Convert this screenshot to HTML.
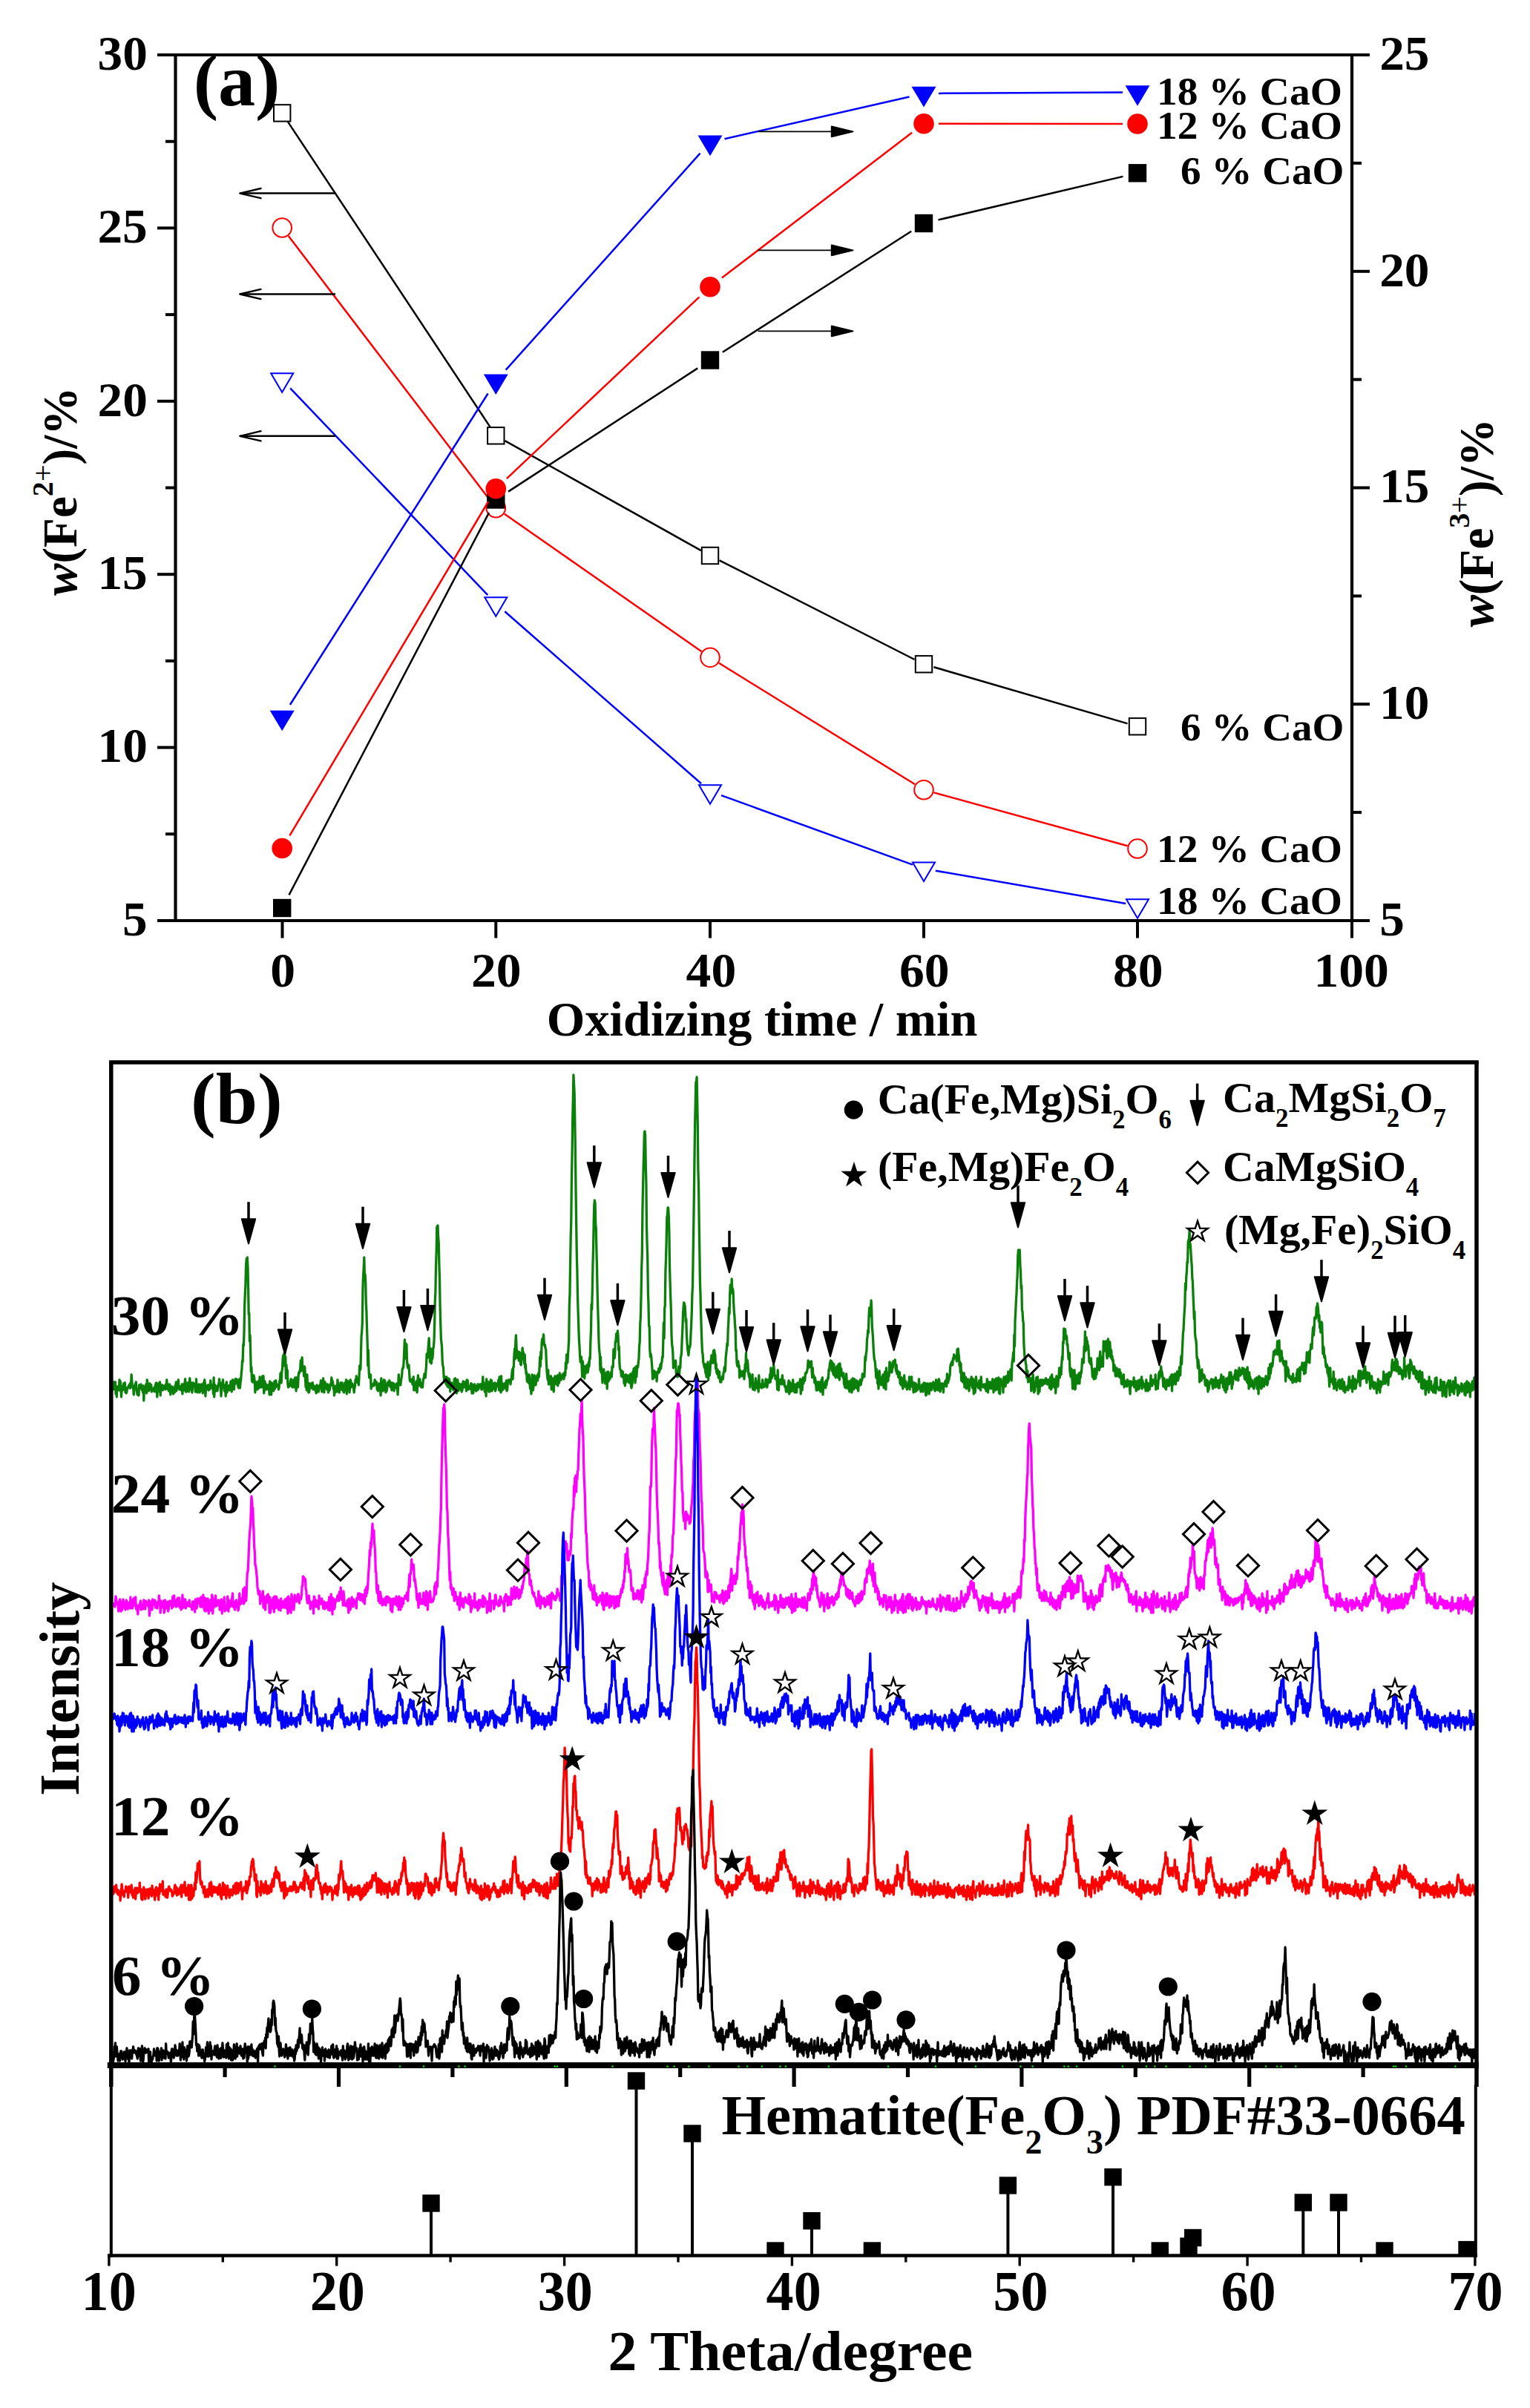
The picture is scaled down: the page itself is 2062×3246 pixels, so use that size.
<!DOCTYPE html>
<html lang="en">
<head>
<meta charset="utf-8">
<title>Fe2+ / Fe3+ content and XRD patterns</title>
<style>
html,body{margin:0;padding:0;background:#fff;}
svg{display:block;}
text{font-family:"Liberation Serif", "Times New Roman", serif;fill:#000;}
</style>
</head>
<body>
<svg width="2062" height="3246" viewBox="0 0 2062 3246">
<rect x="0" y="0" width="2062" height="3246" fill="#ffffff"/>
<g id="chart-a">
<line x1="212.0" y1="74.0" x2="1846.0" y2="74.0" stroke="#000" stroke-width="4.2" />
<line x1="212.0" y1="1241.0" x2="1846.0" y2="1241.0" stroke="#000" stroke-width="4.2" />
<line x1="236.5" y1="72.0" x2="236.5" y2="1243.0" stroke="#000" stroke-width="4.2" />
<line x1="1822.0" y1="72.0" x2="1822.0" y2="1243.0" stroke="#000" stroke-width="4.2" />
<line x1="212.0" y1="74.0" x2="236.5" y2="74.0" stroke="#000" stroke-width="4" />
<line x1="223.0" y1="190.7" x2="236.5" y2="190.7" stroke="#000" stroke-width="4" />
<line x1="212.0" y1="307.4" x2="236.5" y2="307.4" stroke="#000" stroke-width="4" />
<line x1="223.0" y1="424.1" x2="236.5" y2="424.1" stroke="#000" stroke-width="4" />
<line x1="212.0" y1="540.8" x2="236.5" y2="540.8" stroke="#000" stroke-width="4" />
<line x1="223.0" y1="657.5" x2="236.5" y2="657.5" stroke="#000" stroke-width="4" />
<line x1="212.0" y1="774.2" x2="236.5" y2="774.2" stroke="#000" stroke-width="4" />
<line x1="223.0" y1="890.9" x2="236.5" y2="890.9" stroke="#000" stroke-width="4" />
<line x1="212.0" y1="1007.6" x2="236.5" y2="1007.6" stroke="#000" stroke-width="4" />
<line x1="223.0" y1="1124.3" x2="236.5" y2="1124.3" stroke="#000" stroke-width="4" />
<line x1="212.0" y1="1241.0" x2="236.5" y2="1241.0" stroke="#000" stroke-width="4" />
<line x1="1822.0" y1="74.0" x2="1846.0" y2="74.0" stroke="#000" stroke-width="4" />
<line x1="1822.0" y1="219.9" x2="1835.0" y2="219.9" stroke="#000" stroke-width="4" />
<line x1="1822.0" y1="365.8" x2="1846.0" y2="365.8" stroke="#000" stroke-width="4" />
<line x1="1822.0" y1="511.6" x2="1835.0" y2="511.6" stroke="#000" stroke-width="4" />
<line x1="1822.0" y1="657.5" x2="1846.0" y2="657.5" stroke="#000" stroke-width="4" />
<line x1="1822.0" y1="803.4" x2="1835.0" y2="803.4" stroke="#000" stroke-width="4" />
<line x1="1822.0" y1="949.2" x2="1846.0" y2="949.2" stroke="#000" stroke-width="4" />
<line x1="1822.0" y1="1095.1" x2="1835.0" y2="1095.1" stroke="#000" stroke-width="4" />
<line x1="1822.0" y1="1241.0" x2="1846.0" y2="1241.0" stroke="#000" stroke-width="4" />
<line x1="380.5" y1="1241.0" x2="380.5" y2="1264.5" stroke="#000" stroke-width="4" />
<line x1="668.3" y1="1241.0" x2="668.3" y2="1264.5" stroke="#000" stroke-width="4" />
<line x1="957.0" y1="1241.0" x2="957.0" y2="1264.5" stroke="#000" stroke-width="4" />
<line x1="1245.0" y1="1241.0" x2="1245.0" y2="1264.5" stroke="#000" stroke-width="4" />
<line x1="1533.0" y1="1241.0" x2="1533.0" y2="1264.5" stroke="#000" stroke-width="4" />
<line x1="1822.0" y1="1241.0" x2="1822.0" y2="1264.5" stroke="#000" stroke-width="4" />
<text x="131.6" y="93.8" font-size="65" font-weight="bold" textLength="67.3" lengthAdjust="spacingAndGlyphs">30</text>
<text x="131.4" y="327.2" font-size="65" font-weight="bold" textLength="67.3" lengthAdjust="spacingAndGlyphs">25</text>
<text x="131.6" y="560.6" font-size="65" font-weight="bold" textLength="67.3" lengthAdjust="spacingAndGlyphs">20</text>
<text x="131.4" y="794.0" font-size="65" font-weight="bold" textLength="67.3" lengthAdjust="spacingAndGlyphs">15</text>
<text x="131.6" y="1027.4" font-size="65" font-weight="bold" textLength="67.3" lengthAdjust="spacingAndGlyphs">10</text>
<text x="165.1" y="1260.8" font-size="65" font-weight="bold" textLength="33.6" lengthAdjust="spacingAndGlyphs">5</text>
<text x="1859.2" y="93.8" font-size="65" font-weight="bold" textLength="67.3" lengthAdjust="spacingAndGlyphs">25</text>
<text x="1859.2" y="385.6" font-size="65" font-weight="bold" textLength="67.3" lengthAdjust="spacingAndGlyphs">20</text>
<text x="1859.1" y="677.3" font-size="65" font-weight="bold" textLength="67.3" lengthAdjust="spacingAndGlyphs">15</text>
<text x="1859.1" y="969.0" font-size="65" font-weight="bold" textLength="67.3" lengthAdjust="spacingAndGlyphs">10</text>
<text x="1859.3" y="1260.8" font-size="65" font-weight="bold" textLength="33.6" lengthAdjust="spacingAndGlyphs">5</text>
<text x="364.2" y="1330.4" font-size="65" font-weight="bold" textLength="33.8" lengthAdjust="spacingAndGlyphs">0</text>
<text x="635.0" y="1330.4" font-size="65" font-weight="bold" textLength="67.6" lengthAdjust="spacingAndGlyphs">20</text>
<text x="924.6" y="1330.4" font-size="65" font-weight="bold" textLength="67.6" lengthAdjust="spacingAndGlyphs">40</text>
<text x="1211.9" y="1330.4" font-size="65" font-weight="bold" textLength="67.6" lengthAdjust="spacingAndGlyphs">60</text>
<text x="1500.0" y="1330.4" font-size="65" font-weight="bold" textLength="67.6" lengthAdjust="spacingAndGlyphs">80</text>
<text x="1770.5" y="1330.4" font-size="65" font-weight="bold" textLength="101.4" lengthAdjust="spacingAndGlyphs">100</text>
<text x="736.8" y="1396.0" font-size="65" font-weight="bold" textLength="580.6" lengthAdjust="spacingAndGlyphs">Oxidizing time / min</text>
<text x="260.7" y="142.0" font-size="100" font-weight="bold" textLength="116.8" lengthAdjust="spacingAndGlyphs">(a)</text>
<text transform="translate(103,803) rotate(-90)" x="-0.1" y="0" font-size="65" font-weight="bold" textLength="281.7" lengthAdjust="spacingAndGlyphs"><tspan font-style="italic">w</tspan>(Fe<tspan font-size="40" dy="-32">2</tspan><tspan font-size="40" font-weight="normal">+</tspan><tspan dy="32">)/%</tspan></text>
<text transform="translate(2012,845.5) rotate(-90)" x="-0.1" y="0" font-size="65" font-weight="bold" textLength="281.6" lengthAdjust="spacingAndGlyphs"><tspan font-style="italic">w</tspan>(Fe<tspan font-size="40" dy="-32">3</tspan><tspan font-size="40" font-weight="normal">+</tspan><tspan dy="32">)/%</tspan></text>
<line x1="387.9" y1="164.1" x2="660.6" y2="575.6" stroke="#000000" stroke-width="2.5" />
<line x1="680.5" y1="594.1" x2="944.8" y2="742.2" stroke="#000000" stroke-width="2.5" />
<line x1="969.5" y1="755.3" x2="1232.5" y2="889.0" stroke="#000000" stroke-width="2.5" />
<line x1="1258.4" y1="899.2" x2="1519.6" y2="975.4" stroke="#000000" stroke-width="2.5" />
<rect x="369.0" y="141.2" width="22.4" height="22.4" fill="none" stroke="#000000" stroke-width="2"/>
<rect x="657.1" y="576.1" width="22.4" height="22.4" fill="none" stroke="#000000" stroke-width="2"/>
<rect x="945.8" y="737.8" width="22.4" height="22.4" fill="none" stroke="#000000" stroke-width="2"/>
<rect x="1233.8" y="884.1" width="22.4" height="22.4" fill="none" stroke="#000000" stroke-width="2"/>
<rect x="1521.8" y="968.1" width="22.4" height="22.4" fill="none" stroke="#000000" stroke-width="2"/>
<line x1="388.7" y1="318.1" x2="659.8" y2="673.6" stroke="#ff0000" stroke-width="2.5" />
<line x1="679.8" y1="692.7" x2="945.5" y2="878.3" stroke="#ff0000" stroke-width="2.5" />
<line x1="968.9" y1="893.7" x2="1233.1" y2="1057.3" stroke="#ff0000" stroke-width="2.5" />
<line x1="1258.5" y1="1068.4" x2="1519.5" y2="1140.3" stroke="#ff0000" stroke-width="2.5" />
<circle cx="380.2" cy="307.0" r="12.8" fill="none" stroke="#ff0000" stroke-width="2"/>
<circle cx="668.3" cy="684.7" r="12.8" fill="none" stroke="#ff0000" stroke-width="2"/>
<circle cx="957.0" cy="886.3" r="12.8" fill="none" stroke="#ff0000" stroke-width="2"/>
<circle cx="1245.0" cy="1064.7" r="12.8" fill="none" stroke="#ff0000" stroke-width="2"/>
<circle cx="1533.0" cy="1144.0" r="12.8" fill="none" stroke="#ff0000" stroke-width="2"/>
<line x1="391.2" y1="523.3" x2="657.3" y2="802.1" stroke="#0000ff" stroke-width="2.5" />
<line x1="680.3" y1="824.2" x2="945.0" y2="1056.2" stroke="#0000ff" stroke-width="2.5" />
<line x1="972.0" y1="1072.1" x2="1230.0" y2="1165.6" stroke="#0000ff" stroke-width="2.5" />
<line x1="1260.8" y1="1173.7" x2="1517.2" y2="1218.0" stroke="#0000ff" stroke-width="2.5" />
<polygon points="365.2,503.3 395.2,503.3 380.2,528.7" fill="none" stroke="#0000ff" stroke-width="2" stroke-linejoin="miter"/>
<polygon points="653.3,805.3 683.3,805.3 668.3,830.7" fill="none" stroke="#0000ff" stroke-width="2" stroke-linejoin="miter"/>
<polygon points="942.0,1058.3 972.0,1058.3 957.0,1083.7" fill="none" stroke="#0000ff" stroke-width="2" stroke-linejoin="miter"/>
<polygon points="1230.0,1162.6 1260.0,1162.6 1245.0,1188.0" fill="none" stroke="#0000ff" stroke-width="2" stroke-linejoin="miter"/>
<polygon points="1518.0,1212.3 1548.0,1212.3 1533.0,1237.7" fill="none" stroke="#0000ff" stroke-width="2" stroke-linejoin="miter"/>
<line x1="389.5" y1="1206.3" x2="659.0" y2="691.2" stroke="#000000" stroke-width="2.5" />
<line x1="685.1" y1="662.6" x2="940.2" y2="496.4" stroke="#000000" stroke-width="2.5" />
<line x1="973.8" y1="474.7" x2="1228.2" y2="311.8" stroke="#000000" stroke-width="2.5" />
<line x1="1264.5" y1="296.4" x2="1513.5" y2="237.9" stroke="#000000" stroke-width="2.5" />
<rect x="368.0" y="1211.8" width="24.4" height="24.4" fill="#000000"/>
<rect x="656.1" y="661.3" width="24.4" height="24.4" fill="#000000"/>
<rect x="944.8" y="473.3" width="24.4" height="24.4" fill="#000000"/>
<rect x="1232.8" y="288.8" width="24.4" height="24.4" fill="#000000"/>
<rect x="1520.8" y="221.1" width="24.4" height="24.4" fill="#000000"/>
<line x1="390.4" y1="1126.3" x2="658.1" y2="676.0" stroke="#ff0000" stroke-width="2.5" />
<line x1="682.9" y1="645.1" x2="942.4" y2="400.4" stroke="#ff0000" stroke-width="2.5" />
<line x1="972.9" y1="374.6" x2="1229.1" y2="178.8" stroke="#ff0000" stroke-width="2.5" />
<line x1="1265.0" y1="166.7" x2="1513.0" y2="167.0" stroke="#ff0000" stroke-width="2.5" />
<circle cx="380.2" cy="1143.5" r="13.8" fill="#ff0000"/>
<circle cx="668.3" cy="658.8" r="13.8" fill="#ff0000"/>
<circle cx="957.0" cy="386.7" r="13.8" fill="#ff0000"/>
<circle cx="1245.0" cy="166.7" r="13.8" fill="#ff0000"/>
<circle cx="1533.0" cy="167.0" r="13.8" fill="#ff0000"/>
<line x1="390.9" y1="950.0" x2="657.6" y2="530.5" stroke="#0000ff" stroke-width="2.5" />
<line x1="681.7" y1="498.7" x2="943.6" y2="206.7" stroke="#0000ff" stroke-width="2.5" />
<line x1="976.5" y1="187.3" x2="1225.5" y2="130.5" stroke="#0000ff" stroke-width="2.5" />
<line x1="1265.0" y1="125.9" x2="1513.0" y2="124.5" stroke="#0000ff" stroke-width="2.5" />
<polygon points="363.7,957.7 396.7,957.7 380.2,985.3" fill="#0000ff"/>
<polygon points="651.8,504.4 684.8,504.4 668.3,532.0" fill="#0000ff"/>
<polygon points="940.5,182.6 973.5,182.6 957.0,210.2" fill="#0000ff"/>
<polygon points="1228.5,116.8 1261.5,116.8 1245.0,144.4" fill="#0000ff"/>
<polygon points="1516.5,115.2 1549.5,115.2 1533.0,142.8" fill="#0000ff"/>
<line x1="323.5" y1="260.6" x2="452.0" y2="260.6" stroke="#000" stroke-width="2.5" />
<polyline points="351.5,254.0 323.3,260.6 351.5,267.2" fill="none" stroke="#000" stroke-width="2.4" stroke-linecap="round" stroke-linejoin="round"/>
<line x1="323.5" y1="396.5" x2="452.0" y2="396.5" stroke="#000" stroke-width="2.5" />
<polyline points="351.5,389.9 323.3,396.5 351.5,403.1" fill="none" stroke="#000" stroke-width="2.4" stroke-linecap="round" stroke-linejoin="round"/>
<line x1="323.5" y1="587.8" x2="452.0" y2="587.8" stroke="#000" stroke-width="2.5" />
<polyline points="351.5,581.2 323.3,587.8 351.5,594.4" fill="none" stroke="#000" stroke-width="2.4" stroke-linecap="round" stroke-linejoin="round"/>
<line x1="1021.6" y1="177.4" x2="1125.0" y2="177.4" stroke="#000" stroke-width="1.8" />
<polygon points="1149.5,177.4 1120.8,170.5 1120.8,184.3" fill="#000" stroke="#000" stroke-width="2" stroke-linejoin="round"/>
<line x1="1021.6" y1="337.4" x2="1125.0" y2="337.4" stroke="#000" stroke-width="1.8" />
<polygon points="1149.5,337.4 1120.8,330.5 1120.8,344.3" fill="#000" stroke="#000" stroke-width="2" stroke-linejoin="round"/>
<line x1="1021.6" y1="446.4" x2="1125.0" y2="446.4" stroke="#000" stroke-width="1.8" />
<polygon points="1149.5,446.4 1120.8,439.5 1120.8,453.3" fill="#000" stroke="#000" stroke-width="2" stroke-linejoin="round"/>
<text x="1559.1" y="141.3" font-size="53" font-weight="bold" textLength="249.7" lengthAdjust="spacingAndGlyphs">18 % CaO</text>
<text x="1559.1" y="187.2" font-size="53" font-weight="bold" textLength="249.7" lengthAdjust="spacingAndGlyphs">12 % CaO</text>
<text x="1591.1" y="248.0" font-size="53" font-weight="bold" textLength="220.3" lengthAdjust="spacingAndGlyphs">6 % CaO</text>
<text x="1591.1" y="997.8" font-size="53" font-weight="bold" textLength="220.3" lengthAdjust="spacingAndGlyphs">6 % CaO</text>
<text x="1559.1" y="1162.4" font-size="53" font-weight="bold" textLength="249.7" lengthAdjust="spacingAndGlyphs">12 % CaO</text>
<text x="1559.1" y="1231.8" font-size="53" font-weight="bold" textLength="249.7" lengthAdjust="spacingAndGlyphs">18 % CaO</text>
</g>
<g id="chart-b">
<polyline points="152.3,1864 152.9,1873 153.5,1863 154.2,1870 154.8,1864 155.4,1863 156.0,1879 156.6,1876 157.3,1883 157.9,1869 158.5,1871 159.1,1871 159.7,1872 160.4,1874 161.0,1860 161.6,1874 162.2,1862 162.8,1870 163.5,1883 164.1,1870 164.7,1869 165.3,1874 165.9,1871 166.6,1865 167.2,1873 167.8,1868 168.4,1864 169.0,1877 169.7,1873 170.3,1878 170.9,1876 171.5,1871 172.1,1870 172.8,1870 173.4,1869 174.0,1867 174.6,1871 175.2,1865 175.9,1871 176.5,1870 177.1,1853 177.7,1860 178.3,1869 179.0,1868 179.6,1870 180.2,1880 180.8,1873 181.4,1871 182.1,1866 182.7,1867 183.3,1863 183.9,1871 184.5,1877 185.2,1880 185.8,1874 186.4,1879 187.0,1881 187.6,1867 188.3,1872 188.9,1871 189.5,1869 190.1,1866 190.7,1869 191.4,1874 192.0,1871 192.6,1877 193.2,1868 193.8,1888 194.5,1870 195.1,1872 195.7,1873 196.3,1870 196.9,1866 197.6,1878 198.2,1860 198.8,1864 199.4,1870 200.0,1872 200.7,1875 201.3,1872 201.9,1865 202.5,1872 203.1,1870 203.8,1867 204.4,1876 205.0,1874 205.6,1872 206.2,1875 206.9,1873 207.5,1871 208.1,1870 208.7,1876 209.3,1868 210.0,1865 210.6,1864 211.2,1870 211.8,1883 212.4,1872 213.1,1867 213.7,1865 214.3,1875 214.9,1876 215.5,1863 216.2,1881 216.8,1867 217.4,1873 218.0,1870 218.6,1867 219.3,1874 219.9,1868 220.5,1872 221.1,1869 221.7,1872 222.4,1868 223.0,1873 223.6,1866 224.2,1868 224.8,1860 225.5,1872 226.1,1866 226.7,1869 227.3,1875 227.9,1867 228.6,1866 229.2,1869 229.8,1880 230.4,1872 231.0,1872 231.7,1869 232.3,1872 232.9,1870 233.5,1879 234.1,1874 234.8,1871 235.4,1877 236.0,1868 236.6,1875 237.2,1863 237.9,1875 238.5,1867 239.1,1871 239.7,1870 240.3,1860 241.0,1870 241.6,1873 242.2,1870 242.8,1873 243.4,1869 244.1,1874 244.7,1873 245.3,1866 245.9,1879 246.5,1866 247.2,1872 247.8,1874 248.4,1866 249.0,1865 249.6,1859 250.3,1876 250.9,1866 251.5,1876 252.1,1865 252.7,1864 253.4,1873 254.0,1874 254.6,1876 255.2,1864 255.8,1858 256.5,1869 257.1,1873 257.7,1864 258.3,1873 258.9,1877 259.6,1869 260.2,1864 260.8,1868 261.4,1865 262.0,1869 262.7,1869 263.3,1876 263.9,1875 264.5,1859 265.1,1873 265.8,1877 266.4,1870 267.0,1869 267.6,1868 268.2,1866 268.9,1877 269.5,1876 270.1,1870 270.7,1874 271.3,1866 272.0,1874 272.6,1872 273.2,1878 273.8,1875 274.4,1864 275.1,1869 275.7,1860 276.3,1865 276.9,1882 277.5,1872 278.2,1868 278.8,1870 279.4,1873 280.0,1871 280.6,1867 281.3,1874 281.9,1870 282.5,1873 283.1,1869 283.7,1861 284.4,1870 285.0,1871 285.6,1871 286.2,1867 286.8,1869 287.5,1879 288.1,1857 288.7,1883 289.3,1875 289.9,1867 290.6,1875 291.2,1869 291.8,1869 292.4,1872 293.0,1875 293.7,1871 294.3,1866 294.9,1867 295.5,1859 296.1,1864 296.8,1866 297.4,1869 298.0,1882 298.6,1872 299.2,1864 299.9,1866 300.5,1860 301.1,1869 301.7,1867 302.3,1875 303.0,1870 303.6,1871 304.2,1882 304.8,1865 305.4,1863 306.1,1877 306.7,1869 307.3,1870 307.9,1869 308.5,1868 309.2,1874 309.8,1867 310.4,1870 311.0,1862 311.6,1866 312.3,1876 312.9,1868 313.5,1860 314.1,1862 314.7,1871 315.4,1873 316.0,1865 316.6,1865 317.2,1859 317.8,1865 318.5,1862 319.1,1859 319.7,1865 320.3,1865 320.9,1869 321.6,1871 322.2,1862 322.8,1859 323.4,1871 324.0,1864 324.7,1860 325.3,1851 325.9,1846 326.5,1834 327.1,1836 327.8,1812 328.4,1814 329.0,1796 329.6,1762 330.2,1746 330.9,1732 331.5,1707 332.1,1698 332.7,1696 333.3,1695 334.0,1709 334.6,1738 335.2,1772 335.8,1770 336.4,1808 337.1,1800 337.7,1825 338.3,1849 338.9,1843 339.5,1861 340.2,1863 340.8,1854 341.4,1863 342.0,1854 342.6,1857 343.3,1863 343.9,1877 344.5,1866 345.1,1865 345.7,1863 346.4,1864 347.0,1873 347.6,1871 348.2,1862 348.8,1871 349.5,1867 350.1,1856 350.7,1870 351.3,1860 351.9,1864 352.6,1870 353.2,1858 353.8,1855 354.4,1868 355.0,1855 355.7,1878 356.3,1875 356.9,1862 357.5,1866 358.1,1869 358.8,1866 359.4,1873 360.0,1871 360.6,1868 361.2,1872 361.9,1867 362.5,1871 363.1,1880 363.7,1862 364.3,1870 365.0,1864 365.6,1880 366.2,1864 366.8,1865 367.4,1873 368.1,1871 368.7,1875 369.3,1872 369.9,1862 370.5,1872 371.2,1865 371.8,1861 372.4,1866 373.0,1869 373.6,1866 374.3,1869 374.9,1868 375.5,1873 376.1,1870 376.7,1862 377.4,1860 378.0,1851 378.6,1857 379.2,1864 379.8,1849 380.5,1845 381.1,1832 381.7,1827 382.3,1841 382.9,1826 383.6,1822 384.2,1841 384.8,1829 385.4,1858 386.0,1840 386.7,1852 387.3,1847 387.9,1866 388.5,1870 389.1,1866 389.8,1869 390.4,1868 391.0,1866 391.6,1861 392.2,1859 392.9,1860 393.5,1869 394.1,1870 394.7,1870 395.3,1866 396.0,1860 396.6,1867 397.2,1870 397.8,1857 398.4,1863 399.1,1875 399.7,1857 400.3,1870 400.9,1860 401.5,1870 402.2,1854 402.8,1850 403.4,1851 404.0,1848 404.6,1846 405.3,1834 405.9,1848 406.5,1836 407.1,1830 407.7,1843 408.4,1847 409.0,1845 409.6,1855 410.2,1842 410.8,1843 411.5,1859 412.1,1870 412.7,1863 413.3,1874 413.9,1853 414.6,1869 415.2,1864 415.8,1877 416.4,1877 417.0,1874 417.7,1865 418.3,1868 418.9,1868 419.5,1871 420.1,1868 420.8,1864 421.4,1864 422.0,1873 422.6,1869 423.2,1868 423.9,1870 424.5,1869 425.1,1874 425.7,1876 426.3,1878 427.0,1867 427.6,1872 428.2,1875 428.8,1869 429.4,1876 430.1,1868 430.7,1871 431.3,1867 431.9,1867 432.5,1861 433.2,1872 433.8,1876 434.4,1869 435.0,1875 435.6,1858 436.3,1875 436.9,1877 437.5,1863 438.1,1863 438.7,1871 439.4,1866 440.0,1869 440.6,1873 441.2,1866 441.8,1868 442.5,1877 443.1,1875 443.7,1868 444.3,1874 444.9,1866 445.6,1868 446.2,1866 446.8,1857 447.4,1864 448.0,1861 448.7,1865 449.3,1872 449.9,1868 450.5,1881 451.1,1870 451.8,1877 452.4,1872 453.0,1868 453.6,1868 454.2,1876 454.9,1860 455.5,1865 456.1,1871 456.7,1870 457.3,1877 458.0,1866 458.6,1869 459.2,1864 459.8,1873 460.4,1870 461.1,1864 461.7,1874 462.3,1868 462.9,1876 463.5,1877 464.2,1871 464.8,1864 465.4,1865 466.0,1865 466.6,1860 467.3,1879 467.9,1868 468.5,1862 469.1,1871 469.7,1862 470.4,1867 471.0,1877 471.6,1871 472.2,1860 472.8,1862 473.5,1870 474.1,1868 474.7,1865 475.3,1868 475.9,1867 476.6,1871 477.2,1877 477.8,1871 478.4,1869 479.0,1860 479.7,1863 480.3,1855 480.9,1863 481.5,1858 482.1,1864 482.8,1858 483.4,1867 484.0,1857 484.6,1841 485.2,1847 485.9,1845 486.5,1822 487.1,1801 487.7,1795 488.3,1784 489.0,1735 489.6,1719 490.2,1709 490.8,1695 491.4,1719 492.1,1718 492.7,1729 493.3,1757 493.9,1768 494.5,1789 495.2,1811 495.8,1841 496.4,1820 497.0,1846 497.6,1857 498.3,1855 498.9,1855 499.5,1853 500.1,1872 500.7,1867 501.4,1869 502.0,1867 502.6,1866 503.2,1865 503.8,1868 504.5,1867 505.1,1860 505.7,1862 506.3,1864 506.9,1864 507.6,1863 508.2,1873 508.8,1866 509.4,1875 510.0,1870 510.7,1868 511.3,1865 511.9,1868 512.5,1872 513.1,1881 513.8,1858 514.4,1868 515.0,1863 515.6,1871 516.2,1875 516.9,1863 517.5,1860 518.1,1873 518.7,1861 519.3,1873 520.0,1877 520.6,1869 521.2,1875 521.8,1870 522.4,1864 523.1,1863 523.7,1865 524.3,1867 524.9,1861 525.5,1869 526.2,1869 526.8,1864 527.4,1870 528.0,1874 528.6,1864 529.3,1868 529.9,1871 530.5,1865 531.1,1875 531.7,1866 532.4,1867 533.0,1868 533.6,1871 534.2,1868 534.8,1865 535.5,1870 536.1,1880 536.7,1868 537.3,1853 537.9,1865 538.6,1863 539.2,1867 539.8,1867 540.4,1861 541.0,1858 541.7,1853 542.3,1845 542.9,1844 543.5,1844 544.1,1836 544.8,1820 545.4,1806 546.0,1831 546.6,1811 547.2,1814 547.9,1812 548.5,1834 549.1,1841 549.7,1844 550.3,1843 551.0,1840 551.6,1850 552.2,1860 552.8,1862 553.4,1859 554.1,1860 554.7,1863 555.3,1860 555.9,1866 556.5,1861 557.2,1856 557.8,1874 558.4,1870 559.0,1870 559.6,1867 560.3,1874 560.9,1862 561.5,1874 562.1,1877 562.7,1864 563.4,1854 564.0,1864 564.6,1868 565.2,1867 565.8,1859 566.5,1865 567.1,1867 567.7,1870 568.3,1865 568.9,1870 569.6,1870 570.2,1861 570.8,1858 571.4,1858 572.0,1852 572.7,1856 573.3,1857 573.9,1848 574.5,1842 575.1,1825 575.8,1825 576.4,1830 577.0,1819 577.6,1810 578.2,1804 578.9,1823 579.5,1836 580.1,1821 580.7,1818 581.3,1838 582.0,1832 582.6,1832 583.2,1828 583.8,1817 584.4,1816 585.1,1806 585.7,1783 586.3,1754 586.9,1742 587.5,1707 588.2,1687 588.8,1654 589.4,1653 590.0,1652 590.6,1667 591.3,1676 591.9,1705 592.5,1723 593.1,1761 593.7,1783 594.4,1805 595.0,1810 595.6,1817 596.2,1835 596.8,1841 597.5,1843 598.1,1855 598.7,1861 599.3,1859 599.9,1856 600.6,1863 601.2,1866 601.8,1856 602.4,1865 603.0,1869 603.7,1858 604.3,1870 604.9,1859 605.5,1859 606.1,1863 606.8,1876 607.4,1867 608.0,1865 608.6,1864 609.2,1871 609.9,1868 610.5,1871 611.1,1874 611.7,1867 612.3,1859 613.0,1868 613.6,1858 614.2,1864 614.8,1861 615.4,1878 616.1,1865 616.7,1860 617.3,1872 617.9,1875 618.5,1865 619.2,1872 619.8,1869 620.4,1873 621.0,1866 621.6,1868 622.3,1876 622.9,1874 623.5,1870 624.1,1862 624.7,1870 625.4,1867 626.0,1870 626.6,1863 627.2,1868 627.8,1864 628.5,1875 629.1,1860 629.7,1867 630.3,1861 630.9,1873 631.6,1873 632.2,1869 632.8,1870 633.4,1872 634.0,1869 634.7,1865 635.3,1865 635.9,1878 636.5,1872 637.1,1867 637.8,1878 638.4,1869 639.0,1870 639.6,1866 640.2,1873 640.9,1868 641.5,1875 642.1,1875 642.7,1869 643.3,1870 644.0,1866 644.6,1873 645.2,1868 645.8,1869 646.4,1870 647.1,1866 647.7,1866 648.3,1866 648.9,1873 649.5,1873 650.2,1866 650.8,1856 651.4,1871 652.0,1863 652.6,1870 653.3,1876 653.9,1872 654.5,1867 655.1,1882 655.7,1859 656.4,1873 657.0,1873 657.6,1870 658.2,1863 658.8,1876 659.5,1873 660.1,1876 660.7,1872 661.3,1860 661.9,1874 662.6,1861 663.2,1875 663.8,1867 664.4,1870 665.0,1868 665.7,1865 666.3,1872 666.9,1864 667.5,1875 668.1,1873 668.8,1866 669.4,1869 670.0,1865 670.6,1867 671.2,1866 671.9,1860 672.5,1874 673.1,1856 673.7,1865 674.3,1864 675.0,1877 675.6,1855 676.2,1875 676.8,1867 677.4,1865 678.1,1873 678.7,1866 679.3,1871 679.9,1868 680.5,1865 681.2,1864 681.8,1872 682.4,1861 683.0,1875 683.6,1874 684.3,1864 684.9,1861 685.5,1860 686.1,1861 686.7,1861 687.4,1860 688.0,1866 688.6,1861 689.2,1860 689.8,1853 690.5,1846 691.1,1859 691.7,1843 692.3,1843 692.9,1828 693.6,1818 694.2,1832 694.8,1809 695.4,1800 696.0,1814 696.7,1830 697.3,1825 697.9,1822 698.5,1822 699.1,1834 699.8,1828 700.4,1823 701.0,1834 701.6,1839 702.2,1840 702.9,1831 703.5,1828 704.1,1817 704.7,1823 705.3,1823 706.0,1831 706.6,1838 707.2,1826 707.8,1844 708.4,1839 709.1,1852 709.7,1850 710.3,1862 710.9,1860 711.5,1863 712.2,1864 712.8,1853 713.4,1855 714.0,1866 714.6,1872 715.3,1867 715.9,1879 716.5,1873 717.1,1853 717.7,1867 718.4,1874 719.0,1869 719.6,1866 720.2,1854 720.8,1861 721.5,1860 722.1,1867 722.7,1858 723.3,1857 723.9,1854 724.6,1861 725.2,1856 725.8,1851 726.4,1856 727.0,1844 727.7,1829 728.3,1842 728.9,1822 729.5,1832 730.1,1810 730.8,1805 731.4,1812 732.0,1804 732.6,1799 733.2,1811 733.9,1814 734.5,1813 735.1,1818 735.7,1819 736.3,1835 737.0,1848 737.6,1855 738.2,1860 738.8,1847 739.4,1866 740.1,1855 740.7,1859 741.3,1857 741.9,1866 742.5,1855 743.2,1873 743.8,1858 744.4,1858 745.0,1859 745.6,1871 746.3,1876 746.9,1860 747.5,1857 748.1,1855 748.7,1857 749.4,1864 750.0,1866 750.6,1862 751.2,1854 751.8,1868 752.5,1856 753.1,1854 753.7,1864 754.3,1851 754.9,1859 755.6,1859 756.2,1860 756.8,1857 757.4,1854 758.0,1856 758.7,1852 759.3,1854 759.9,1859 760.5,1855 761.1,1850 761.8,1854 762.4,1837 763.0,1845 763.6,1826 764.2,1836 764.9,1837 765.5,1826 766.1,1817 766.7,1807 767.3,1761 768.0,1743 768.6,1701 769.2,1667 769.8,1645 770.4,1591 771.1,1554 771.7,1509 772.3,1483 772.9,1449 773.5,1460 774.2,1475 774.8,1510 775.4,1552 776.0,1602 776.6,1644 777.3,1691 777.9,1713 778.5,1747 779.1,1768 779.7,1786 780.4,1806 781.0,1815 781.6,1828 782.2,1836 782.8,1832 783.5,1829 784.1,1842 784.7,1856 785.3,1835 785.9,1840 786.6,1844 787.2,1845 787.8,1858 788.4,1842 789.0,1852 789.7,1847 790.3,1849 790.9,1840 791.5,1845 792.1,1850 792.8,1846 793.4,1836 794.0,1842 794.6,1830 795.2,1832 795.9,1807 796.5,1794 797.1,1758 797.7,1765 798.3,1740 799.0,1703 799.6,1682 800.2,1648 800.8,1625 801.4,1618 802.1,1622 802.7,1650 803.3,1656 803.9,1685 804.5,1707 805.2,1743 805.8,1766 806.4,1784 807.0,1808 807.6,1820 808.3,1825 808.9,1847 809.5,1829 810.1,1850 810.7,1844 811.4,1853 812.0,1864 812.6,1852 813.2,1859 813.8,1846 814.5,1856 815.1,1855 815.7,1865 816.3,1854 816.9,1863 817.6,1850 818.2,1872 818.8,1857 819.4,1849 820.0,1862 820.7,1855 821.3,1858 821.9,1859 822.5,1856 823.1,1850 823.8,1850 824.4,1856 825.0,1842 825.6,1842 826.2,1843 826.9,1819 827.5,1823 828.1,1831 828.7,1826 829.3,1809 830.0,1807 830.6,1798 831.2,1808 831.8,1798 832.4,1794 833.1,1802 833.7,1820 834.3,1815 834.9,1838 835.5,1844 836.2,1847 836.8,1848 837.4,1855 838.0,1848 838.6,1856 839.3,1849 839.9,1856 840.5,1853 841.1,1865 841.7,1855 842.4,1868 843.0,1859 843.6,1853 844.2,1863 844.8,1856 845.5,1855 846.1,1856 846.7,1854 847.3,1862 847.9,1864 848.6,1863 849.2,1857 849.8,1852 850.4,1868 851.0,1871 851.7,1867 852.3,1864 852.9,1849 853.5,1855 854.1,1845 854.8,1849 855.4,1844 856.0,1864 856.6,1858 857.2,1842 857.9,1856 858.5,1846 859.1,1841 859.7,1843 860.3,1837 861.0,1831 861.6,1814 862.2,1809 862.8,1784 863.4,1775 864.1,1745 864.7,1710 865.3,1691 865.9,1634 866.5,1603 867.2,1572 867.8,1551 868.4,1527 869.0,1525 869.6,1531 870.3,1571 870.9,1595 871.5,1653 872.1,1677 872.7,1694 873.4,1743 874.0,1759 874.6,1788 875.2,1788 875.8,1819 876.5,1829 877.1,1825 877.7,1828 878.3,1836 878.9,1844 879.6,1859 880.2,1858 880.8,1858 881.4,1852 882.0,1848 882.7,1856 883.3,1851 883.9,1851 884.5,1850 885.1,1862 885.8,1851 886.4,1849 887.0,1851 887.6,1845 888.2,1850 888.9,1848 889.5,1842 890.1,1839 890.7,1845 891.3,1838 892.0,1836 892.6,1829 893.2,1830 893.8,1809 894.4,1783 895.1,1804 895.7,1764 896.3,1759 896.9,1714 897.5,1698 898.2,1672 898.8,1641 899.4,1638 900.0,1628 900.6,1628 901.3,1639 901.9,1662 902.5,1706 903.1,1728 903.7,1748 904.4,1767 905.0,1799 905.6,1812 906.2,1816 906.8,1823 907.5,1844 908.1,1839 908.7,1838 909.3,1836 909.9,1836 910.6,1834 911.2,1850 911.8,1855 912.4,1851 913.0,1856 913.7,1855 914.3,1850 914.9,1842 915.5,1853 916.1,1844 916.8,1844 917.4,1829 918.0,1828 918.6,1822 919.2,1804 919.9,1790 920.5,1772 921.1,1762 921.7,1756 922.3,1757 923.0,1760 923.6,1768 924.2,1782 924.8,1778 925.4,1800 926.1,1811 926.7,1819 927.3,1822 927.9,1827 928.5,1821 929.2,1815 929.8,1816 930.4,1812 931.0,1798 931.6,1787 932.3,1769 932.9,1745 933.5,1734 934.1,1694 934.7,1657 935.4,1607 936.0,1561 936.6,1516 937.2,1490 937.8,1459 938.5,1458 939.1,1452 939.7,1484 940.3,1516 940.9,1576 941.6,1600 942.2,1648 942.8,1685 943.4,1727 944.0,1745 944.7,1773 945.3,1793 945.9,1810 946.5,1823 947.1,1825 947.8,1837 948.4,1838 949.0,1842 949.6,1844 950.2,1839 950.9,1851 951.5,1849 952.1,1856 952.7,1839 953.3,1848 954.0,1836 954.6,1860 955.2,1848 955.8,1844 956.4,1854 957.1,1846 957.7,1834 958.3,1838 958.9,1827 959.5,1837 960.2,1830 960.8,1837 961.4,1821 962.0,1837 962.6,1820 963.3,1824 963.9,1827 964.5,1845 965.1,1838 965.7,1850 966.4,1852 967.0,1846 967.6,1849 968.2,1857 968.8,1856 969.5,1849 970.1,1859 970.7,1863 971.3,1858 971.9,1863 972.6,1857 973.2,1857 973.8,1855 974.4,1859 975.0,1851 975.7,1848 976.3,1843 976.9,1849 977.5,1847 978.1,1830 978.8,1824 979.4,1818 980.0,1811 980.6,1814 981.2,1792 981.9,1780 982.5,1763 983.1,1771 983.7,1744 984.3,1732 985.0,1737 985.6,1743 986.2,1724 986.8,1740 987.4,1737 988.1,1741 988.7,1756 989.3,1768 989.9,1774 990.5,1785 991.2,1794 991.8,1821 992.4,1820 993.0,1837 993.6,1841 994.3,1842 994.9,1835 995.5,1843 996.1,1841 996.7,1857 997.4,1847 998.0,1853 998.6,1854 999.2,1854 999.8,1855 1000.5,1849 1001.1,1851 1001.7,1850 1002.3,1848 1002.9,1859 1003.6,1851 1004.2,1839 1004.8,1849 1005.4,1824 1006.0,1838 1006.7,1833 1007.3,1834 1007.9,1839 1008.5,1849 1009.1,1854 1009.8,1857 1010.4,1852 1011.0,1870 1011.6,1860 1012.2,1860 1012.9,1859 1013.5,1858 1014.1,1853 1014.7,1873 1015.3,1868 1016.0,1869 1016.6,1866 1017.2,1874 1017.8,1864 1018.4,1858 1019.1,1861 1019.7,1869 1020.3,1871 1020.9,1867 1021.5,1868 1022.2,1876 1022.8,1854 1023.4,1867 1024.0,1870 1024.6,1869 1025.3,1867 1025.9,1866 1026.5,1871 1027.1,1870 1027.7,1860 1028.4,1866 1029.0,1870 1029.6,1868 1030.2,1869 1030.8,1868 1031.5,1867 1032.1,1859 1032.7,1862 1033.3,1870 1033.9,1870 1034.6,1863 1035.2,1860 1035.8,1862 1036.4,1864 1037.0,1860 1037.7,1853 1038.3,1863 1038.9,1844 1039.5,1856 1040.1,1858 1040.8,1854 1041.4,1850 1042.0,1850 1042.6,1840 1043.2,1845 1043.9,1855 1044.5,1854 1045.1,1859 1045.7,1855 1046.3,1857 1047.0,1858 1047.6,1873 1048.2,1847 1048.8,1862 1049.4,1874 1050.1,1862 1050.7,1866 1051.3,1860 1051.9,1863 1052.5,1865 1053.2,1859 1053.8,1866 1054.4,1854 1055.0,1864 1055.6,1864 1056.3,1866 1056.9,1861 1057.5,1869 1058.1,1869 1058.7,1870 1059.4,1876 1060.0,1869 1060.6,1870 1061.2,1876 1061.8,1873 1062.5,1864 1063.1,1861 1063.7,1879 1064.3,1863 1064.9,1869 1065.6,1876 1066.2,1865 1066.8,1870 1067.4,1875 1068.0,1872 1068.7,1860 1069.3,1875 1069.9,1873 1070.5,1871 1071.1,1877 1071.8,1866 1072.4,1872 1073.0,1869 1073.6,1877 1074.2,1867 1074.9,1864 1075.5,1869 1076.1,1869 1076.7,1869 1077.3,1870 1078.0,1861 1078.6,1859 1079.2,1879 1079.8,1869 1080.4,1860 1081.1,1874 1081.7,1864 1082.3,1857 1082.9,1865 1083.5,1861 1084.2,1860 1084.8,1861 1085.4,1851 1086.0,1852 1086.6,1850 1087.3,1850 1087.9,1847 1088.5,1844 1089.1,1834 1089.7,1835 1090.4,1836 1091.0,1843 1091.6,1841 1092.2,1837 1092.8,1836 1093.5,1835 1094.1,1849 1094.7,1857 1095.3,1844 1095.9,1856 1096.6,1854 1097.2,1856 1097.8,1864 1098.4,1857 1099.0,1861 1099.7,1867 1100.3,1874 1100.9,1863 1101.5,1872 1102.1,1874 1102.8,1863 1103.4,1866 1104.0,1863 1104.6,1868 1105.2,1873 1105.9,1876 1106.5,1870 1107.1,1860 1107.7,1865 1108.3,1857 1109.0,1880 1109.6,1869 1110.2,1868 1110.8,1868 1111.4,1870 1112.1,1863 1112.7,1871 1113.3,1861 1113.9,1867 1114.5,1861 1115.2,1861 1115.8,1857 1116.4,1858 1117.0,1846 1117.6,1848 1118.3,1839 1118.9,1836 1119.5,1834 1120.1,1840 1120.7,1835 1121.4,1848 1122.0,1837 1122.6,1849 1123.2,1853 1123.8,1839 1124.5,1852 1125.1,1855 1125.7,1853 1126.3,1857 1126.9,1848 1127.6,1842 1128.2,1843 1128.8,1853 1129.4,1857 1130.0,1839 1130.7,1845 1131.3,1860 1131.9,1838 1132.5,1845 1133.1,1854 1133.8,1845 1134.4,1854 1135.0,1855 1135.6,1855 1136.2,1857 1136.9,1851 1137.5,1866 1138.1,1866 1138.7,1870 1139.3,1866 1140.0,1871 1140.6,1852 1141.2,1862 1141.8,1863 1142.4,1864 1143.1,1872 1143.7,1862 1144.3,1871 1144.9,1876 1145.5,1862 1146.2,1875 1146.8,1861 1147.4,1860 1148.0,1877 1148.6,1866 1149.3,1858 1149.9,1869 1150.5,1873 1151.1,1861 1151.7,1859 1152.4,1871 1153.0,1866 1153.6,1870 1154.2,1864 1154.8,1861 1155.5,1872 1156.1,1871 1156.7,1875 1157.3,1863 1157.9,1863 1158.6,1864 1159.2,1860 1159.8,1867 1160.4,1866 1161.0,1860 1161.7,1861 1162.3,1852 1162.9,1857 1163.5,1853 1164.1,1855 1164.8,1856 1165.4,1845 1166.0,1829 1166.6,1834 1167.2,1825 1167.9,1821 1168.5,1806 1169.1,1802 1169.7,1793 1170.3,1797 1171.0,1775 1171.6,1763 1172.2,1763 1172.8,1774 1173.4,1766 1174.1,1753 1174.7,1765 1175.3,1788 1175.9,1795 1176.5,1803 1177.2,1818 1177.8,1826 1178.4,1833 1179.0,1834 1179.6,1839 1180.3,1850 1180.9,1857 1181.5,1846 1182.1,1853 1182.7,1865 1183.4,1861 1184.0,1872 1184.6,1861 1185.2,1848 1185.8,1858 1186.5,1861 1187.1,1857 1187.7,1867 1188.3,1864 1188.9,1865 1189.6,1854 1190.2,1853 1190.8,1869 1191.4,1871 1192.0,1860 1192.7,1849 1193.3,1851 1193.9,1873 1194.5,1844 1195.1,1860 1195.8,1855 1196.4,1862 1197.0,1861 1197.6,1850 1198.2,1855 1198.9,1836 1199.5,1850 1200.1,1837 1200.7,1849 1201.3,1845 1202.0,1850 1202.6,1840 1203.2,1844 1203.8,1835 1204.4,1835 1205.1,1835 1205.7,1835 1206.3,1833 1206.9,1842 1207.5,1848 1208.2,1840 1208.8,1852 1209.4,1849 1210.0,1848 1210.6,1856 1211.3,1857 1211.9,1850 1212.5,1850 1213.1,1865 1213.7,1863 1214.4,1867 1215.0,1857 1215.6,1859 1216.2,1866 1216.8,1872 1217.5,1866 1218.1,1864 1218.7,1854 1219.3,1868 1219.9,1869 1220.6,1862 1221.2,1870 1221.8,1867 1222.4,1873 1223.0,1870 1223.7,1870 1224.3,1863 1224.9,1866 1225.5,1856 1226.1,1873 1226.8,1861 1227.4,1869 1228.0,1867 1228.6,1856 1229.2,1869 1229.9,1863 1230.5,1867 1231.1,1877 1231.7,1866 1232.3,1864 1233.0,1871 1233.6,1876 1234.2,1865 1234.8,1875 1235.4,1874 1236.1,1874 1236.7,1867 1237.3,1869 1237.9,1872 1238.5,1859 1239.2,1872 1239.8,1871 1240.4,1871 1241.0,1876 1241.6,1872 1242.3,1867 1242.9,1868 1243.5,1875 1244.1,1876 1244.7,1865 1245.4,1864 1246.0,1869 1246.6,1870 1247.2,1865 1247.8,1881 1248.5,1880 1249.1,1874 1249.7,1865 1250.3,1877 1250.9,1875 1251.6,1870 1252.2,1879 1252.8,1865 1253.4,1867 1254.0,1872 1254.7,1865 1255.3,1874 1255.9,1866 1256.5,1869 1257.1,1871 1257.8,1863 1258.4,1866 1259.0,1871 1259.6,1874 1260.2,1875 1260.9,1869 1261.5,1860 1262.1,1861 1262.7,1873 1263.3,1862 1264.0,1874 1264.6,1874 1265.2,1859 1265.8,1861 1266.4,1873 1267.1,1876 1267.7,1873 1268.3,1865 1268.9,1869 1269.5,1868 1270.2,1865 1270.8,1868 1271.4,1877 1272.0,1867 1272.6,1869 1273.3,1864 1273.9,1862 1274.5,1861 1275.1,1865 1275.7,1869 1276.4,1852 1277.0,1856 1277.6,1864 1278.2,1861 1278.8,1860 1279.5,1856 1280.1,1854 1280.7,1843 1281.3,1839 1281.9,1838 1282.6,1836 1283.2,1835 1283.8,1840 1284.4,1831 1285.0,1833 1285.7,1826 1286.3,1827 1286.9,1829 1287.5,1829 1288.1,1831 1288.8,1831 1289.4,1835 1290.0,1819 1290.6,1830 1291.2,1818 1291.9,1825 1292.5,1830 1293.1,1841 1293.7,1836 1294.3,1850 1295.0,1838 1295.6,1861 1296.2,1849 1296.8,1858 1297.4,1863 1298.1,1862 1298.7,1862 1299.3,1851 1299.9,1870 1300.5,1857 1301.2,1856 1301.8,1860 1302.4,1872 1303.0,1871 1303.6,1868 1304.3,1859 1304.9,1863 1305.5,1868 1306.1,1875 1306.7,1863 1307.4,1862 1308.0,1859 1308.6,1867 1309.2,1856 1309.8,1865 1310.5,1871 1311.1,1870 1311.7,1859 1312.3,1879 1312.9,1870 1313.6,1861 1314.2,1877 1314.8,1866 1315.4,1856 1316.0,1863 1316.7,1866 1317.3,1865 1317.9,1869 1318.5,1871 1319.1,1865 1319.8,1861 1320.4,1865 1321.0,1873 1321.6,1874 1322.2,1856 1322.9,1866 1323.5,1869 1324.1,1866 1324.7,1868 1325.3,1870 1326.0,1867 1326.6,1866 1327.2,1868 1327.8,1872 1328.4,1866 1329.1,1875 1329.7,1872 1330.3,1859 1330.9,1873 1331.5,1877 1332.2,1863 1332.8,1872 1333.4,1863 1334.0,1863 1334.6,1864 1335.3,1866 1335.9,1872 1336.5,1863 1337.1,1867 1337.7,1859 1338.4,1863 1339.0,1877 1339.6,1868 1340.2,1870 1340.8,1860 1341.5,1874 1342.1,1868 1342.7,1858 1343.3,1873 1343.9,1864 1344.6,1870 1345.2,1864 1345.8,1857 1346.4,1878 1347.0,1863 1347.7,1879 1348.3,1865 1348.9,1859 1349.5,1864 1350.1,1866 1350.8,1866 1351.4,1864 1352.0,1877 1352.6,1858 1353.2,1856 1353.9,1869 1354.5,1860 1355.1,1869 1355.7,1861 1356.3,1855 1357.0,1857 1357.6,1861 1358.2,1864 1358.8,1849 1359.4,1862 1360.1,1854 1360.7,1857 1361.3,1852 1361.9,1846 1362.5,1855 1363.2,1861 1363.8,1841 1364.4,1834 1365.0,1831 1365.6,1823 1366.3,1835 1366.9,1799 1367.5,1815 1368.1,1779 1368.7,1769 1369.4,1753 1370.0,1744 1370.6,1728 1371.2,1719 1371.8,1693 1372.5,1685 1373.1,1688 1373.7,1695 1374.3,1685 1374.9,1705 1375.6,1717 1376.2,1737 1376.8,1733 1377.4,1766 1378.0,1768 1378.7,1780 1379.3,1784 1379.9,1812 1380.5,1822 1381.1,1830 1381.8,1832 1382.4,1838 1383.0,1840 1383.6,1857 1384.2,1853 1384.9,1848 1385.5,1863 1386.1,1856 1386.7,1856 1387.3,1859 1388.0,1858 1388.6,1863 1389.2,1858 1389.8,1875 1390.4,1868 1391.1,1861 1391.7,1857 1392.3,1853 1392.9,1868 1393.5,1877 1394.2,1863 1394.8,1875 1395.4,1863 1396.0,1868 1396.6,1857 1397.3,1864 1397.9,1869 1398.5,1856 1399.1,1879 1399.7,1872 1400.4,1868 1401.0,1876 1401.6,1861 1402.2,1860 1402.8,1862 1403.5,1865 1404.1,1868 1404.7,1860 1405.3,1867 1405.9,1863 1406.6,1864 1407.2,1865 1407.8,1860 1408.4,1862 1409.0,1865 1409.7,1858 1410.3,1862 1410.9,1861 1411.5,1866 1412.1,1864 1412.8,1860 1413.4,1861 1414.0,1866 1414.6,1871 1415.2,1860 1415.9,1856 1416.5,1873 1417.1,1872 1417.7,1853 1418.3,1862 1419.0,1869 1419.6,1869 1420.2,1859 1420.8,1870 1421.4,1869 1422.1,1859 1422.7,1878 1423.3,1868 1423.9,1855 1424.5,1866 1425.2,1868 1425.8,1869 1426.4,1859 1427.0,1856 1427.6,1844 1428.3,1857 1428.9,1844 1429.5,1849 1430.1,1853 1430.7,1840 1431.4,1829 1432.0,1833 1432.6,1809 1433.2,1811 1433.8,1791 1434.5,1792 1435.1,1796 1435.7,1792 1436.3,1805 1436.9,1805 1437.6,1801 1438.2,1813 1438.8,1812 1439.4,1822 1440.0,1832 1440.7,1829 1441.3,1824 1441.9,1848 1442.5,1852 1443.1,1856 1443.8,1845 1444.4,1851 1445.0,1859 1445.6,1872 1446.2,1869 1446.9,1847 1447.5,1862 1448.1,1847 1448.7,1873 1449.3,1872 1450.0,1862 1450.6,1854 1451.2,1864 1451.8,1862 1452.4,1865 1453.1,1853 1453.7,1853 1454.3,1851 1454.9,1865 1455.5,1851 1456.2,1857 1456.8,1849 1457.4,1851 1458.0,1843 1458.6,1832 1459.3,1836 1459.9,1835 1460.5,1837 1461.1,1815 1461.7,1821 1462.4,1795 1463.0,1821 1463.6,1807 1464.2,1803 1464.8,1819 1465.5,1808 1466.1,1818 1466.7,1814 1467.3,1824 1467.9,1835 1468.6,1837 1469.2,1831 1469.8,1839 1470.4,1831 1471.0,1839 1471.7,1846 1472.3,1856 1472.9,1846 1473.5,1851 1474.1,1859 1474.8,1859 1475.4,1845 1476.0,1850 1476.6,1858 1477.2,1852 1477.9,1853 1478.5,1846 1479.1,1831 1479.7,1836 1480.3,1837 1481.0,1843 1481.6,1847 1482.2,1828 1482.8,1822 1483.4,1843 1484.1,1839 1484.7,1832 1485.3,1835 1485.9,1829 1486.5,1842 1487.2,1808 1487.8,1815 1488.4,1816 1489.0,1813 1489.6,1821 1490.3,1808 1490.9,1816 1491.5,1826 1492.1,1831 1492.7,1810 1493.4,1805 1494.0,1822 1494.6,1828 1495.2,1819 1495.8,1809 1496.5,1822 1497.1,1830 1497.7,1820 1498.3,1832 1498.9,1828 1499.6,1835 1500.2,1833 1500.8,1848 1501.4,1844 1502.0,1840 1502.7,1847 1503.3,1855 1503.9,1850 1504.5,1844 1505.1,1855 1505.8,1845 1506.4,1846 1507.0,1852 1507.6,1850 1508.2,1856 1508.9,1846 1509.5,1857 1510.1,1850 1510.7,1851 1511.3,1865 1512.0,1866 1512.6,1863 1513.2,1863 1513.8,1858 1514.4,1853 1515.1,1870 1515.7,1861 1516.3,1862 1516.9,1866 1517.5,1868 1518.2,1866 1518.8,1869 1519.4,1860 1520.0,1863 1520.6,1867 1521.3,1863 1521.9,1862 1522.5,1871 1523.1,1879 1523.7,1862 1524.4,1865 1525.0,1868 1525.6,1863 1526.2,1865 1526.8,1866 1527.5,1866 1528.1,1857 1528.7,1870 1529.3,1869 1529.9,1863 1530.6,1862 1531.2,1875 1531.8,1864 1532.4,1862 1533.0,1872 1533.7,1873 1534.3,1861 1534.9,1863 1535.5,1872 1536.1,1860 1536.8,1867 1537.4,1861 1538.0,1865 1538.6,1856 1539.2,1872 1539.9,1861 1540.5,1864 1541.1,1868 1541.7,1865 1542.3,1869 1543.0,1871 1543.6,1871 1544.2,1875 1544.8,1860 1545.4,1869 1546.1,1866 1546.7,1864 1547.3,1875 1547.9,1866 1548.5,1866 1549.2,1873 1549.8,1867 1550.4,1864 1551.0,1854 1551.6,1868 1552.3,1868 1552.9,1868 1553.5,1860 1554.1,1860 1554.7,1861 1555.4,1862 1556.0,1864 1556.6,1866 1557.2,1853 1557.8,1873 1558.5,1861 1559.1,1865 1559.7,1869 1560.3,1872 1560.9,1865 1561.6,1853 1562.2,1850 1562.8,1858 1563.4,1848 1564.0,1855 1564.7,1842 1565.3,1848 1565.9,1849 1566.5,1853 1567.1,1858 1567.8,1869 1568.4,1859 1569.0,1858 1569.6,1865 1570.2,1871 1570.9,1864 1571.5,1873 1572.1,1866 1572.7,1860 1573.3,1862 1574.0,1868 1574.6,1862 1575.2,1860 1575.8,1868 1576.4,1859 1577.1,1856 1577.7,1862 1578.3,1863 1578.9,1853 1579.5,1875 1580.2,1853 1580.8,1867 1581.4,1865 1582.0,1858 1582.6,1855 1583.3,1852 1583.9,1852 1584.5,1866 1585.1,1859 1585.7,1855 1586.4,1849 1587.0,1859 1587.6,1861 1588.2,1858 1588.8,1851 1589.5,1843 1590.1,1844 1590.7,1854 1591.3,1836 1591.9,1828 1592.6,1839 1593.2,1823 1593.8,1811 1594.4,1797 1595.0,1793 1595.7,1778 1596.3,1768 1596.9,1759 1597.5,1730 1598.1,1739 1598.8,1721 1599.4,1714 1600.0,1701 1600.6,1702 1601.2,1674 1601.9,1671 1602.5,1670 1603.1,1658 1603.7,1681 1604.3,1677 1605.0,1689 1605.6,1699 1606.2,1706 1606.8,1723 1607.4,1727 1608.1,1747 1608.7,1760 1609.3,1778 1609.9,1768 1610.5,1797 1611.2,1804 1611.8,1806 1612.4,1813 1613.0,1831 1613.6,1830 1614.3,1844 1614.9,1833 1615.5,1840 1616.1,1841 1616.7,1863 1617.4,1851 1618.0,1853 1618.6,1848 1619.2,1861 1619.8,1846 1620.5,1858 1621.1,1853 1621.7,1854 1622.3,1853 1622.9,1858 1623.6,1855 1624.2,1867 1624.8,1866 1625.4,1868 1626.0,1860 1626.7,1861 1627.3,1861 1627.9,1876 1628.5,1865 1629.1,1873 1629.8,1865 1630.4,1864 1631.0,1862 1631.6,1865 1632.2,1860 1632.9,1859 1633.5,1861 1634.1,1868 1634.7,1872 1635.3,1860 1636.0,1860 1636.6,1869 1637.2,1860 1637.8,1870 1638.4,1857 1639.1,1866 1639.7,1869 1640.3,1861 1640.9,1861 1641.5,1866 1642.2,1871 1642.8,1864 1643.4,1871 1644.0,1860 1644.6,1859 1645.3,1864 1645.9,1853 1646.5,1863 1647.1,1862 1647.7,1860 1648.4,1870 1649.0,1856 1649.6,1864 1650.2,1874 1650.8,1870 1651.5,1874 1652.1,1877 1652.7,1858 1653.3,1864 1653.9,1873 1654.6,1859 1655.2,1864 1655.8,1856 1656.4,1866 1657.0,1850 1657.7,1858 1658.3,1859 1658.9,1850 1659.5,1856 1660.1,1872 1660.8,1865 1661.4,1866 1662.0,1859 1662.6,1856 1663.2,1858 1663.9,1853 1664.5,1854 1665.1,1847 1665.7,1860 1666.3,1850 1667.0,1848 1667.6,1856 1668.2,1856 1668.8,1861 1669.4,1850 1670.1,1844 1670.7,1852 1671.3,1847 1671.9,1854 1672.5,1849 1673.2,1852 1673.8,1850 1674.4,1844 1675.0,1850 1675.6,1852 1676.3,1845 1676.9,1855 1677.5,1859 1678.1,1854 1678.7,1860 1679.4,1846 1680.0,1860 1680.6,1863 1681.2,1843 1681.8,1865 1682.5,1852 1683.1,1872 1683.7,1850 1684.3,1858 1684.9,1856 1685.6,1869 1686.2,1860 1686.8,1860 1687.4,1861 1688.0,1866 1688.7,1870 1689.3,1865 1689.9,1872 1690.5,1869 1691.1,1859 1691.8,1865 1692.4,1859 1693.0,1864 1693.6,1857 1694.2,1872 1694.9,1862 1695.5,1864 1696.1,1879 1696.7,1855 1697.3,1860 1698.0,1861 1698.6,1857 1699.2,1868 1699.8,1872 1700.4,1871 1701.1,1866 1701.7,1858 1702.3,1866 1702.9,1864 1703.5,1869 1704.2,1859 1704.8,1862 1705.4,1860 1706.0,1855 1706.6,1866 1707.3,1863 1707.9,1867 1708.5,1864 1709.1,1860 1709.7,1844 1710.4,1859 1711.0,1857 1711.6,1839 1712.2,1852 1712.8,1848 1713.5,1838 1714.1,1842 1714.7,1842 1715.3,1838 1715.9,1830 1716.6,1822 1717.2,1827 1717.8,1825 1718.4,1820 1719.0,1824 1719.7,1825 1720.3,1825 1720.9,1821 1721.5,1808 1722.1,1826 1722.8,1818 1723.4,1821 1724.0,1807 1724.6,1825 1725.2,1835 1725.9,1824 1726.5,1831 1727.1,1821 1727.7,1829 1728.3,1830 1729.0,1837 1729.6,1837 1730.2,1840 1730.8,1835 1731.4,1835 1732.1,1845 1732.7,1862 1733.3,1835 1733.9,1855 1734.5,1852 1735.2,1843 1735.8,1854 1736.4,1846 1737.0,1857 1737.6,1854 1738.3,1856 1738.9,1857 1739.5,1860 1740.1,1860 1740.7,1856 1741.4,1856 1742.0,1864 1742.6,1852 1743.2,1863 1743.8,1859 1744.5,1862 1745.1,1859 1745.7,1858 1746.3,1860 1746.9,1863 1747.6,1852 1748.2,1849 1748.8,1846 1749.4,1861 1750.0,1853 1750.7,1855 1751.3,1844 1751.9,1862 1752.5,1843 1753.1,1843 1753.8,1844 1754.4,1846 1755.0,1837 1755.6,1842 1756.2,1847 1756.9,1838 1757.5,1852 1758.1,1837 1758.7,1839 1759.3,1851 1760.0,1843 1760.6,1838 1761.2,1823 1761.8,1835 1762.4,1830 1763.1,1829 1763.7,1836 1764.3,1822 1764.9,1837 1765.5,1821 1766.2,1819 1766.8,1812 1767.4,1812 1768.0,1818 1768.6,1805 1769.3,1792 1769.9,1789 1770.5,1800 1771.1,1791 1771.7,1776 1772.4,1778 1773.0,1776 1773.6,1777 1774.2,1762 1774.8,1769 1775.5,1757 1776.1,1761 1776.7,1767 1777.3,1781 1777.9,1773 1778.6,1790 1779.2,1784 1779.8,1796 1780.4,1790 1781.0,1782 1781.7,1784 1782.3,1803 1782.9,1825 1783.5,1815 1784.1,1817 1784.8,1830 1785.4,1827 1786.0,1831 1786.6,1838 1787.2,1843 1787.9,1839 1788.5,1841 1789.1,1851 1789.7,1843 1790.3,1855 1791.0,1855 1791.6,1869 1792.2,1858 1792.8,1844 1793.4,1863 1794.1,1859 1794.7,1859 1795.3,1860 1795.9,1860 1796.5,1866 1797.2,1849 1797.8,1872 1798.4,1869 1799.0,1859 1799.6,1859 1800.3,1870 1800.9,1868 1801.5,1874 1802.1,1868 1802.7,1869 1803.4,1863 1804.0,1861 1804.6,1869 1805.2,1860 1805.8,1872 1806.5,1861 1807.1,1869 1807.7,1872 1808.3,1872 1808.9,1859 1809.6,1866 1810.2,1863 1810.8,1875 1811.4,1863 1812.0,1868 1812.7,1877 1813.3,1874 1813.9,1872 1814.5,1870 1815.1,1870 1815.8,1873 1816.4,1868 1817.0,1874 1817.6,1863 1818.2,1856 1818.9,1868 1819.5,1871 1820.1,1861 1820.7,1861 1821.3,1868 1822.0,1867 1822.6,1876 1823.2,1855 1823.8,1865 1824.4,1864 1825.1,1864 1825.7,1872 1826.3,1859 1826.9,1872 1827.5,1869 1828.2,1862 1828.8,1864 1829.4,1863 1830.0,1862 1830.6,1853 1831.3,1848 1831.9,1859 1832.5,1861 1833.1,1868 1833.7,1848 1834.4,1850 1835.0,1859 1835.6,1852 1836.2,1850 1836.8,1858 1837.5,1855 1838.1,1846 1838.7,1858 1839.3,1850 1839.9,1842 1840.6,1857 1841.2,1853 1841.8,1864 1842.4,1859 1843.0,1850 1843.7,1858 1844.3,1857 1844.9,1859 1845.5,1851 1846.1,1862 1846.8,1872 1847.4,1863 1848.0,1862 1848.6,1855 1849.2,1863 1849.9,1867 1850.5,1870 1851.1,1863 1851.7,1872 1852.3,1870 1853.0,1864 1853.6,1864 1854.2,1867 1854.8,1869 1855.4,1878 1856.1,1874 1856.7,1871 1857.3,1859 1857.9,1865 1858.5,1872 1859.2,1863 1859.8,1877 1860.4,1862 1861.0,1870 1861.6,1867 1862.3,1863 1862.9,1863 1863.5,1866 1864.1,1862 1864.7,1849 1865.4,1859 1866.0,1865 1866.6,1860 1867.2,1865 1867.8,1853 1868.5,1862 1869.1,1857 1869.7,1852 1870.3,1854 1870.9,1867 1871.6,1854 1872.2,1850 1872.8,1851 1873.4,1856 1874.0,1855 1874.7,1852 1875.3,1850 1875.9,1838 1876.5,1833 1877.1,1842 1877.8,1847 1878.4,1843 1879.0,1837 1879.6,1844 1880.2,1847 1880.9,1832 1881.5,1848 1882.1,1832 1882.7,1848 1883.3,1835 1884.0,1845 1884.6,1844 1885.2,1852 1885.8,1845 1886.4,1843 1887.1,1846 1887.7,1852 1888.3,1846 1888.9,1847 1889.5,1853 1890.2,1859 1890.8,1851 1891.4,1852 1892.0,1855 1892.6,1830 1893.3,1851 1893.9,1853 1894.5,1856 1895.1,1848 1895.7,1842 1896.4,1842 1897.0,1846 1897.6,1842 1898.2,1840 1898.8,1854 1899.5,1858 1900.1,1850 1900.7,1833 1901.3,1837 1901.9,1836 1902.6,1841 1903.2,1847 1903.8,1846 1904.4,1847 1905.0,1852 1905.7,1842 1906.3,1845 1906.9,1849 1907.5,1847 1908.1,1857 1908.8,1848 1909.4,1859 1910.0,1851 1910.6,1849 1911.2,1853 1911.9,1863 1912.5,1856 1913.1,1855 1913.7,1848 1914.3,1858 1915.0,1854 1915.6,1871 1916.2,1860 1916.8,1850 1917.4,1872 1918.1,1867 1918.7,1860 1919.3,1871 1919.9,1860 1920.5,1865 1921.2,1880 1921.8,1869 1922.4,1874 1923.0,1862 1923.6,1868 1924.3,1866 1924.9,1864 1925.5,1877 1926.1,1856 1926.7,1870 1927.4,1871 1928.0,1870 1928.6,1862 1929.2,1874 1929.8,1874 1930.5,1869 1931.1,1872 1931.7,1877 1932.3,1872 1932.9,1866 1933.6,1868 1934.2,1858 1934.8,1878 1935.4,1870 1936.0,1857 1936.7,1871 1937.3,1869 1937.9,1872 1938.5,1871 1939.1,1874 1939.8,1872 1940.4,1870 1941.0,1874 1941.6,1860 1942.2,1873 1942.9,1868 1943.5,1863 1944.1,1882 1944.7,1874 1945.3,1869 1946.0,1863 1946.6,1863 1947.2,1876 1947.8,1882 1948.4,1868 1949.1,1883 1949.7,1869 1950.3,1868 1950.9,1864 1951.5,1869 1952.2,1861 1952.8,1864 1953.4,1875 1954.0,1881 1954.6,1861 1955.3,1875 1955.9,1868 1956.5,1876 1957.1,1873 1957.7,1872 1958.4,1862 1959.0,1877 1959.6,1879 1960.2,1871 1960.8,1870 1961.5,1857 1962.1,1868 1962.7,1871 1963.3,1867 1963.9,1870 1964.6,1881 1965.2,1867 1965.8,1876 1966.4,1878 1967.0,1870 1967.7,1870 1968.3,1869 1968.9,1873 1969.5,1865 1970.1,1876 1970.8,1866 1971.4,1873 1972.0,1869 1972.6,1873 1973.2,1870 1973.9,1880 1974.5,1865 1975.1,1881 1975.7,1866 1976.3,1872 1977.0,1862 1977.6,1877 1978.2,1867 1978.8,1876 1979.4,1864 1980.1,1870 1980.7,1866 1981.3,1883 1981.9,1871 1982.5,1875 1983.2,1871 1983.8,1865 1984.4,1862 1985.0,1874 1985.6,1873 1986.3,1869 1986.9,1857 1987.5,1870" fill="none" stroke="#0a800a" stroke-width="3.3" stroke-linejoin="round"/>
<polyline points="152.3,2166 152.9,2162 153.5,2164 154.2,2165 154.8,2166 155.4,2160 156.0,2152 156.6,2155 157.3,2162 157.9,2161 158.5,2162 159.1,2166 159.7,2172 160.4,2159 161.0,2160 161.6,2156 162.2,2159 162.8,2172 163.5,2169 164.1,2171 164.7,2169 165.3,2165 165.9,2156 166.6,2163 167.2,2167 167.8,2160 168.4,2161 169.0,2170 169.7,2160 170.3,2157 170.9,2159 171.5,2168 172.1,2169 172.8,2161 173.4,2166 174.0,2161 174.6,2160 175.2,2168 175.9,2153 176.5,2161 177.1,2162 177.7,2161 178.3,2168 179.0,2160 179.6,2156 180.2,2162 180.8,2154 181.4,2164 182.1,2165 182.7,2153 183.3,2169 183.9,2164 184.5,2167 185.2,2170 185.8,2176 186.4,2167 187.0,2164 187.6,2167 188.3,2162 188.9,2165 189.5,2158 190.1,2170 190.7,2168 191.4,2164 192.0,2165 192.6,2169 193.2,2162 193.8,2157 194.5,2163 195.1,2165 195.7,2169 196.3,2158 196.9,2162 197.6,2162 198.2,2163 198.8,2162 199.4,2165 200.0,2159 200.7,2157 201.3,2178 201.9,2171 202.5,2170 203.1,2160 203.8,2159 204.4,2162 205.0,2170 205.6,2156 206.2,2163 206.9,2158 207.5,2163 208.1,2159 208.7,2157 209.3,2167 210.0,2160 210.6,2165 211.2,2160 211.8,2168 212.4,2163 213.1,2161 213.7,2163 214.3,2151 214.9,2157 215.5,2158 216.2,2174 216.8,2158 217.4,2161 218.0,2167 218.6,2164 219.3,2163 219.9,2162 220.5,2158 221.1,2174 221.7,2172 222.4,2157 223.0,2162 223.6,2168 224.2,2163 224.8,2167 225.5,2168 226.1,2159 226.7,2172 227.3,2169 227.9,2159 228.6,2164 229.2,2158 229.8,2161 230.4,2161 231.0,2159 231.7,2168 232.3,2159 232.9,2152 233.5,2166 234.1,2158 234.8,2151 235.4,2163 236.0,2161 236.6,2162 237.2,2166 237.9,2164 238.5,2156 239.1,2165 239.7,2154 240.3,2164 241.0,2155 241.6,2154 242.2,2167 242.8,2160 243.4,2159 244.1,2170 244.7,2159 245.3,2168 245.9,2150 246.5,2160 247.2,2167 247.8,2156 248.4,2161 249.0,2165 249.6,2156 250.3,2168 250.9,2162 251.5,2164 252.1,2160 252.7,2164 253.4,2165 254.0,2164 254.6,2165 255.2,2157 255.8,2165 256.5,2163 257.1,2166 257.7,2164 258.3,2164 258.9,2170 259.6,2159 260.2,2162 260.8,2159 261.4,2168 262.0,2164 262.7,2173 263.3,2156 263.9,2160 264.5,2156 265.1,2168 265.8,2160 266.4,2155 267.0,2155 267.6,2155 268.2,2156 268.9,2162 269.5,2161 270.1,2166 270.7,2153 271.3,2156 272.0,2166 272.6,2159 273.2,2159 273.8,2150 274.4,2157 275.1,2169 275.7,2171 276.3,2154 276.9,2172 277.5,2155 278.2,2165 278.8,2165 279.4,2171 280.0,2155 280.6,2163 281.3,2175 281.9,2159 282.5,2171 283.1,2157 283.7,2171 284.4,2170 285.0,2165 285.6,2150 286.2,2152 286.8,2175 287.5,2159 288.1,2156 288.7,2166 289.3,2166 289.9,2157 290.6,2151 291.2,2162 291.8,2165 292.4,2162 293.0,2161 293.7,2162 294.3,2157 294.9,2163 295.5,2159 296.1,2170 296.8,2167 297.4,2157 298.0,2162 298.6,2156 299.2,2175 299.9,2162 300.5,2161 301.1,2158 301.7,2166 302.3,2153 303.0,2172 303.6,2164 304.2,2169 304.8,2170 305.4,2165 306.1,2166 306.7,2152 307.3,2156 307.9,2172 308.5,2161 309.2,2167 309.8,2158 310.4,2160 311.0,2164 311.6,2165 312.3,2156 312.9,2153 313.5,2148 314.1,2166 314.7,2164 315.4,2160 316.0,2168 316.6,2170 317.2,2159 317.8,2166 318.5,2157 319.1,2163 319.7,2165 320.3,2165 320.9,2171 321.6,2169 322.2,2160 322.8,2148 323.4,2163 324.0,2155 324.7,2162 325.3,2159 325.9,2155 326.5,2156 327.1,2155 327.8,2142 328.4,2162 329.0,2161 329.6,2140 330.2,2149 330.9,2140 331.5,2158 332.1,2152 332.7,2134 333.3,2120 334.0,2119 334.6,2109 335.2,2093 335.8,2079 336.4,2068 337.1,2061 337.7,2052 338.3,2037 338.9,2017 339.5,2022 340.2,2034 340.8,2033 341.4,2056 342.0,2063 342.6,2084 343.3,2092 343.9,2110 344.5,2110 345.1,2115 345.7,2121 346.4,2127 347.0,2140 347.6,2143 348.2,2149 348.8,2144 349.5,2147 350.1,2145 350.7,2162 351.3,2157 351.9,2149 352.6,2156 353.2,2158 353.8,2158 354.4,2145 355.0,2167 355.7,2152 356.3,2162 356.9,2166 357.5,2170 358.1,2158 358.8,2161 359.4,2151 360.0,2160 360.6,2150 361.2,2149 361.9,2156 362.5,2154 363.1,2174 363.7,2153 364.3,2174 365.0,2166 365.6,2157 366.2,2157 366.8,2162 367.4,2168 368.1,2154 368.7,2164 369.3,2173 369.9,2152 370.5,2168 371.2,2167 371.8,2152 372.4,2163 373.0,2153 373.6,2167 374.3,2160 374.9,2157 375.5,2170 376.1,2161 376.7,2166 377.4,2157 378.0,2171 378.6,2155 379.2,2162 379.8,2160 380.5,2167 381.1,2163 381.7,2159 382.3,2161 382.9,2158 383.6,2167 384.2,2156 384.8,2165 385.4,2165 386.0,2168 386.7,2154 387.3,2160 387.9,2175 388.5,2152 389.1,2161 389.8,2156 390.4,2172 391.0,2155 391.6,2165 392.2,2174 392.9,2149 393.5,2153 394.1,2158 394.7,2165 395.3,2162 396.0,2170 396.6,2161 397.2,2150 397.8,2154 398.4,2156 399.1,2156 399.7,2159 400.3,2155 400.9,2152 401.5,2149 402.2,2149 402.8,2154 403.4,2161 404.0,2154 404.6,2155 405.3,2156 405.9,2154 406.5,2150 407.1,2138 407.7,2138 408.4,2125 409.0,2128 409.6,2126 410.2,2130 410.8,2128 411.5,2129 412.1,2142 412.7,2143 413.3,2153 413.9,2158 414.6,2161 415.2,2157 415.8,2154 416.4,2151 417.0,2161 417.7,2158 418.3,2169 418.9,2165 419.5,2161 420.1,2163 420.8,2161 421.4,2159 422.0,2163 422.6,2175 423.2,2152 423.9,2153 424.5,2165 425.1,2162 425.7,2157 426.3,2166 427.0,2160 427.6,2163 428.2,2164 428.8,2158 429.4,2169 430.1,2151 430.7,2160 431.3,2159 431.9,2161 432.5,2162 433.2,2161 433.8,2155 434.4,2162 435.0,2160 435.6,2168 436.3,2160 436.9,2159 437.5,2169 438.1,2168 438.7,2161 439.4,2161 440.0,2167 440.6,2161 441.2,2160 441.8,2162 442.5,2170 443.1,2162 443.7,2153 444.3,2171 444.9,2159 445.6,2168 446.2,2149 446.8,2166 447.4,2167 448.0,2176 448.7,2154 449.3,2163 449.9,2162 450.5,2169 451.1,2167 451.8,2156 452.4,2158 453.0,2159 453.6,2158 454.2,2156 454.9,2151 455.5,2152 456.1,2150 456.7,2158 457.3,2146 458.0,2151 458.6,2154 459.2,2140 459.8,2156 460.4,2151 461.1,2154 461.7,2149 462.3,2164 462.9,2145 463.5,2151 464.2,2164 464.8,2164 465.4,2163 466.0,2162 466.6,2165 467.3,2164 467.9,2159 468.5,2157 469.1,2166 469.7,2174 470.4,2155 471.0,2163 471.6,2163 472.2,2170 472.8,2158 473.5,2162 474.1,2153 474.7,2156 475.3,2163 475.9,2166 476.6,2156 477.2,2158 477.8,2160 478.4,2158 479.0,2159 479.7,2164 480.3,2168 480.9,2154 481.5,2156 482.1,2154 482.8,2148 483.4,2155 484.0,2155 484.6,2148 485.2,2156 485.9,2157 486.5,2153 487.1,2149 487.7,2153 488.3,2153 489.0,2159 489.6,2152 490.2,2150 490.8,2149 491.4,2162 492.1,2143 492.7,2145 493.3,2152 493.9,2139 494.5,2148 495.2,2143 495.8,2136 496.4,2124 497.0,2116 497.6,2106 498.3,2090 498.9,2097 499.5,2079 500.1,2086 500.7,2075 501.4,2065 502.0,2054 502.6,2070 503.2,2070 503.8,2063 504.5,2080 505.1,2085 505.7,2097 506.3,2119 506.9,2119 507.6,2142 508.2,2146 508.8,2148 509.4,2137 510.0,2158 510.7,2148 511.3,2157 511.9,2161 512.5,2146 513.1,2150 513.8,2153 514.4,2161 515.0,2164 515.6,2156 516.2,2156 516.9,2163 517.5,2159 518.1,2158 518.7,2159 519.3,2154 520.0,2164 520.6,2154 521.2,2152 521.8,2160 522.4,2159 523.1,2160 523.7,2153 524.3,2156 524.9,2156 525.5,2155 526.2,2162 526.8,2171 527.4,2156 528.0,2168 528.6,2173 529.3,2163 529.9,2155 530.5,2161 531.1,2162 531.7,2155 532.4,2160 533.0,2163 533.6,2159 534.2,2152 534.8,2160 535.5,2165 536.1,2161 536.7,2155 537.3,2170 537.9,2152 538.6,2162 539.2,2166 539.8,2170 540.4,2157 541.0,2154 541.7,2166 542.3,2159 542.9,2159 543.5,2162 544.1,2155 544.8,2154 545.4,2155 546.0,2151 546.6,2154 547.2,2155 547.9,2152 548.5,2147 549.1,2152 549.7,2158 550.3,2144 551.0,2137 551.6,2123 552.2,2139 552.8,2121 553.4,2122 554.1,2114 554.7,2102 555.3,2115 555.9,2111 556.5,2111 557.2,2109 557.8,2116 558.4,2131 559.0,2128 559.6,2132 560.3,2139 560.9,2141 561.5,2152 562.1,2157 562.7,2149 563.4,2157 564.0,2167 564.6,2152 565.2,2153 565.8,2148 566.5,2156 567.1,2162 567.7,2158 568.3,2156 568.9,2157 569.6,2162 570.2,2158 570.8,2147 571.4,2162 572.0,2156 572.7,2156 573.3,2164 573.9,2155 574.5,2145 575.1,2157 575.8,2147 576.4,2170 577.0,2160 577.6,2156 578.2,2158 578.9,2155 579.5,2145 580.1,2151 580.7,2160 581.3,2159 582.0,2158 582.6,2158 583.2,2159 583.8,2155 584.4,2156 585.1,2151 585.7,2138 586.3,2139 586.9,2134 587.5,2149 588.2,2138 588.8,2132 589.4,2139 590.0,2119 590.6,2115 591.3,2096 591.9,2083 592.5,2077 593.1,2065 593.7,2044 594.4,2034 595.0,1990 595.6,1960 596.2,1941 596.8,1919 597.5,1898 598.1,1901 598.7,1893 599.3,1901 599.9,1936 600.6,1960 601.2,1977 601.8,2002 602.4,2032 603.0,2038 603.7,2068 604.3,2075 604.9,2090 605.5,2111 606.1,2130 606.8,2119 607.4,2141 608.0,2136 608.6,2143 609.2,2145 609.9,2150 610.5,2143 611.1,2141 611.7,2148 612.3,2158 613.0,2153 613.6,2146 614.2,2150 614.8,2156 615.4,2152 616.1,2154 616.7,2163 617.3,2154 617.9,2154 618.5,2157 619.2,2170 619.8,2152 620.4,2147 621.0,2162 621.6,2155 622.3,2165 622.9,2161 623.5,2155 624.1,2158 624.7,2167 625.4,2157 626.0,2159 626.6,2156 627.2,2153 627.8,2155 628.5,2160 629.1,2160 629.7,2158 630.3,2159 630.9,2162 631.6,2154 632.2,2149 632.8,2156 633.4,2164 634.0,2152 634.7,2173 635.3,2158 635.9,2169 636.5,2158 637.1,2159 637.8,2164 638.4,2163 639.0,2165 639.6,2148 640.2,2167 640.9,2159 641.5,2163 642.1,2161 642.7,2160 643.3,2167 644.0,2171 644.6,2161 645.2,2157 645.8,2168 646.4,2166 647.1,2162 647.7,2157 648.3,2158 648.9,2159 649.5,2160 650.2,2166 650.8,2151 651.4,2159 652.0,2166 652.6,2153 653.3,2156 653.9,2155 654.5,2161 655.1,2162 655.7,2159 656.4,2174 657.0,2163 657.6,2159 658.2,2164 658.8,2171 659.5,2157 660.1,2148 660.7,2163 661.3,2172 661.9,2158 662.6,2160 663.2,2159 663.8,2160 664.4,2158 665.0,2159 665.7,2169 666.3,2165 666.9,2158 667.5,2150 668.1,2150 668.8,2162 669.4,2162 670.0,2163 670.6,2163 671.2,2164 671.9,2165 672.5,2157 673.1,2158 673.7,2164 674.3,2152 675.0,2154 675.6,2158 676.2,2158 676.8,2160 677.4,2159 678.1,2162 678.7,2160 679.3,2172 679.9,2153 680.5,2159 681.2,2151 681.8,2149 682.4,2151 683.0,2152 683.6,2152 684.3,2164 684.9,2158 685.5,2155 686.1,2153 686.7,2153 687.4,2163 688.0,2161 688.6,2163 689.2,2141 689.8,2145 690.5,2156 691.1,2150 691.7,2151 692.3,2145 692.9,2139 693.6,2141 694.2,2155 694.8,2150 695.4,2153 696.0,2149 696.7,2140 697.3,2145 697.9,2148 698.5,2146 699.1,2155 699.8,2143 700.4,2148 701.0,2153 701.6,2147 702.2,2148 702.9,2147 703.5,2138 704.1,2142 704.7,2137 705.3,2132 706.0,2131 706.6,2121 707.2,2110 707.8,2111 708.4,2116 709.1,2102 709.7,2100 710.3,2103 710.9,2091 711.5,2102 712.2,2117 712.8,2122 713.4,2122 714.0,2136 714.6,2130 715.3,2130 715.9,2138 716.5,2138 717.1,2143 717.7,2148 718.4,2147 719.0,2151 719.6,2147 720.2,2152 720.8,2153 721.5,2154 722.1,2158 722.7,2160 723.3,2163 723.9,2165 724.6,2163 725.2,2162 725.8,2145 726.4,2160 727.0,2165 727.7,2151 728.3,2168 728.9,2160 729.5,2153 730.1,2161 730.8,2157 731.4,2161 732.0,2162 732.6,2162 733.2,2154 733.9,2158 734.5,2166 735.1,2165 735.7,2161 736.3,2157 737.0,2163 737.6,2152 738.2,2153 738.8,2155 739.4,2161 740.1,2163 740.7,2150 741.3,2163 741.9,2162 742.5,2168 743.2,2154 743.8,2147 744.4,2151 745.0,2149 745.6,2152 746.3,2154 746.9,2156 747.5,2152 748.1,2153 748.7,2157 749.4,2152 750.0,2154 750.6,2148 751.2,2142 751.8,2147 752.5,2147 753.1,2151 753.7,2148 754.3,2149 754.9,2158 755.6,2152 756.2,2147 756.8,2124 757.4,2132 758.0,2136 758.7,2100 759.3,2111 759.9,2099 760.5,2095 761.1,2087 761.8,2087 762.4,2078 763.0,2088 763.6,2081 764.2,2091 764.9,2103 765.5,2103 766.1,2097 766.7,2103 767.3,2091 768.0,2091 768.6,2096 769.2,2089 769.8,2067 770.4,2073 771.1,2049 771.7,2040 772.3,2033 772.9,2035 773.5,2003 774.2,2017 774.8,1992 775.4,1997 776.0,1989 776.6,2011 777.3,1990 777.9,1994 778.5,1983 779.1,1982 779.7,1960 780.4,1946 781.0,1926 781.6,1921 782.2,1906 782.8,1913 783.5,1901 784.1,1888 784.7,1914 785.3,1930 785.9,1936 786.6,1968 787.2,1993 787.8,2005 788.4,2017 789.0,2044 789.7,2067 790.3,2067 790.9,2082 791.5,2100 792.1,2109 792.8,2115 793.4,2119 794.0,2139 794.6,2130 795.2,2135 795.9,2143 796.5,2136 797.1,2142 797.7,2144 798.3,2142 799.0,2155 799.6,2154 800.2,2156 800.8,2137 801.4,2151 802.1,2148 802.7,2158 803.3,2148 803.9,2157 804.5,2164 805.2,2153 805.8,2157 806.4,2154 807.0,2160 807.6,2157 808.3,2157 808.9,2151 809.5,2157 810.1,2155 810.7,2151 811.4,2163 812.0,2147 812.6,2153 813.2,2169 813.8,2170 814.5,2151 815.1,2157 815.7,2159 816.3,2164 816.9,2148 817.6,2164 818.2,2148 818.8,2160 819.4,2161 820.0,2155 820.7,2160 821.3,2167 821.9,2151 822.5,2163 823.1,2158 823.8,2165 824.4,2152 825.0,2155 825.6,2161 826.2,2153 826.9,2158 827.5,2152 828.1,2168 828.7,2153 829.3,2155 830.0,2165 830.6,2166 831.2,2152 831.8,2155 832.4,2152 833.1,2161 833.7,2165 834.3,2158 834.9,2151 835.5,2154 836.2,2151 836.8,2146 837.4,2142 838.0,2147 838.6,2146 839.3,2136 839.9,2141 840.5,2130 841.1,2133 841.7,2117 842.4,2119 843.0,2095 843.6,2104 844.2,2108 844.8,2106 845.5,2087 846.1,2103 846.7,2101 847.3,2110 847.9,2119 848.6,2118 849.2,2116 849.8,2119 850.4,2130 851.0,2144 851.7,2140 852.3,2145 852.9,2141 853.5,2154 854.1,2156 854.8,2150 855.4,2148 856.0,2153 856.6,2151 857.2,2155 857.9,2153 858.5,2150 859.1,2144 859.7,2146 860.3,2144 861.0,2156 861.6,2153 862.2,2152 862.8,2152 863.4,2147 864.1,2143 864.7,2160 865.3,2153 865.9,2137 866.5,2156 867.2,2143 867.8,2139 868.4,2140 869.0,2127 869.6,2140 870.3,2125 870.9,2120 871.5,2118 872.1,2123 872.7,2109 873.4,2101 874.0,2087 874.6,2071 875.2,2063 875.8,2038 876.5,2004 877.1,2005 877.7,1998 878.3,1963 878.9,1940 879.6,1926 880.2,1926 880.8,1925 881.4,1898 882.0,1915 882.7,1928 883.3,1947 883.9,1953 884.5,1980 885.1,2010 885.8,2032 886.4,2039 887.0,2056 887.6,2081 888.2,2079 888.9,2091 889.5,2114 890.1,2105 890.7,2117 891.3,2124 892.0,2125 892.6,2132 893.2,2137 893.8,2120 894.4,2129 895.1,2143 895.7,2145 896.3,2149 896.9,2141 897.5,2140 898.2,2130 898.8,2132 899.4,2150 900.0,2123 900.6,2139 901.3,2139 901.9,2121 902.5,2123 903.1,2135 903.7,2110 904.4,2120 905.0,2096 905.6,2099 906.2,2090 906.8,2070 907.5,2068 908.1,2051 908.7,2037 909.3,2008 909.9,1997 910.6,1970 911.2,1963 911.8,1927 912.4,1901 913.0,1904 913.7,1892 914.3,1892 914.9,1896 915.5,1909 916.1,1907 916.8,1935 917.4,1950 918.0,1971 918.6,1980 919.2,2010 919.9,2011 920.5,2037 921.1,2045 921.7,2050 922.3,2042 923.0,2044 923.6,2061 924.2,2038 924.8,2038 925.4,2049 926.1,2041 926.7,2046 927.3,2047 927.9,2045 928.5,2044 929.2,2054 929.8,2050 930.4,2052 931.0,2045 931.6,2033 932.3,2027 932.9,2020 933.5,2006 934.1,1999 934.7,1970 935.4,1961 936.0,1924 936.6,1907 937.2,1900 937.8,1872 938.5,1871 939.1,1871 939.7,1872 940.3,1865 940.9,1898 941.6,1903 942.2,1905 942.8,1936 943.4,1957 944.0,1968 944.7,1998 945.3,2023 945.9,2027 946.5,2048 947.1,2057 947.8,2089 948.4,2092 949.0,2093 949.6,2101 950.2,2108 950.9,2126 951.5,2124 952.1,2118 952.7,2123 953.3,2121 954.0,2146 954.6,2138 955.2,2130 955.8,2145 956.4,2140 957.1,2143 957.7,2144 958.3,2136 958.9,2145 959.5,2159 960.2,2151 960.8,2156 961.4,2150 962.0,2150 962.6,2160 963.3,2146 963.9,2152 964.5,2147 965.1,2147 965.7,2151 966.4,2155 967.0,2155 967.6,2152 968.2,2151 968.8,2154 969.5,2156 970.1,2160 970.7,2154 971.3,2150 971.9,2151 972.6,2149 973.2,2157 973.8,2144 974.4,2158 975.0,2162 975.7,2147 976.3,2160 976.9,2154 977.5,2151 978.1,2145 978.8,2146 979.4,2158 980.0,2154 980.6,2153 981.2,2147 981.9,2138 982.5,2154 983.1,2136 983.7,2146 984.3,2130 985.0,2126 985.6,2115 986.2,2122 986.8,2144 987.4,2130 988.1,2128 988.7,2135 989.3,2124 989.9,2133 990.5,2135 991.2,2135 991.8,2127 992.4,2121 993.0,2129 993.6,2121 994.3,2098 994.9,2103 995.5,2091 996.1,2080 996.7,2089 997.4,2065 998.0,2055 998.6,2052 999.2,2039 999.8,2054 1000.5,2028 1001.1,2053 1001.7,2036 1002.3,2047 1002.9,2072 1003.6,2083 1004.2,2084 1004.8,2100 1005.4,2098 1006.0,2109 1006.7,2118 1007.3,2113 1007.9,2124 1008.5,2141 1009.1,2139 1009.8,2138 1010.4,2154 1011.0,2132 1011.6,2147 1012.2,2153 1012.9,2137 1013.5,2153 1014.1,2155 1014.7,2159 1015.3,2150 1016.0,2163 1016.6,2150 1017.2,2169 1017.8,2154 1018.4,2158 1019.1,2148 1019.7,2160 1020.3,2154 1020.9,2146 1021.5,2159 1022.2,2152 1022.8,2165 1023.4,2156 1024.0,2156 1024.6,2163 1025.3,2151 1025.9,2152 1026.5,2153 1027.1,2158 1027.7,2166 1028.4,2157 1029.0,2162 1029.6,2163 1030.2,2162 1030.8,2169 1031.5,2166 1032.1,2160 1032.7,2160 1033.3,2161 1033.9,2154 1034.6,2156 1035.2,2148 1035.8,2155 1036.4,2167 1037.0,2162 1037.7,2160 1038.3,2162 1038.9,2161 1039.5,2165 1040.1,2162 1040.8,2165 1041.4,2159 1042.0,2162 1042.6,2160 1043.2,2162 1043.9,2150 1044.5,2170 1045.1,2159 1045.7,2152 1046.3,2157 1047.0,2159 1047.6,2165 1048.2,2165 1048.8,2174 1049.4,2159 1050.1,2167 1050.7,2161 1051.3,2164 1051.9,2150 1052.5,2153 1053.2,2162 1053.8,2166 1054.4,2167 1055.0,2155 1055.6,2167 1056.3,2157 1056.9,2167 1057.5,2167 1058.1,2156 1058.7,2163 1059.4,2154 1060.0,2163 1060.6,2155 1061.2,2162 1061.8,2159 1062.5,2154 1063.1,2153 1063.7,2166 1064.3,2161 1064.9,2156 1065.6,2165 1066.2,2169 1066.8,2149 1067.4,2174 1068.0,2154 1068.7,2166 1069.3,2164 1069.9,2172 1070.5,2156 1071.1,2160 1071.8,2171 1072.4,2148 1073.0,2156 1073.6,2166 1074.2,2155 1074.9,2157 1075.5,2166 1076.1,2161 1076.7,2164 1077.3,2156 1078.0,2158 1078.6,2162 1079.2,2162 1079.8,2166 1080.4,2160 1081.1,2154 1081.7,2157 1082.3,2167 1082.9,2162 1083.5,2167 1084.2,2153 1084.8,2164 1085.4,2167 1086.0,2160 1086.6,2159 1087.3,2171 1087.9,2157 1088.5,2156 1089.1,2148 1089.7,2152 1090.4,2155 1091.0,2157 1091.6,2153 1092.2,2142 1092.8,2149 1093.5,2148 1094.1,2139 1094.7,2128 1095.3,2143 1095.9,2124 1096.6,2118 1097.2,2128 1097.8,2137 1098.4,2125 1099.0,2135 1099.7,2127 1100.3,2144 1100.9,2137 1101.5,2147 1102.1,2154 1102.8,2152 1103.4,2156 1104.0,2159 1104.6,2159 1105.2,2166 1105.9,2157 1106.5,2160 1107.1,2147 1107.7,2154 1108.3,2154 1109.0,2163 1109.6,2157 1110.2,2150 1110.8,2172 1111.4,2160 1112.1,2157 1112.7,2164 1113.3,2156 1113.9,2160 1114.5,2156 1115.2,2148 1115.8,2168 1116.4,2162 1117.0,2159 1117.6,2167 1118.3,2154 1118.9,2156 1119.5,2161 1120.1,2158 1120.7,2160 1121.4,2152 1122.0,2155 1122.6,2155 1123.2,2164 1123.8,2155 1124.5,2162 1125.1,2155 1125.7,2153 1126.3,2156 1126.9,2149 1127.6,2156 1128.2,2153 1128.8,2148 1129.4,2146 1130.0,2153 1130.7,2141 1131.3,2136 1131.9,2140 1132.5,2129 1133.1,2137 1133.8,2123 1134.4,2121 1135.0,2125 1135.6,2120 1136.2,2127 1136.9,2130 1137.5,2137 1138.1,2136 1138.7,2137 1139.3,2138 1140.0,2140 1140.6,2150 1141.2,2144 1141.8,2152 1142.4,2142 1143.1,2153 1143.7,2153 1144.3,2154 1144.9,2155 1145.5,2144 1146.2,2154 1146.8,2151 1147.4,2155 1148.0,2153 1148.6,2147 1149.3,2155 1149.9,2159 1150.5,2159 1151.1,2162 1151.7,2158 1152.4,2165 1153.0,2162 1153.6,2159 1154.2,2152 1154.8,2156 1155.5,2159 1156.1,2161 1156.7,2149 1157.3,2161 1157.9,2155 1158.6,2159 1159.2,2148 1159.8,2158 1160.4,2155 1161.0,2145 1161.7,2156 1162.3,2152 1162.9,2146 1163.5,2146 1164.1,2145 1164.8,2149 1165.4,2135 1166.0,2129 1166.6,2132 1167.2,2127 1167.9,2133 1168.5,2116 1169.1,2115 1169.7,2120 1170.3,2121 1171.0,2112 1171.6,2115 1172.2,2104 1172.8,2109 1173.4,2115 1174.1,2123 1174.7,2113 1175.3,2121 1175.9,2131 1176.5,2108 1177.2,2138 1177.8,2130 1178.4,2134 1179.0,2120 1179.6,2146 1180.3,2142 1180.9,2137 1181.5,2142 1182.1,2144 1182.7,2141 1183.4,2156 1184.0,2145 1184.6,2150 1185.2,2153 1185.8,2163 1186.5,2159 1187.1,2158 1187.7,2161 1188.3,2155 1188.9,2161 1189.6,2159 1190.2,2166 1190.8,2157 1191.4,2150 1192.0,2154 1192.7,2156 1193.3,2158 1193.9,2151 1194.5,2164 1195.1,2170 1195.8,2158 1196.4,2164 1197.0,2167 1197.6,2159 1198.2,2153 1198.9,2166 1199.5,2158 1200.1,2166 1200.7,2153 1201.3,2163 1202.0,2174 1202.6,2162 1203.2,2159 1203.8,2161 1204.4,2159 1205.1,2171 1205.7,2160 1206.3,2150 1206.9,2164 1207.5,2157 1208.2,2163 1208.8,2158 1209.4,2159 1210.0,2174 1210.6,2162 1211.3,2165 1211.9,2159 1212.5,2163 1213.1,2157 1213.7,2170 1214.4,2161 1215.0,2157 1215.6,2153 1216.2,2172 1216.8,2149 1217.5,2174 1218.1,2158 1218.7,2170 1219.3,2172 1219.9,2166 1220.6,2173 1221.2,2152 1221.8,2159 1222.4,2155 1223.0,2156 1223.7,2149 1224.3,2168 1224.9,2157 1225.5,2158 1226.1,2149 1226.8,2163 1227.4,2156 1228.0,2159 1228.6,2169 1229.2,2153 1229.9,2171 1230.5,2156 1231.1,2168 1231.7,2164 1232.3,2160 1233.0,2165 1233.6,2162 1234.2,2154 1234.8,2158 1235.4,2170 1236.1,2161 1236.7,2162 1237.3,2160 1237.9,2160 1238.5,2163 1239.2,2169 1239.8,2168 1240.4,2161 1241.0,2166 1241.6,2161 1242.3,2153 1242.9,2160 1243.5,2156 1244.1,2160 1244.7,2162 1245.4,2163 1246.0,2159 1246.6,2160 1247.2,2166 1247.8,2159 1248.5,2175 1249.1,2164 1249.7,2161 1250.3,2164 1250.9,2165 1251.6,2158 1252.2,2165 1252.8,2159 1253.4,2166 1254.0,2161 1254.7,2166 1255.3,2162 1255.9,2164 1256.5,2158 1257.1,2155 1257.8,2160 1258.4,2163 1259.0,2166 1259.6,2166 1260.2,2163 1260.9,2167 1261.5,2167 1262.1,2170 1262.7,2166 1263.3,2155 1264.0,2160 1264.6,2165 1265.2,2157 1265.8,2164 1266.4,2166 1267.1,2150 1267.7,2172 1268.3,2169 1268.9,2162 1269.5,2167 1270.2,2160 1270.8,2153 1271.4,2160 1272.0,2161 1272.6,2155 1273.3,2162 1273.9,2166 1274.5,2155 1275.1,2170 1275.7,2161 1276.4,2156 1277.0,2151 1277.6,2155 1278.2,2155 1278.8,2170 1279.5,2151 1280.1,2162 1280.7,2161 1281.3,2167 1281.9,2171 1282.6,2161 1283.2,2165 1283.8,2168 1284.4,2160 1285.0,2155 1285.7,2172 1286.3,2169 1286.9,2165 1287.5,2168 1288.1,2162 1288.8,2171 1289.4,2154 1290.0,2160 1290.6,2160 1291.2,2168 1291.9,2163 1292.5,2159 1293.1,2162 1293.7,2168 1294.3,2164 1295.0,2155 1295.6,2145 1296.2,2158 1296.8,2159 1297.4,2158 1298.1,2154 1298.7,2163 1299.3,2166 1299.9,2157 1300.5,2157 1301.2,2149 1301.8,2159 1302.4,2155 1303.0,2157 1303.6,2153 1304.3,2155 1304.9,2139 1305.5,2149 1306.1,2150 1306.7,2145 1307.4,2142 1308.0,2132 1308.6,2134 1309.2,2131 1309.8,2141 1310.5,2142 1311.1,2134 1311.7,2146 1312.3,2134 1312.9,2154 1313.6,2146 1314.2,2146 1314.8,2152 1315.4,2144 1316.0,2149 1316.7,2153 1317.3,2155 1317.9,2157 1318.5,2155 1319.1,2163 1319.8,2166 1320.4,2171 1321.0,2164 1321.6,2163 1322.2,2157 1322.9,2167 1323.5,2159 1324.1,2154 1324.7,2151 1325.3,2153 1326.0,2158 1326.6,2156 1327.2,2164 1327.8,2166 1328.4,2153 1329.1,2171 1329.7,2154 1330.3,2159 1330.9,2163 1331.5,2174 1332.2,2154 1332.8,2154 1333.4,2158 1334.0,2157 1334.6,2164 1335.3,2162 1335.9,2158 1336.5,2148 1337.1,2161 1337.7,2168 1338.4,2157 1339.0,2167 1339.6,2165 1340.2,2162 1340.8,2168 1341.5,2160 1342.1,2166 1342.7,2159 1343.3,2160 1343.9,2168 1344.6,2159 1345.2,2163 1345.8,2165 1346.4,2160 1347.0,2174 1347.7,2168 1348.3,2160 1348.9,2169 1349.5,2167 1350.1,2167 1350.8,2161 1351.4,2157 1352.0,2166 1352.6,2153 1353.2,2157 1353.9,2148 1354.5,2173 1355.1,2153 1355.7,2163 1356.3,2166 1357.0,2155 1357.6,2161 1358.2,2167 1358.8,2157 1359.4,2165 1360.1,2153 1360.7,2164 1361.3,2159 1361.9,2159 1362.5,2160 1363.2,2160 1363.8,2158 1364.4,2160 1365.0,2149 1365.6,2161 1366.3,2150 1366.9,2172 1367.5,2153 1368.1,2148 1368.7,2153 1369.4,2155 1370.0,2155 1370.6,2151 1371.2,2143 1371.8,2153 1372.5,2143 1373.1,2139 1373.7,2150 1374.3,2145 1374.9,2154 1375.6,2150 1376.2,2133 1376.8,2118 1377.4,2117 1378.0,2121 1378.7,2114 1379.3,2101 1379.9,2106 1380.5,2075 1381.1,2078 1381.8,2045 1382.4,2033 1383.0,2021 1383.6,2011 1384.2,1994 1384.9,1986 1385.5,1953 1386.1,1942 1386.7,1925 1387.3,1919 1388.0,1936 1388.6,1941 1389.2,1947 1389.8,1953 1390.4,1989 1391.1,2008 1391.7,2029 1392.3,2036 1392.9,2061 1393.5,2068 1394.2,2086 1394.8,2089 1395.4,2108 1396.0,2108 1396.6,2123 1397.3,2114 1397.9,2137 1398.5,2144 1399.1,2135 1399.7,2138 1400.4,2137 1401.0,2152 1401.6,2154 1402.2,2147 1402.8,2147 1403.5,2147 1404.1,2158 1404.7,2151 1405.3,2157 1405.9,2157 1406.6,2152 1407.2,2144 1407.8,2158 1408.4,2155 1409.0,2156 1409.7,2146 1410.3,2150 1410.9,2153 1411.5,2158 1412.1,2158 1412.8,2159 1413.4,2155 1414.0,2158 1414.6,2156 1415.2,2163 1415.9,2147 1416.5,2162 1417.1,2157 1417.7,2153 1418.3,2156 1419.0,2166 1419.6,2158 1420.2,2156 1420.8,2165 1421.4,2168 1422.1,2160 1422.7,2158 1423.3,2161 1423.9,2170 1424.5,2157 1425.2,2160 1425.8,2165 1426.4,2155 1427.0,2151 1427.6,2157 1428.3,2168 1428.9,2163 1429.5,2155 1430.1,2156 1430.7,2146 1431.4,2156 1432.0,2153 1432.6,2138 1433.2,2147 1433.8,2146 1434.5,2149 1435.1,2137 1435.7,2153 1436.3,2135 1436.9,2139 1437.6,2145 1438.2,2132 1438.8,2131 1439.4,2134 1440.0,2131 1440.7,2145 1441.3,2126 1441.9,2130 1442.5,2132 1443.1,2137 1443.8,2155 1444.4,2131 1445.0,2145 1445.6,2145 1446.2,2154 1446.9,2135 1447.5,2142 1448.1,2141 1448.7,2148 1449.3,2146 1450.0,2142 1450.6,2136 1451.2,2146 1451.8,2139 1452.4,2124 1453.1,2146 1453.7,2130 1454.3,2125 1454.9,2131 1455.5,2130 1456.2,2130 1456.8,2124 1457.4,2130 1458.0,2132 1458.6,2130 1459.3,2134 1459.9,2145 1460.5,2159 1461.1,2159 1461.7,2158 1462.4,2158 1463.0,2147 1463.6,2152 1464.2,2153 1464.8,2159 1465.5,2162 1466.1,2169 1466.7,2152 1467.3,2155 1467.9,2167 1468.6,2158 1469.2,2161 1469.8,2158 1470.4,2144 1471.0,2157 1471.7,2149 1472.3,2167 1472.9,2166 1473.5,2153 1474.1,2170 1474.8,2158 1475.4,2164 1476.0,2158 1476.6,2154 1477.2,2151 1477.9,2157 1478.5,2160 1479.1,2158 1479.7,2154 1480.3,2155 1481.0,2156 1481.6,2141 1482.2,2158 1482.8,2136 1483.4,2136 1484.1,2144 1484.7,2140 1485.3,2152 1485.9,2141 1486.5,2132 1487.2,2128 1487.8,2129 1488.4,2130 1489.0,2124 1489.6,2132 1490.3,2111 1490.9,2113 1491.5,2117 1492.1,2112 1492.7,2111 1493.4,2110 1494.0,2110 1494.6,2118 1495.2,2117 1495.8,2113 1496.5,2118 1497.1,2126 1497.7,2118 1498.3,2117 1498.9,2132 1499.6,2143 1500.2,2133 1500.8,2122 1501.4,2132 1502.0,2122 1502.7,2121 1503.3,2130 1503.9,2120 1504.5,2125 1505.1,2140 1505.8,2136 1506.4,2126 1507.0,2126 1507.6,2129 1508.2,2139 1508.9,2134 1509.5,2129 1510.1,2132 1510.7,2124 1511.3,2120 1512.0,2125 1512.6,2130 1513.2,2130 1513.8,2128 1514.4,2132 1515.1,2133 1515.7,2130 1516.3,2132 1516.9,2138 1517.5,2137 1518.2,2143 1518.8,2139 1519.4,2136 1520.0,2146 1520.6,2141 1521.3,2152 1521.9,2159 1522.5,2154 1523.1,2160 1523.7,2155 1524.4,2149 1525.0,2152 1525.6,2155 1526.2,2156 1526.8,2163 1527.5,2156 1528.1,2153 1528.7,2152 1529.3,2162 1529.9,2151 1530.6,2152 1531.2,2145 1531.8,2172 1532.4,2160 1533.0,2158 1533.7,2159 1534.3,2163 1534.9,2160 1535.5,2157 1536.1,2153 1536.8,2164 1537.4,2155 1538.0,2157 1538.6,2163 1539.2,2157 1539.9,2172 1540.5,2166 1541.1,2158 1541.7,2156 1542.3,2167 1543.0,2163 1543.6,2147 1544.2,2162 1544.8,2166 1545.4,2162 1546.1,2153 1546.7,2162 1547.3,2159 1547.9,2162 1548.5,2168 1549.2,2165 1549.8,2156 1550.4,2170 1551.0,2155 1551.6,2174 1552.3,2149 1552.9,2171 1553.5,2161 1554.1,2174 1554.7,2145 1555.4,2161 1556.0,2151 1556.6,2162 1557.2,2157 1557.8,2156 1558.5,2167 1559.1,2166 1559.7,2148 1560.3,2157 1560.9,2162 1561.6,2166 1562.2,2157 1562.8,2160 1563.4,2158 1564.0,2156 1564.7,2162 1565.3,2154 1565.9,2161 1566.5,2169 1567.1,2167 1567.8,2165 1568.4,2163 1569.0,2157 1569.6,2152 1570.2,2172 1570.9,2167 1571.5,2159 1572.1,2163 1572.7,2158 1573.3,2158 1574.0,2158 1574.6,2165 1575.2,2160 1575.8,2147 1576.4,2160 1577.1,2173 1577.7,2168 1578.3,2166 1578.9,2159 1579.5,2166 1580.2,2163 1580.8,2156 1581.4,2169 1582.0,2162 1582.6,2154 1583.3,2161 1583.9,2150 1584.5,2155 1585.1,2170 1585.7,2165 1586.4,2158 1587.0,2159 1587.6,2166 1588.2,2162 1588.8,2163 1589.5,2159 1590.1,2148 1590.7,2160 1591.3,2158 1591.9,2156 1592.6,2147 1593.2,2157 1593.8,2153 1594.4,2156 1595.0,2156 1595.7,2153 1596.3,2152 1596.9,2154 1597.5,2145 1598.1,2145 1598.8,2140 1599.4,2139 1600.0,2153 1600.6,2145 1601.2,2140 1601.9,2121 1602.5,2125 1603.1,2115 1603.7,2120 1604.3,2100 1605.0,2114 1605.6,2101 1606.2,2102 1606.8,2102 1607.4,2081 1608.1,2095 1608.7,2102 1609.3,2091 1609.9,2116 1610.5,2121 1611.2,2123 1611.8,2128 1612.4,2125 1613.0,2141 1613.6,2138 1614.3,2134 1614.9,2128 1615.5,2136 1616.1,2136 1616.7,2144 1617.4,2135 1618.0,2126 1618.6,2138 1619.2,2140 1619.8,2131 1620.5,2137 1621.1,2128 1621.7,2130 1622.3,2142 1622.9,2123 1623.6,2124 1624.2,2106 1624.8,2103 1625.4,2104 1626.0,2093 1626.7,2096 1627.3,2082 1627.9,2076 1628.5,2092 1629.1,2080 1629.8,2073 1630.4,2074 1631.0,2074 1631.6,2067 1632.2,2086 1632.9,2070 1633.5,2075 1634.1,2060 1634.7,2066 1635.3,2082 1636.0,2075 1636.6,2076 1637.2,2088 1637.8,2109 1638.4,2105 1639.1,2100 1639.7,2113 1640.3,2112 1640.9,2113 1641.5,2109 1642.2,2136 1642.8,2134 1643.4,2135 1644.0,2129 1644.6,2145 1645.3,2141 1645.9,2146 1646.5,2143 1647.1,2157 1647.7,2139 1648.4,2147 1649.0,2153 1649.6,2153 1650.2,2147 1650.8,2145 1651.5,2163 1652.1,2149 1652.7,2156 1653.3,2151 1653.9,2163 1654.6,2151 1655.2,2161 1655.8,2153 1656.4,2157 1657.0,2164 1657.7,2161 1658.3,2154 1658.9,2157 1659.5,2156 1660.1,2159 1660.8,2157 1661.4,2156 1662.0,2164 1662.6,2164 1663.2,2160 1663.9,2159 1664.5,2155 1665.1,2162 1665.7,2161 1666.3,2155 1667.0,2156 1667.6,2159 1668.2,2160 1668.8,2154 1669.4,2158 1670.1,2156 1670.7,2153 1671.3,2154 1671.9,2154 1672.5,2155 1673.2,2150 1673.8,2163 1674.4,2169 1675.0,2156 1675.6,2161 1676.3,2148 1676.9,2151 1677.5,2142 1678.1,2144 1678.7,2130 1679.4,2142 1680.0,2148 1680.6,2135 1681.2,2137 1681.8,2139 1682.5,2156 1683.1,2144 1683.7,2143 1684.3,2154 1684.9,2146 1685.6,2162 1686.2,2165 1686.8,2148 1687.4,2158 1688.0,2164 1688.7,2152 1689.3,2158 1689.9,2151 1690.5,2160 1691.1,2161 1691.8,2154 1692.4,2159 1693.0,2158 1693.6,2167 1694.2,2157 1694.9,2169 1695.5,2160 1696.1,2164 1696.7,2154 1697.3,2165 1698.0,2172 1698.6,2157 1699.2,2167 1699.8,2159 1700.4,2161 1701.1,2148 1701.7,2165 1702.3,2153 1702.9,2162 1703.5,2163 1704.2,2163 1704.8,2160 1705.4,2164 1706.0,2155 1706.6,2174 1707.3,2166 1707.9,2145 1708.5,2170 1709.1,2163 1709.7,2162 1710.4,2159 1711.0,2158 1711.6,2160 1712.2,2161 1712.8,2160 1713.5,2163 1714.1,2158 1714.7,2152 1715.3,2165 1715.9,2159 1716.6,2165 1717.2,2169 1717.8,2156 1718.4,2161 1719.0,2155 1719.7,2161 1720.3,2159 1720.9,2157 1721.5,2151 1722.1,2155 1722.8,2156 1723.4,2159 1724.0,2156 1724.6,2143 1725.2,2162 1725.9,2158 1726.5,2157 1727.1,2150 1727.7,2150 1728.3,2147 1729.0,2154 1729.6,2159 1730.2,2153 1730.8,2136 1731.4,2135 1732.1,2149 1732.7,2138 1733.3,2144 1733.9,2149 1734.5,2140 1735.2,2148 1735.8,2145 1736.4,2144 1737.0,2142 1737.6,2142 1738.3,2135 1738.9,2130 1739.5,2139 1740.1,2141 1740.7,2123 1741.4,2140 1742.0,2134 1742.6,2135 1743.2,2135 1743.8,2139 1744.5,2128 1745.1,2140 1745.7,2135 1746.3,2123 1746.9,2132 1747.6,2118 1748.2,2118 1748.8,2131 1749.4,2117 1750.0,2137 1750.7,2134 1751.3,2123 1751.9,2133 1752.5,2126 1753.1,2140 1753.8,2138 1754.4,2138 1755.0,2126 1755.6,2125 1756.2,2132 1756.9,2134 1757.5,2130 1758.1,2131 1758.7,2127 1759.3,2128 1760.0,2116 1760.6,2126 1761.2,2123 1761.8,2127 1762.4,2124 1763.1,2119 1763.7,2122 1764.3,2131 1764.9,2132 1765.5,2125 1766.2,2131 1766.8,2121 1767.4,2114 1768.0,2117 1768.6,2129 1769.3,2122 1769.9,2109 1770.5,2104 1771.1,2103 1771.7,2111 1772.4,2098 1773.0,2077 1773.6,2091 1774.2,2081 1774.8,2102 1775.5,2081 1776.1,2105 1776.7,2083 1777.3,2089 1777.9,2098 1778.6,2106 1779.2,2104 1779.8,2109 1780.4,2114 1781.0,2101 1781.7,2117 1782.3,2116 1782.9,2125 1783.5,2127 1784.1,2139 1784.8,2140 1785.4,2146 1786.0,2137 1786.6,2138 1787.2,2154 1787.9,2138 1788.5,2139 1789.1,2152 1789.7,2152 1790.3,2151 1791.0,2153 1791.6,2155 1792.2,2154 1792.8,2155 1793.4,2157 1794.1,2164 1794.7,2157 1795.3,2160 1795.9,2155 1796.5,2159 1797.2,2159 1797.8,2164 1798.4,2163 1799.0,2160 1799.6,2171 1800.3,2163 1800.9,2159 1801.5,2149 1802.1,2162 1802.7,2162 1803.4,2165 1804.0,2158 1804.6,2158 1805.2,2153 1805.8,2148 1806.5,2166 1807.1,2156 1807.7,2164 1808.3,2156 1808.9,2159 1809.6,2164 1810.2,2165 1810.8,2160 1811.4,2163 1812.0,2168 1812.7,2160 1813.3,2170 1813.9,2163 1814.5,2155 1815.1,2157 1815.8,2159 1816.4,2173 1817.0,2162 1817.6,2162 1818.2,2165 1818.9,2161 1819.5,2162 1820.1,2157 1820.7,2162 1821.3,2162 1822.0,2170 1822.6,2157 1823.2,2159 1823.8,2159 1824.4,2161 1825.1,2163 1825.7,2168 1826.3,2166 1826.9,2164 1827.5,2162 1828.2,2154 1828.8,2164 1829.4,2160 1830.0,2159 1830.6,2161 1831.3,2158 1831.9,2163 1832.5,2168 1833.1,2162 1833.7,2166 1834.4,2166 1835.0,2166 1835.6,2171 1836.2,2163 1836.8,2157 1837.5,2163 1838.1,2153 1838.7,2163 1839.3,2154 1839.9,2162 1840.6,2148 1841.2,2165 1841.8,2161 1842.4,2156 1843.0,2165 1843.7,2159 1844.3,2161 1844.9,2153 1845.5,2152 1846.1,2158 1846.8,2153 1847.4,2151 1848.0,2140 1848.6,2142 1849.2,2137 1849.9,2140 1850.5,2155 1851.1,2148 1851.7,2144 1852.3,2126 1853.0,2132 1853.6,2136 1854.2,2139 1854.8,2140 1855.4,2141 1856.1,2145 1856.7,2152 1857.3,2147 1857.9,2148 1858.5,2153 1859.2,2158 1859.8,2150 1860.4,2152 1861.0,2153 1861.6,2158 1862.3,2157 1862.9,2171 1863.5,2164 1864.1,2151 1864.7,2154 1865.4,2163 1866.0,2158 1866.6,2154 1867.2,2156 1867.8,2166 1868.5,2155 1869.1,2162 1869.7,2155 1870.3,2163 1870.9,2174 1871.6,2162 1872.2,2172 1872.8,2149 1873.4,2165 1874.0,2163 1874.7,2169 1875.3,2157 1875.9,2169 1876.5,2164 1877.1,2161 1877.8,2155 1878.4,2166 1879.0,2158 1879.6,2169 1880.2,2166 1880.9,2168 1881.5,2150 1882.1,2164 1882.7,2160 1883.3,2161 1884.0,2168 1884.6,2157 1885.2,2152 1885.8,2161 1886.4,2153 1887.1,2167 1887.7,2167 1888.3,2157 1888.9,2149 1889.5,2161 1890.2,2155 1890.8,2168 1891.4,2163 1892.0,2161 1892.6,2166 1893.3,2161 1893.9,2148 1894.5,2159 1895.1,2150 1895.7,2149 1896.4,2160 1897.0,2162 1897.6,2150 1898.2,2156 1898.8,2149 1899.5,2152 1900.1,2148 1900.7,2149 1901.3,2148 1901.9,2148 1902.6,2138 1903.2,2140 1903.8,2140 1904.4,2139 1905.0,2154 1905.7,2142 1906.3,2128 1906.9,2134 1907.5,2122 1908.1,2142 1908.8,2132 1909.4,2122 1910.0,2128 1910.6,2129 1911.2,2126 1911.9,2119 1912.5,2112 1913.1,2115 1913.7,2120 1914.3,2115 1915.0,2113 1915.6,2130 1916.2,2123 1916.8,2137 1917.4,2129 1918.1,2133 1918.7,2121 1919.3,2138 1919.9,2138 1920.5,2144 1921.2,2144 1921.8,2143 1922.4,2144 1923.0,2161 1923.6,2159 1924.3,2152 1924.9,2150 1925.5,2149 1926.1,2152 1926.7,2155 1927.4,2160 1928.0,2154 1928.6,2162 1929.2,2153 1929.8,2159 1930.5,2160 1931.1,2162 1931.7,2158 1932.3,2156 1932.9,2167 1933.6,2148 1934.2,2157 1934.8,2160 1935.4,2168 1936.0,2163 1936.7,2164 1937.3,2164 1937.9,2168 1938.5,2160 1939.1,2163 1939.8,2158 1940.4,2154 1941.0,2152 1941.6,2162 1942.2,2158 1942.9,2163 1943.5,2156 1944.1,2161 1944.7,2157 1945.3,2161 1946.0,2168 1946.6,2164 1947.2,2158 1947.8,2162 1948.4,2168 1949.1,2163 1949.7,2159 1950.3,2158 1950.9,2168 1951.5,2166 1952.2,2166 1952.8,2165 1953.4,2161 1954.0,2164 1954.6,2165 1955.3,2172 1955.9,2162 1956.5,2161 1957.1,2153 1957.7,2164 1958.4,2170 1959.0,2164 1959.6,2165 1960.2,2167 1960.8,2162 1961.5,2166 1962.1,2163 1962.7,2168 1963.3,2161 1963.9,2163 1964.6,2164 1965.2,2154 1965.8,2175 1966.4,2160 1967.0,2169 1967.7,2168 1968.3,2163 1968.9,2154 1969.5,2163 1970.1,2166 1970.8,2160 1971.4,2170 1972.0,2160 1972.6,2158 1973.2,2161 1973.9,2164 1974.5,2167 1975.1,2150 1975.7,2170 1976.3,2156 1977.0,2163 1977.6,2154 1978.2,2156 1978.8,2166 1979.4,2172 1980.1,2172 1980.7,2161 1981.3,2167 1981.9,2159 1982.5,2159 1983.2,2175 1983.8,2167 1984.4,2167 1985.0,2156 1985.6,2165 1986.3,2153 1986.9,2164 1987.5,2165" fill="none" stroke="#ff00ff" stroke-width="3.3" stroke-linejoin="round"/>
<polyline points="152.3,2313 152.9,2317 153.5,2313 154.2,2310 154.8,2316 155.4,2314 156.0,2314 156.6,2319 157.3,2319 157.9,2325 158.5,2313 159.1,2314 159.7,2327 160.4,2317 161.0,2334 161.6,2326 162.2,2328 162.8,2314 163.5,2326 164.1,2325 164.7,2316 165.3,2309 165.9,2316 166.6,2310 167.2,2321 167.8,2320 168.4,2326 169.0,2314 169.7,2322 170.3,2313 170.9,2320 171.5,2320 172.1,2315 172.8,2327 173.4,2314 174.0,2313 174.6,2329 175.2,2310 175.9,2316 176.5,2309 177.1,2318 177.7,2334 178.3,2313 179.0,2313 179.6,2314 180.2,2334 180.8,2325 181.4,2318 182.1,2325 182.7,2329 183.3,2325 183.9,2318 184.5,2326 185.2,2314 185.8,2321 186.4,2320 187.0,2322 187.6,2318 188.3,2323 188.9,2328 189.5,2327 190.1,2321 190.7,2323 191.4,2318 192.0,2324 192.6,2315 193.2,2322 193.8,2328 194.5,2331 195.1,2327 195.7,2329 196.3,2322 196.9,2315 197.6,2320 198.2,2320 198.8,2318 199.4,2319 200.0,2332 200.7,2320 201.3,2324 201.9,2314 202.5,2321 203.1,2322 203.8,2320 204.4,2320 205.0,2316 205.6,2312 206.2,2321 206.9,2319 207.5,2330 208.1,2323 208.7,2321 209.3,2326 210.0,2318 210.6,2326 211.2,2313 211.8,2328 212.4,2316 213.1,2310 213.7,2320 214.3,2326 214.9,2313 215.5,2318 216.2,2326 216.8,2316 217.4,2325 218.0,2316 218.6,2325 219.3,2323 219.9,2323 220.5,2322 221.1,2318 221.7,2326 222.4,2318 223.0,2310 223.6,2320 224.2,2307 224.8,2318 225.5,2313 226.1,2321 226.7,2316 227.3,2319 227.9,2321 228.6,2325 229.2,2317 229.8,2331 230.4,2322 231.0,2317 231.7,2320 232.3,2328 232.9,2318 233.5,2323 234.1,2316 234.8,2319 235.4,2312 236.0,2312 236.6,2317 237.2,2324 237.9,2321 238.5,2319 239.1,2316 239.7,2323 240.3,2314 241.0,2320 241.6,2321 242.2,2320 242.8,2318 243.4,2316 244.1,2315 244.7,2322 245.3,2319 245.9,2317 246.5,2316 247.2,2323 247.8,2315 248.4,2317 249.0,2312 249.6,2318 250.3,2328 250.9,2316 251.5,2316 252.1,2316 252.7,2322 253.4,2323 254.0,2314 254.6,2317 255.2,2318 255.8,2314 256.5,2320 257.1,2315 257.7,2318 258.3,2318 258.9,2318 259.6,2320 260.2,2308 260.8,2295 261.4,2308 262.0,2280 262.7,2278 263.3,2281 263.9,2271 264.5,2272 265.1,2286 265.8,2299 266.4,2302 267.0,2292 267.6,2316 268.2,2318 268.9,2315 269.5,2314 270.1,2317 270.7,2311 271.3,2306 272.0,2323 272.6,2317 273.2,2329 273.8,2317 274.4,2322 275.1,2328 275.7,2316 276.3,2314 276.9,2318 277.5,2316 278.2,2326 278.8,2327 279.4,2325 280.0,2318 280.6,2308 281.3,2320 281.9,2313 282.5,2319 283.1,2316 283.7,2324 284.4,2314 285.0,2319 285.6,2321 286.2,2315 286.8,2319 287.5,2318 288.1,2325 288.7,2320 289.3,2307 289.9,2316 290.6,2320 291.2,2320 291.8,2312 292.4,2315 293.0,2320 293.7,2325 294.3,2310 294.9,2334 295.5,2322 296.1,2315 296.8,2327 297.4,2322 298.0,2315 298.6,2327 299.2,2316 299.9,2314 300.5,2327 301.1,2328 301.7,2320 302.3,2318 303.0,2324 303.6,2314 304.2,2327 304.8,2319 305.4,2318 306.1,2316 306.7,2307 307.3,2318 307.9,2321 308.5,2322 309.2,2318 309.8,2320 310.4,2317 311.0,2323 311.6,2321 312.3,2323 312.9,2321 313.5,2318 314.1,2310 314.7,2312 315.4,2315 316.0,2323 316.6,2325 317.2,2321 317.8,2311 318.5,2318 319.1,2309 319.7,2321 320.3,2325 320.9,2322 321.6,2316 322.2,2310 322.8,2332 323.4,2327 324.0,2318 324.7,2310 325.3,2322 325.9,2318 326.5,2318 327.1,2314 327.8,2319 328.4,2310 329.0,2318 329.6,2311 330.2,2319 330.9,2325 331.5,2308 332.1,2307 332.7,2295 333.3,2288 334.0,2280 334.6,2279 335.2,2266 335.8,2275 336.4,2234 337.1,2220 337.7,2231 338.3,2222 338.9,2212 339.5,2216 340.2,2243 340.8,2248 341.4,2252 342.0,2266 342.6,2266 343.3,2280 343.9,2309 344.5,2293 345.1,2300 345.7,2308 346.4,2317 347.0,2313 347.6,2322 348.2,2301 348.8,2318 349.5,2317 350.1,2308 350.7,2319 351.3,2325 351.9,2311 352.6,2323 353.2,2315 353.8,2322 354.4,2317 355.0,2309 355.7,2322 356.3,2319 356.9,2310 357.5,2309 358.1,2309 358.8,2325 359.4,2321 360.0,2323 360.6,2318 361.2,2322 361.9,2313 362.5,2315 363.1,2316 363.7,2327 364.3,2311 365.0,2311 365.6,2309 366.2,2301 366.8,2297 367.4,2283 368.1,2301 368.7,2278 369.3,2287 369.9,2285 370.5,2286 371.2,2275 371.8,2292 372.4,2284 373.0,2303 373.6,2302 374.3,2309 374.9,2318 375.5,2317 376.1,2319 376.7,2315 377.4,2306 378.0,2318 378.6,2317 379.2,2324 379.8,2330 380.5,2307 381.1,2316 381.7,2314 382.3,2318 382.9,2328 383.6,2326 384.2,2329 384.8,2316 385.4,2309 386.0,2309 386.7,2322 387.3,2313 387.9,2327 388.5,2317 389.1,2316 389.8,2321 390.4,2323 391.0,2324 391.6,2322 392.2,2309 392.9,2325 393.5,2323 394.1,2316 394.7,2322 395.3,2316 396.0,2319 396.6,2317 397.2,2325 397.8,2319 398.4,2316 399.1,2328 399.7,2327 400.3,2315 400.9,2318 401.5,2318 402.2,2318 402.8,2311 403.4,2315 404.0,2320 404.6,2324 405.3,2305 405.9,2305 406.5,2303 407.1,2312 407.7,2297 408.4,2280 409.0,2292 409.6,2296 410.2,2284 410.8,2290 411.5,2293 412.1,2307 412.7,2307 413.3,2312 413.9,2299 414.6,2316 415.2,2312 415.8,2319 416.4,2311 417.0,2312 417.7,2312 418.3,2309 418.9,2322 419.5,2310 420.1,2288 420.8,2292 421.4,2281 422.0,2281 422.6,2280 423.2,2294 423.9,2301 424.5,2300 425.1,2302 425.7,2310 426.3,2303 427.0,2309 427.6,2314 428.2,2326 428.8,2320 429.4,2322 430.1,2319 430.7,2324 431.3,2316 431.9,2324 432.5,2320 433.2,2326 433.8,2318 434.4,2333 435.0,2316 435.6,2324 436.3,2317 436.9,2321 437.5,2320 438.1,2322 438.7,2311 439.4,2318 440.0,2322 440.6,2323 441.2,2327 441.8,2321 442.5,2324 443.1,2320 443.7,2324 444.3,2323 444.9,2322 445.6,2326 446.2,2325 446.8,2312 447.4,2330 448.0,2326 448.7,2316 449.3,2311 449.9,2316 450.5,2314 451.1,2307 451.8,2311 452.4,2303 453.0,2311 453.6,2306 454.2,2311 454.9,2301 455.5,2307 456.1,2303 456.7,2290 457.3,2295 458.0,2296 458.6,2302 459.2,2315 459.8,2309 460.4,2313 461.1,2299 461.7,2315 462.3,2318 462.9,2310 463.5,2324 464.2,2324 464.8,2328 465.4,2318 466.0,2316 466.6,2324 467.3,2319 467.9,2315 468.5,2320 469.1,2317 469.7,2325 470.4,2322 471.0,2324 471.6,2325 472.2,2321 472.8,2324 473.5,2319 474.1,2309 474.7,2320 475.3,2316 475.9,2321 476.6,2321 477.2,2322 477.8,2312 478.4,2320 479.0,2313 479.7,2309 480.3,2315 480.9,2320 481.5,2314 482.1,2321 482.8,2326 483.4,2321 484.0,2331 484.6,2324 485.2,2321 485.9,2318 486.5,2310 487.1,2311 487.7,2312 488.3,2305 489.0,2320 489.6,2316 490.2,2316 490.8,2317 491.4,2307 492.1,2319 492.7,2320 493.3,2312 493.9,2325 494.5,2321 495.2,2292 495.8,2298 496.4,2291 497.0,2282 497.6,2264 498.3,2277 498.9,2272 499.5,2257 500.1,2267 500.7,2250 501.4,2280 502.0,2279 502.6,2282 503.2,2290 503.8,2290 504.5,2302 505.1,2310 505.7,2307 506.3,2317 506.9,2314 507.6,2322 508.2,2318 508.8,2304 509.4,2315 510.0,2326 510.7,2314 511.3,2320 511.9,2315 512.5,2308 513.1,2313 513.8,2307 514.4,2328 515.0,2320 515.6,2322 516.2,2323 516.9,2312 517.5,2318 518.1,2323 518.7,2326 519.3,2325 520.0,2314 520.6,2323 521.2,2324 521.8,2313 522.4,2320 523.1,2312 523.7,2318 524.3,2319 524.9,2316 525.5,2313 526.2,2315 526.8,2318 527.4,2318 528.0,2317 528.6,2318 529.3,2314 529.9,2315 530.5,2323 531.1,2320 531.7,2312 532.4,2320 533.0,2322 533.6,2323 534.2,2302 534.8,2316 535.5,2294 536.1,2293 536.7,2293 537.3,2285 537.9,2282 538.6,2283 539.2,2285 539.8,2290 540.4,2298 541.0,2294 541.7,2291 542.3,2294 542.9,2315 543.5,2310 544.1,2322 544.8,2323 545.4,2319 546.0,2319 546.6,2320 547.2,2308 547.9,2323 548.5,2310 549.1,2318 549.7,2304 550.3,2315 551.0,2298 551.6,2301 552.2,2298 552.8,2291 553.4,2299 554.1,2292 554.7,2303 555.3,2295 555.9,2300 556.5,2305 557.2,2293 557.8,2314 558.4,2303 559.0,2314 559.6,2306 560.3,2316 560.9,2307 561.5,2316 562.1,2321 562.7,2324 563.4,2320 564.0,2326 564.6,2320 565.2,2321 565.8,2320 566.5,2313 567.1,2324 567.7,2314 568.3,2308 568.9,2306 569.6,2302 570.2,2306 570.8,2296 571.4,2290 572.0,2301 572.7,2314 573.3,2311 573.9,2310 574.5,2313 575.1,2325 575.8,2322 576.4,2312 577.0,2317 577.6,2315 578.2,2305 578.9,2315 579.5,2308 580.1,2324 580.7,2324 581.3,2315 582.0,2309 582.6,2324 583.2,2313 583.8,2316 584.4,2316 585.1,2318 585.7,2312 586.3,2313 586.9,2317 587.5,2307 588.2,2308 588.8,2313 589.4,2313 590.0,2302 590.6,2300 591.3,2286 591.9,2280 592.5,2277 593.1,2272 593.7,2237 594.4,2225 595.0,2210 595.6,2204 596.2,2193 596.8,2193 597.5,2200 598.1,2205 598.7,2211 599.3,2257 599.9,2261 600.6,2270 601.2,2271 601.8,2280 602.4,2300 603.0,2289 603.7,2305 604.3,2302 604.9,2320 605.5,2311 606.1,2314 606.8,2316 607.4,2309 608.0,2309 608.6,2320 609.2,2317 609.9,2314 610.5,2301 611.1,2308 611.7,2308 612.3,2318 613.0,2314 613.6,2321 614.2,2315 614.8,2314 615.4,2305 616.1,2306 616.7,2307 617.3,2293 617.9,2290 618.5,2283 619.2,2276 619.8,2291 620.4,2274 621.0,2287 621.6,2279 622.3,2271 622.9,2265 623.5,2292 624.1,2277 624.7,2294 625.4,2305 626.0,2291 626.6,2305 627.2,2305 627.8,2315 628.5,2308 629.1,2319 629.7,2309 630.3,2321 630.9,2313 631.6,2312 632.2,2310 632.8,2319 633.4,2329 634.0,2309 634.7,2313 635.3,2313 635.9,2315 636.5,2319 637.1,2321 637.8,2318 638.4,2314 639.0,2316 639.6,2317 640.2,2306 640.9,2311 641.5,2306 642.1,2318 642.7,2319 643.3,2320 644.0,2321 644.6,2325 645.2,2309 645.8,2318 646.4,2323 647.1,2322 647.7,2333 648.3,2322 648.9,2326 649.5,2321 650.2,2329 650.8,2326 651.4,2315 652.0,2320 652.6,2325 653.3,2319 653.9,2307 654.5,2320 655.1,2320 655.7,2321 656.4,2308 657.0,2316 657.6,2326 658.2,2320 658.8,2324 659.5,2316 660.1,2320 660.7,2307 661.3,2309 661.9,2314 662.6,2315 663.2,2316 663.8,2306 664.4,2313 665.0,2309 665.7,2320 666.3,2328 666.9,2322 667.5,2312 668.1,2329 668.8,2324 669.4,2314 670.0,2316 670.6,2316 671.2,2318 671.9,2315 672.5,2316 673.1,2322 673.7,2320 674.3,2317 675.0,2324 675.6,2317 676.2,2324 676.8,2316 677.4,2312 678.1,2317 678.7,2322 679.3,2326 679.9,2317 680.5,2311 681.2,2321 681.8,2321 682.4,2308 683.0,2320 683.6,2312 684.3,2303 684.9,2311 685.5,2306 686.1,2299 686.7,2310 687.4,2288 688.0,2298 688.6,2289 689.2,2279 689.8,2282 690.5,2281 691.1,2280 691.7,2265 692.3,2281 692.9,2282 693.6,2298 694.2,2281 694.8,2300 695.4,2305 696.0,2306 696.7,2313 697.3,2322 697.9,2315 698.5,2310 699.1,2301 699.8,2313 700.4,2311 701.0,2311 701.6,2310 702.2,2302 702.9,2320 703.5,2303 704.1,2302 704.7,2297 705.3,2285 706.0,2294 706.6,2293 707.2,2291 707.8,2295 708.4,2287 709.1,2301 709.7,2294 710.3,2298 710.9,2309 711.5,2296 712.2,2306 712.8,2302 713.4,2295 714.0,2312 714.6,2308 715.3,2302 715.9,2305 716.5,2311 717.1,2330 717.7,2318 718.4,2323 719.0,2307 719.6,2327 720.2,2317 720.8,2324 721.5,2306 722.1,2313 722.7,2322 723.3,2309 723.9,2315 724.6,2321 725.2,2325 725.8,2309 726.4,2316 727.0,2323 727.7,2320 728.3,2315 728.9,2314 729.5,2318 730.1,2325 730.8,2324 731.4,2310 732.0,2315 732.6,2319 733.2,2313 733.9,2331 734.5,2319 735.1,2314 735.7,2314 736.3,2326 737.0,2319 737.6,2314 738.2,2322 738.8,2320 739.4,2309 740.1,2314 740.7,2317 741.3,2314 741.9,2325 742.5,2322 743.2,2324 743.8,2315 744.4,2301 745.0,2302 745.6,2318 746.3,2302 746.9,2311 747.5,2302 748.1,2311 748.7,2319 749.4,2311 750.0,2297 750.6,2299 751.2,2291 751.8,2285 752.5,2282 753.1,2285 753.7,2280 754.3,2267 754.9,2222 755.6,2214 756.2,2186 756.8,2168 757.4,2141 758.0,2095 758.7,2075 759.3,2066 759.9,2083 760.5,2094 761.1,2119 761.8,2141 762.4,2168 763.0,2205 763.6,2221 764.2,2255 764.9,2231 765.5,2265 766.1,2266 766.7,2245 767.3,2249 768.0,2227 768.6,2204 769.2,2200 769.8,2193 770.4,2131 771.1,2107 771.7,2108 772.3,2097 772.9,2116 773.5,2131 774.2,2130 774.8,2160 775.4,2184 776.0,2200 776.6,2220 777.3,2221 777.9,2222 778.5,2224 779.1,2210 779.7,2191 780.4,2168 781.0,2153 781.6,2145 782.2,2130 782.8,2145 783.5,2157 784.1,2167 784.7,2180 785.3,2197 785.9,2235 786.6,2233 787.2,2262 787.8,2268 788.4,2278 789.0,2296 789.7,2286 790.3,2299 790.9,2301 791.5,2303 792.1,2301 792.8,2317 793.4,2303 794.0,2304 794.6,2307 795.2,2314 795.9,2314 796.5,2316 797.1,2312 797.7,2322 798.3,2322 799.0,2317 799.6,2309 800.2,2316 800.8,2315 801.4,2312 802.1,2320 802.7,2316 803.3,2320 803.9,2310 804.5,2322 805.2,2320 805.8,2323 806.4,2317 807.0,2309 807.6,2309 808.3,2313 808.9,2319 809.5,2321 810.1,2309 810.7,2316 811.4,2312 812.0,2323 812.6,2313 813.2,2313 813.8,2314 814.5,2317 815.1,2305 815.7,2314 816.3,2297 816.9,2306 817.6,2315 818.2,2312 818.8,2308 819.4,2310 820.0,2315 820.7,2300 821.3,2290 821.9,2280 822.5,2276 823.1,2281 823.8,2271 824.4,2273 825.0,2239 825.6,2258 826.2,2254 826.9,2254 827.5,2260 828.1,2239 828.7,2265 829.3,2265 830.0,2277 830.6,2281 831.2,2291 831.8,2300 832.4,2299 833.1,2304 833.7,2314 834.3,2299 834.9,2302 835.5,2322 836.2,2305 836.8,2298 837.4,2311 838.0,2310 838.6,2294 839.3,2291 839.9,2290 840.5,2287 841.1,2270 841.7,2279 842.4,2278 843.0,2263 843.6,2287 844.2,2263 844.8,2282 845.5,2281 846.1,2280 846.7,2284 847.3,2297 847.9,2288 848.6,2304 849.2,2301 849.8,2309 850.4,2309 851.0,2321 851.7,2315 852.3,2307 852.9,2313 853.5,2313 854.1,2316 854.8,2310 855.4,2311 856.0,2305 856.6,2313 857.2,2317 857.9,2313 858.5,2318 859.1,2309 859.7,2314 860.3,2317 861.0,2322 861.6,2308 862.2,2314 862.8,2303 863.4,2309 864.1,2299 864.7,2314 865.3,2308 865.9,2306 866.5,2305 867.2,2298 867.8,2299 868.4,2316 869.0,2303 869.6,2304 870.3,2313 870.9,2307 871.5,2305 872.1,2291 872.7,2301 873.4,2296 874.0,2270 874.6,2279 875.2,2249 875.8,2246 876.5,2245 877.1,2226 877.7,2220 878.3,2199 878.9,2181 879.6,2175 880.2,2163 880.8,2181 881.4,2167 882.0,2183 882.7,2194 883.3,2195 883.9,2210 884.5,2225 885.1,2250 885.8,2265 886.4,2272 887.0,2281 887.6,2271 888.2,2284 888.9,2292 889.5,2314 890.1,2301 890.7,2312 891.3,2303 892.0,2296 892.6,2304 893.2,2302 893.8,2307 894.4,2302 895.1,2302 895.7,2307 896.3,2307 896.9,2304 897.5,2311 898.2,2312 898.8,2308 899.4,2307 900.0,2310 900.6,2303 901.3,2313 901.9,2317 902.5,2313 903.1,2307 903.7,2295 904.4,2293 905.0,2293 905.6,2281 906.2,2274 906.8,2271 907.5,2253 908.1,2245 908.7,2249 909.3,2228 909.9,2198 910.6,2187 911.2,2163 911.8,2152 912.4,2141 913.0,2149 913.7,2160 914.3,2151 914.9,2168 915.5,2181 916.1,2193 916.8,2220 917.4,2219 918.0,2229 918.6,2220 919.2,2245 919.9,2231 920.5,2236 921.1,2219 921.7,2220 922.3,2204 923.0,2193 923.6,2177 924.2,2186 924.8,2164 925.4,2183 926.1,2204 926.7,2215 927.3,2223 927.9,2226 928.5,2244 929.2,2243 929.8,2246 930.4,2259 931.0,2268 931.6,2228 932.3,2224 932.9,2207 933.5,2195 934.1,2172 934.7,2108 935.4,2068 936.0,2033 936.6,1951 937.2,1927 937.8,1870 938.5,1857 939.1,1863 939.7,1916 940.3,1945 940.9,2009 941.6,2049 942.2,2117 942.8,2155 943.4,2190 944.0,2215 944.7,2238 945.3,2248 945.9,2249 946.5,2263 947.1,2277 947.8,2276 948.4,2278 949.0,2269 949.6,2260 950.2,2276 950.9,2252 951.5,2243 952.1,2218 952.7,2224 953.3,2215 954.0,2202 954.6,2183 955.2,2222 955.8,2212 956.4,2219 957.1,2227 957.7,2255 958.3,2247 958.9,2271 959.5,2269 960.2,2290 960.8,2290 961.4,2302 962.0,2291 962.6,2306 963.3,2307 963.9,2306 964.5,2314 965.1,2303 965.7,2307 966.4,2302 967.0,2315 967.6,2309 968.2,2310 968.8,2321 969.5,2323 970.1,2311 970.7,2315 971.3,2298 971.9,2313 972.6,2312 973.2,2316 973.8,2317 974.4,2309 975.0,2324 975.7,2308 976.3,2311 976.9,2325 977.5,2314 978.1,2314 978.8,2301 979.4,2306 980.0,2305 980.6,2305 981.2,2298 981.9,2290 982.5,2296 983.1,2280 983.7,2281 984.3,2282 985.0,2276 985.6,2271 986.2,2269 986.8,2280 987.4,2288 988.1,2289 988.7,2282 989.3,2290 989.9,2291 990.5,2307 991.2,2303 991.8,2289 992.4,2293 993.0,2277 993.6,2287 994.3,2282 994.9,2275 995.5,2264 996.1,2263 996.7,2271 997.4,2248 998.0,2238 998.6,2255 999.2,2246 999.8,2266 1000.5,2265 1001.1,2258 1001.7,2270 1002.3,2270 1002.9,2290 1003.6,2293 1004.2,2296 1004.8,2310 1005.4,2296 1006.0,2312 1006.7,2311 1007.3,2304 1007.9,2310 1008.5,2311 1009.1,2313 1009.8,2312 1010.4,2315 1011.0,2302 1011.6,2319 1012.2,2318 1012.9,2317 1013.5,2316 1014.1,2314 1014.7,2318 1015.3,2315 1016.0,2316 1016.6,2315 1017.2,2322 1017.8,2314 1018.4,2320 1019.1,2315 1019.7,2315 1020.3,2303 1020.9,2311 1021.5,2321 1022.2,2316 1022.8,2312 1023.4,2328 1024.0,2316 1024.6,2317 1025.3,2313 1025.9,2308 1026.5,2318 1027.1,2318 1027.7,2313 1028.4,2323 1029.0,2310 1029.6,2316 1030.2,2326 1030.8,2309 1031.5,2321 1032.1,2311 1032.7,2319 1033.3,2317 1033.9,2307 1034.6,2315 1035.2,2321 1035.8,2314 1036.4,2321 1037.0,2318 1037.7,2315 1038.3,2320 1038.9,2314 1039.5,2315 1040.1,2310 1040.8,2318 1041.4,2321 1042.0,2310 1042.6,2312 1043.2,2314 1043.9,2302 1044.5,2307 1045.1,2323 1045.7,2311 1046.3,2320 1047.0,2314 1047.6,2311 1048.2,2305 1048.8,2304 1049.4,2314 1050.1,2306 1050.7,2307 1051.3,2313 1051.9,2297 1052.5,2297 1053.2,2293 1053.8,2301 1054.4,2288 1055.0,2302 1055.6,2300 1056.3,2297 1056.9,2286 1057.5,2284 1058.1,2284 1058.7,2293 1059.4,2283 1060.0,2287 1060.6,2294 1061.2,2296 1061.8,2286 1062.5,2311 1063.1,2301 1063.7,2307 1064.3,2303 1064.9,2299 1065.6,2300 1066.2,2306 1066.8,2299 1067.4,2320 1068.0,2312 1068.7,2315 1069.3,2321 1069.9,2319 1070.5,2310 1071.1,2327 1071.8,2307 1072.4,2317 1073.0,2312 1073.6,2316 1074.2,2324 1074.9,2306 1075.5,2320 1076.1,2330 1076.7,2321 1077.3,2327 1078.0,2302 1078.6,2317 1079.2,2312 1079.8,2310 1080.4,2313 1081.1,2317 1081.7,2307 1082.3,2299 1082.9,2316 1083.5,2297 1084.2,2310 1084.8,2291 1085.4,2302 1086.0,2303 1086.6,2292 1087.3,2291 1087.9,2297 1088.5,2288 1089.1,2314 1089.7,2305 1090.4,2305 1091.0,2299 1091.6,2307 1092.2,2328 1092.8,2306 1093.5,2314 1094.1,2322 1094.7,2318 1095.3,2319 1095.9,2325 1096.6,2322 1097.2,2316 1097.8,2311 1098.4,2311 1099.0,2324 1099.7,2319 1100.3,2311 1100.9,2320 1101.5,2324 1102.1,2313 1102.8,2317 1103.4,2315 1104.0,2320 1104.6,2310 1105.2,2326 1105.9,2314 1106.5,2321 1107.1,2320 1107.7,2328 1108.3,2329 1109.0,2318 1109.6,2314 1110.2,2314 1110.8,2320 1111.4,2314 1112.1,2330 1112.7,2321 1113.3,2325 1113.9,2314 1114.5,2322 1115.2,2313 1115.8,2323 1116.4,2322 1117.0,2315 1117.6,2322 1118.3,2332 1118.9,2313 1119.5,2320 1120.1,2314 1120.7,2310 1121.4,2312 1122.0,2326 1122.6,2321 1123.2,2315 1123.8,2310 1124.5,2318 1125.1,2316 1125.7,2312 1126.3,2305 1126.9,2312 1127.6,2309 1128.2,2310 1128.8,2295 1129.4,2293 1130.0,2304 1130.7,2307 1131.3,2285 1131.9,2291 1132.5,2292 1133.1,2295 1133.8,2293 1134.4,2292 1135.0,2311 1135.6,2313 1136.2,2297 1136.9,2308 1137.5,2309 1138.1,2319 1138.7,2301 1139.3,2304 1140.0,2295 1140.6,2302 1141.2,2295 1141.8,2301 1142.4,2284 1143.1,2279 1143.7,2258 1144.3,2264 1144.9,2261 1145.5,2289 1146.2,2291 1146.8,2300 1147.4,2305 1148.0,2321 1148.6,2305 1149.3,2310 1149.9,2307 1150.5,2308 1151.1,2323 1151.7,2326 1152.4,2317 1153.0,2317 1153.6,2315 1154.2,2328 1154.8,2304 1155.5,2311 1156.1,2313 1156.7,2320 1157.3,2309 1157.9,2318 1158.6,2313 1159.2,2318 1159.8,2316 1160.4,2320 1161.0,2314 1161.7,2299 1162.3,2311 1162.9,2308 1163.5,2315 1164.1,2309 1164.8,2307 1165.4,2300 1166.0,2298 1166.6,2297 1167.2,2289 1167.9,2270 1168.5,2288 1169.1,2273 1169.7,2275 1170.3,2262 1171.0,2264 1171.6,2258 1172.2,2247 1172.8,2229 1173.4,2265 1174.1,2255 1174.7,2258 1175.3,2255 1175.9,2276 1176.5,2278 1177.2,2280 1177.8,2279 1178.4,2306 1179.0,2300 1179.6,2301 1180.3,2302 1180.9,2309 1181.5,2310 1182.1,2316 1182.7,2314 1183.4,2317 1184.0,2313 1184.6,2316 1185.2,2305 1185.8,2315 1186.5,2300 1187.1,2311 1187.7,2313 1188.3,2317 1188.9,2318 1189.6,2309 1190.2,2312 1190.8,2310 1191.4,2311 1192.0,2321 1192.7,2316 1193.3,2315 1193.9,2318 1194.5,2312 1195.1,2315 1195.8,2320 1196.4,2324 1197.0,2311 1197.6,2308 1198.2,2310 1198.9,2313 1199.5,2296 1200.1,2300 1200.7,2306 1201.3,2301 1202.0,2304 1202.6,2302 1203.2,2310 1203.8,2311 1204.4,2299 1205.1,2301 1205.7,2306 1206.3,2300 1206.9,2293 1207.5,2301 1208.2,2288 1208.8,2298 1209.4,2294 1210.0,2293 1210.6,2294 1211.3,2287 1211.9,2289 1212.5,2298 1213.1,2287 1213.7,2292 1214.4,2295 1215.0,2305 1215.6,2297 1216.2,2292 1216.8,2305 1217.5,2299 1218.1,2292 1218.7,2307 1219.3,2303 1219.9,2306 1220.6,2305 1221.2,2317 1221.8,2314 1222.4,2311 1223.0,2312 1223.7,2312 1224.3,2310 1224.9,2309 1225.5,2319 1226.1,2319 1226.8,2316 1227.4,2319 1228.0,2329 1228.6,2320 1229.2,2322 1229.9,2321 1230.5,2320 1231.1,2315 1231.7,2331 1232.3,2322 1233.0,2329 1233.6,2322 1234.2,2312 1234.8,2330 1235.4,2323 1236.1,2312 1236.7,2317 1237.3,2312 1237.9,2313 1238.5,2314 1239.2,2325 1239.8,2317 1240.4,2322 1241.0,2323 1241.6,2314 1242.3,2325 1242.9,2320 1243.5,2313 1244.1,2324 1244.7,2319 1245.4,2320 1246.0,2316 1246.6,2311 1247.2,2317 1247.8,2317 1248.5,2313 1249.1,2323 1249.7,2314 1250.3,2315 1250.9,2318 1251.6,2313 1252.2,2315 1252.8,2321 1253.4,2324 1254.0,2313 1254.7,2313 1255.3,2306 1255.9,2312 1256.5,2330 1257.1,2316 1257.8,2322 1258.4,2322 1259.0,2318 1259.6,2315 1260.2,2311 1260.9,2318 1261.5,2317 1262.1,2321 1262.7,2319 1263.3,2315 1264.0,2324 1264.6,2316 1265.2,2326 1265.8,2319 1266.4,2322 1267.1,2314 1267.7,2320 1268.3,2328 1268.9,2321 1269.5,2326 1270.2,2332 1270.8,2323 1271.4,2316 1272.0,2320 1272.6,2317 1273.3,2312 1273.9,2319 1274.5,2314 1275.1,2318 1275.7,2320 1276.4,2319 1277.0,2323 1277.6,2322 1278.2,2319 1278.8,2328 1279.5,2312 1280.1,2323 1280.7,2323 1281.3,2320 1281.9,2315 1282.6,2305 1283.2,2327 1283.8,2329 1284.4,2321 1285.0,2309 1285.7,2317 1286.3,2333 1286.9,2313 1287.5,2311 1288.1,2323 1288.8,2327 1289.4,2314 1290.0,2319 1290.6,2324 1291.2,2317 1291.9,2316 1292.5,2320 1293.1,2313 1293.7,2314 1294.3,2311 1295.0,2314 1295.6,2306 1296.2,2320 1296.8,2319 1297.4,2302 1298.1,2300 1298.7,2299 1299.3,2305 1299.9,2312 1300.5,2297 1301.2,2313 1301.8,2313 1302.4,2306 1303.0,2303 1303.6,2309 1304.3,2302 1304.9,2313 1305.5,2311 1306.1,2301 1306.7,2303 1307.4,2300 1308.0,2305 1308.6,2309 1309.2,2309 1309.8,2307 1310.5,2315 1311.1,2309 1311.7,2320 1312.3,2306 1312.9,2311 1313.6,2318 1314.2,2310 1314.8,2324 1315.4,2317 1316.0,2315 1316.7,2314 1317.3,2330 1317.9,2325 1318.5,2315 1319.1,2322 1319.8,2312 1320.4,2313 1321.0,2315 1321.6,2311 1322.2,2322 1322.9,2312 1323.5,2315 1324.1,2319 1324.7,2310 1325.3,2316 1326.0,2317 1326.6,2317 1327.2,2316 1327.8,2313 1328.4,2322 1329.1,2305 1329.7,2319 1330.3,2316 1330.9,2306 1331.5,2318 1332.2,2317 1332.8,2314 1333.4,2327 1334.0,2307 1334.6,2317 1335.3,2318 1335.9,2314 1336.5,2305 1337.1,2322 1337.7,2313 1338.4,2322 1339.0,2320 1339.6,2308 1340.2,2327 1340.8,2309 1341.5,2319 1342.1,2315 1342.7,2322 1343.3,2320 1343.9,2324 1344.6,2325 1345.2,2321 1345.8,2322 1346.4,2312 1347.0,2316 1347.7,2317 1348.3,2322 1348.9,2325 1349.5,2322 1350.1,2333 1350.8,2317 1351.4,2310 1352.0,2321 1352.6,2308 1353.2,2320 1353.9,2318 1354.5,2317 1355.1,2323 1355.7,2316 1356.3,2313 1357.0,2304 1357.6,2319 1358.2,2318 1358.8,2306 1359.4,2308 1360.1,2312 1360.7,2318 1361.3,2315 1361.9,2320 1362.5,2325 1363.2,2305 1363.8,2308 1364.4,2320 1365.0,2327 1365.6,2318 1366.3,2321 1366.9,2315 1367.5,2320 1368.1,2317 1368.7,2306 1369.4,2319 1370.0,2316 1370.6,2314 1371.2,2315 1371.8,2319 1372.5,2305 1373.1,2315 1373.7,2314 1374.3,2309 1374.9,2305 1375.6,2302 1376.2,2293 1376.8,2301 1377.4,2289 1378.0,2283 1378.7,2272 1379.3,2274 1379.9,2264 1380.5,2259 1381.1,2245 1381.8,2227 1382.4,2225 1383.0,2215 1383.6,2212 1384.2,2208 1384.9,2184 1385.5,2195 1386.1,2206 1386.7,2205 1387.3,2207 1388.0,2233 1388.6,2250 1389.2,2258 1389.8,2265 1390.4,2251 1391.1,2270 1391.7,2288 1392.3,2282 1392.9,2283 1393.5,2279 1394.2,2295 1394.8,2301 1395.4,2303 1396.0,2309 1396.6,2309 1397.3,2303 1397.9,2323 1398.5,2313 1399.1,2312 1399.7,2305 1400.4,2305 1401.0,2311 1401.6,2322 1402.2,2317 1402.8,2313 1403.5,2312 1404.1,2314 1404.7,2325 1405.3,2321 1405.9,2319 1406.6,2318 1407.2,2316 1407.8,2305 1408.4,2302 1409.0,2311 1409.7,2317 1410.3,2316 1410.9,2318 1411.5,2318 1412.1,2306 1412.8,2321 1413.4,2312 1414.0,2311 1414.6,2309 1415.2,2326 1415.9,2322 1416.5,2314 1417.1,2312 1417.7,2316 1418.3,2314 1419.0,2310 1419.6,2307 1420.2,2322 1420.8,2320 1421.4,2316 1422.1,2306 1422.7,2318 1423.3,2303 1423.9,2308 1424.5,2309 1425.2,2321 1425.8,2318 1426.4,2320 1427.0,2307 1427.6,2301 1428.3,2315 1428.9,2315 1429.5,2304 1430.1,2316 1430.7,2303 1431.4,2305 1432.0,2310 1432.6,2281 1433.2,2292 1433.8,2282 1434.5,2273 1435.1,2281 1435.7,2280 1436.3,2272 1436.9,2264 1437.6,2255 1438.2,2276 1438.8,2275 1439.4,2288 1440.0,2286 1440.7,2283 1441.3,2294 1441.9,2300 1442.5,2296 1443.1,2308 1443.8,2298 1444.4,2290 1445.0,2287 1445.6,2305 1446.2,2297 1446.9,2292 1447.5,2282 1448.1,2280 1448.7,2270 1449.3,2270 1450.0,2261 1450.6,2258 1451.2,2264 1451.8,2275 1452.4,2266 1453.1,2283 1453.7,2290 1454.3,2288 1454.9,2302 1455.5,2298 1456.2,2308 1456.8,2305 1457.4,2323 1458.0,2307 1458.6,2321 1459.3,2321 1459.9,2305 1460.5,2311 1461.1,2310 1461.7,2303 1462.4,2310 1463.0,2320 1463.6,2317 1464.2,2320 1464.8,2318 1465.5,2316 1466.1,2326 1466.7,2320 1467.3,2308 1467.9,2309 1468.6,2312 1469.2,2304 1469.8,2312 1470.4,2316 1471.0,2324 1471.7,2321 1472.3,2320 1472.9,2322 1473.5,2316 1474.1,2301 1474.8,2308 1475.4,2320 1476.0,2312 1476.6,2316 1477.2,2311 1477.9,2307 1478.5,2305 1479.1,2306 1479.7,2301 1480.3,2315 1481.0,2295 1481.6,2304 1482.2,2292 1482.8,2290 1483.4,2301 1484.1,2287 1484.7,2289 1485.3,2292 1485.9,2287 1486.5,2292 1487.2,2298 1487.8,2287 1488.4,2277 1489.0,2290 1489.6,2296 1490.3,2272 1490.9,2283 1491.5,2274 1492.1,2282 1492.7,2279 1493.4,2277 1494.0,2277 1494.6,2277 1495.2,2290 1495.8,2287 1496.5,2298 1497.1,2301 1497.7,2294 1498.3,2298 1498.9,2299 1499.6,2300 1500.2,2310 1500.8,2304 1501.4,2312 1502.0,2295 1502.7,2299 1503.3,2316 1503.9,2297 1504.5,2311 1505.1,2298 1505.8,2297 1506.4,2291 1507.0,2308 1507.6,2304 1508.2,2300 1508.9,2310 1509.5,2304 1510.1,2313 1510.7,2309 1511.3,2284 1512.0,2296 1512.6,2291 1513.2,2292 1513.8,2298 1514.4,2299 1515.1,2304 1515.7,2293 1516.3,2289 1516.9,2295 1517.5,2286 1518.2,2286 1518.8,2295 1519.4,2303 1520.0,2297 1520.6,2294 1521.3,2306 1521.9,2294 1522.5,2301 1523.1,2310 1523.7,2306 1524.4,2316 1525.0,2306 1525.6,2313 1526.2,2322 1526.8,2307 1527.5,2312 1528.1,2310 1528.7,2316 1529.3,2319 1529.9,2307 1530.6,2315 1531.2,2320 1531.8,2311 1532.4,2307 1533.0,2321 1533.7,2319 1534.3,2317 1534.9,2321 1535.5,2320 1536.1,2318 1536.8,2309 1537.4,2326 1538.0,2320 1538.6,2317 1539.2,2327 1539.9,2324 1540.5,2312 1541.1,2321 1541.7,2324 1542.3,2316 1543.0,2321 1543.6,2311 1544.2,2317 1544.8,2315 1545.4,2320 1546.1,2316 1546.7,2317 1547.3,2314 1547.9,2323 1548.5,2319 1549.2,2310 1549.8,2312 1550.4,2316 1551.0,2329 1551.6,2314 1552.3,2325 1552.9,2314 1553.5,2311 1554.1,2324 1554.7,2319 1555.4,2325 1556.0,2324 1556.6,2311 1557.2,2320 1557.8,2316 1558.5,2315 1559.1,2326 1559.7,2323 1560.3,2325 1560.9,2327 1561.6,2317 1562.2,2307 1562.8,2308 1563.4,2314 1564.0,2325 1564.7,2304 1565.3,2302 1565.9,2305 1566.5,2280 1567.1,2274 1567.8,2281 1568.4,2271 1569.0,2272 1569.6,2282 1570.2,2288 1570.9,2296 1571.5,2289 1572.1,2298 1572.7,2314 1573.3,2305 1574.0,2293 1574.6,2292 1575.2,2292 1575.8,2300 1576.4,2295 1577.1,2301 1577.7,2305 1578.3,2291 1578.9,2284 1579.5,2300 1580.2,2290 1580.8,2292 1581.4,2296 1582.0,2290 1582.6,2292 1583.3,2287 1583.9,2292 1584.5,2299 1585.1,2291 1585.7,2308 1586.4,2314 1587.0,2312 1587.6,2310 1588.2,2302 1588.8,2304 1589.5,2317 1590.1,2312 1590.7,2308 1591.3,2309 1591.9,2299 1592.6,2301 1593.2,2307 1593.8,2300 1594.4,2287 1595.0,2282 1595.7,2280 1596.3,2274 1596.9,2257 1597.5,2259 1598.1,2239 1598.8,2253 1599.4,2235 1600.0,2238 1600.6,2229 1601.2,2237 1601.9,2253 1602.5,2256 1603.1,2255 1603.7,2276 1604.3,2292 1605.0,2282 1605.6,2289 1606.2,2294 1606.8,2302 1607.4,2304 1608.1,2312 1608.7,2307 1609.3,2310 1609.9,2313 1610.5,2314 1611.2,2306 1611.8,2312 1612.4,2310 1613.0,2320 1613.6,2313 1614.3,2306 1614.9,2323 1615.5,2304 1616.1,2303 1616.7,2320 1617.4,2298 1618.0,2314 1618.6,2308 1619.2,2306 1619.8,2314 1620.5,2300 1621.1,2298 1621.7,2287 1622.3,2287 1622.9,2284 1623.6,2279 1624.2,2276 1624.8,2260 1625.4,2246 1626.0,2249 1626.7,2260 1627.3,2235 1627.9,2225 1628.5,2212 1629.1,2226 1629.8,2228 1630.4,2228 1631.0,2248 1631.6,2239 1632.2,2265 1632.9,2270 1633.5,2267 1634.1,2289 1634.7,2286 1635.3,2297 1636.0,2302 1636.6,2302 1637.2,2301 1637.8,2312 1638.4,2306 1639.1,2318 1639.7,2317 1640.3,2307 1640.9,2309 1641.5,2316 1642.2,2313 1642.8,2319 1643.4,2308 1644.0,2315 1644.6,2314 1645.3,2317 1645.9,2308 1646.5,2308 1647.1,2328 1647.7,2310 1648.4,2316 1649.0,2330 1649.6,2311 1650.2,2320 1650.8,2326 1651.5,2324 1652.1,2312 1652.7,2318 1653.3,2319 1653.9,2326 1654.6,2305 1655.2,2319 1655.8,2313 1656.4,2314 1657.0,2315 1657.7,2320 1658.3,2315 1658.9,2321 1659.5,2318 1660.1,2306 1660.8,2329 1661.4,2313 1662.0,2329 1662.6,2321 1663.2,2320 1663.9,2313 1664.5,2322 1665.1,2318 1665.7,2310 1666.3,2316 1667.0,2325 1667.6,2316 1668.2,2318 1668.8,2322 1669.4,2319 1670.1,2325 1670.7,2315 1671.3,2320 1671.9,2320 1672.5,2324 1673.2,2314 1673.8,2329 1674.4,2319 1675.0,2325 1675.6,2320 1676.3,2322 1676.9,2317 1677.5,2312 1678.1,2321 1678.7,2331 1679.4,2324 1680.0,2317 1680.6,2333 1681.2,2318 1681.8,2319 1682.5,2325 1683.1,2325 1683.7,2315 1684.3,2329 1684.9,2309 1685.6,2316 1686.2,2305 1686.8,2327 1687.4,2314 1688.0,2312 1688.7,2311 1689.3,2315 1689.9,2325 1690.5,2310 1691.1,2318 1691.8,2319 1692.4,2320 1693.0,2323 1693.6,2320 1694.2,2330 1694.9,2321 1695.5,2320 1696.1,2315 1696.7,2310 1697.3,2333 1698.0,2326 1698.6,2320 1699.2,2330 1699.8,2314 1700.4,2316 1701.1,2326 1701.7,2312 1702.3,2314 1702.9,2327 1703.5,2313 1704.2,2327 1704.8,2324 1705.4,2315 1706.0,2309 1706.6,2307 1707.3,2314 1707.9,2314 1708.5,2321 1709.1,2326 1709.7,2306 1710.4,2325 1711.0,2317 1711.6,2319 1712.2,2316 1712.8,2321 1713.5,2309 1714.1,2312 1714.7,2324 1715.3,2327 1715.9,2326 1716.6,2312 1717.2,2309 1717.8,2314 1718.4,2319 1719.0,2313 1719.7,2311 1720.3,2312 1720.9,2297 1721.5,2293 1722.1,2296 1722.8,2293 1723.4,2295 1724.0,2294 1724.6,2282 1725.2,2275 1725.9,2295 1726.5,2272 1727.1,2265 1727.7,2270 1728.3,2267 1729.0,2273 1729.6,2260 1730.2,2288 1730.8,2278 1731.4,2287 1732.1,2280 1732.7,2298 1733.3,2302 1733.9,2300 1734.5,2301 1735.2,2308 1735.8,2311 1736.4,2299 1737.0,2308 1737.6,2303 1738.3,2309 1738.9,2304 1739.5,2307 1740.1,2316 1740.7,2324 1741.4,2314 1742.0,2317 1742.6,2308 1743.2,2310 1743.8,2314 1744.5,2320 1745.1,2316 1745.7,2308 1746.3,2307 1746.9,2293 1747.6,2286 1748.2,2288 1748.8,2300 1749.4,2276 1750.0,2274 1750.7,2288 1751.3,2283 1751.9,2289 1752.5,2268 1753.1,2280 1753.8,2278 1754.4,2297 1755.0,2284 1755.6,2293 1756.2,2309 1756.9,2296 1757.5,2291 1758.1,2292 1758.7,2292 1759.3,2309 1760.0,2306 1760.6,2298 1761.2,2313 1761.8,2296 1762.4,2314 1763.1,2299 1763.7,2298 1764.3,2306 1764.9,2296 1765.5,2302 1766.2,2287 1766.8,2282 1767.4,2279 1768.0,2270 1768.6,2267 1769.3,2251 1769.9,2243 1770.5,2226 1771.1,2222 1771.7,2221 1772.4,2224 1773.0,2201 1773.6,2202 1774.2,2216 1774.8,2206 1775.5,2221 1776.1,2214 1776.7,2233 1777.3,2248 1777.9,2249 1778.6,2261 1779.2,2279 1779.8,2279 1780.4,2290 1781.0,2294 1781.7,2302 1782.3,2302 1782.9,2292 1783.5,2305 1784.1,2313 1784.8,2300 1785.4,2313 1786.0,2301 1786.6,2303 1787.2,2318 1787.9,2323 1788.5,2314 1789.1,2319 1789.7,2302 1790.3,2315 1791.0,2302 1791.6,2311 1792.2,2317 1792.8,2317 1793.4,2326 1794.1,2319 1794.7,2313 1795.3,2308 1795.9,2313 1796.5,2306 1797.2,2310 1797.8,2312 1798.4,2304 1799.0,2316 1799.6,2322 1800.3,2307 1800.9,2313 1801.5,2328 1802.1,2315 1802.7,2314 1803.4,2324 1804.0,2308 1804.6,2307 1805.2,2309 1805.8,2319 1806.5,2315 1807.1,2316 1807.7,2329 1808.3,2323 1808.9,2313 1809.6,2319 1810.2,2314 1810.8,2316 1811.4,2321 1812.0,2318 1812.7,2315 1813.3,2310 1813.9,2322 1814.5,2321 1815.1,2318 1815.8,2312 1816.4,2319 1817.0,2318 1817.6,2311 1818.2,2314 1818.9,2306 1819.5,2314 1820.1,2324 1820.7,2309 1821.3,2327 1822.0,2322 1822.6,2321 1823.2,2317 1823.8,2318 1824.4,2325 1825.1,2317 1825.7,2321 1826.3,2325 1826.9,2320 1827.5,2318 1828.2,2313 1828.8,2320 1829.4,2315 1830.0,2331 1830.6,2315 1831.3,2315 1831.9,2319 1832.5,2324 1833.1,2311 1833.7,2317 1834.4,2318 1835.0,2310 1835.6,2315 1836.2,2312 1836.8,2321 1837.5,2323 1838.1,2327 1838.7,2320 1839.3,2324 1839.9,2324 1840.6,2314 1841.2,2322 1841.8,2317 1842.4,2309 1843.0,2317 1843.7,2316 1844.3,2317 1844.9,2321 1845.5,2309 1846.1,2315 1846.8,2303 1847.4,2296 1848.0,2301 1848.6,2303 1849.2,2301 1849.9,2284 1850.5,2289 1851.1,2285 1851.7,2278 1852.3,2297 1853.0,2289 1853.6,2301 1854.2,2305 1854.8,2313 1855.4,2303 1856.1,2312 1856.7,2321 1857.3,2313 1857.9,2314 1858.5,2315 1859.2,2305 1859.8,2317 1860.4,2307 1861.0,2316 1861.6,2308 1862.3,2321 1862.9,2323 1863.5,2323 1864.1,2317 1864.7,2315 1865.4,2318 1866.0,2307 1866.6,2308 1867.2,2320 1867.8,2318 1868.5,2313 1869.1,2328 1869.7,2313 1870.3,2320 1870.9,2320 1871.6,2316 1872.2,2315 1872.8,2315 1873.4,2324 1874.0,2305 1874.7,2316 1875.3,2303 1875.9,2310 1876.5,2314 1877.1,2304 1877.8,2288 1878.4,2301 1879.0,2288 1879.6,2290 1880.2,2286 1880.9,2291 1881.5,2286 1882.1,2292 1882.7,2292 1883.3,2305 1884.0,2304 1884.6,2299 1885.2,2318 1885.8,2297 1886.4,2308 1887.1,2304 1887.7,2303 1888.3,2316 1888.9,2308 1889.5,2323 1890.2,2300 1890.8,2317 1891.4,2317 1892.0,2320 1892.6,2315 1893.3,2315 1893.9,2310 1894.5,2313 1895.1,2330 1895.7,2314 1896.4,2298 1897.0,2311 1897.6,2303 1898.2,2300 1898.8,2297 1899.5,2298 1900.1,2303 1900.7,2285 1901.3,2287 1901.9,2285 1902.6,2279 1903.2,2288 1903.8,2277 1904.4,2283 1905.0,2278 1905.7,2273 1906.3,2292 1906.9,2275 1907.5,2284 1908.1,2293 1908.8,2301 1909.4,2287 1910.0,2312 1910.6,2292 1911.2,2304 1911.9,2304 1912.5,2301 1913.1,2295 1913.7,2317 1914.3,2313 1915.0,2300 1915.6,2316 1916.2,2307 1916.8,2318 1917.4,2316 1918.1,2317 1918.7,2318 1919.3,2322 1919.9,2323 1920.5,2313 1921.2,2329 1921.8,2319 1922.4,2331 1923.0,2317 1923.6,2305 1924.3,2321 1924.9,2314 1925.5,2317 1926.1,2308 1926.7,2319 1927.4,2327 1928.0,2325 1928.6,2317 1929.2,2315 1929.8,2317 1930.5,2315 1931.1,2326 1931.7,2328 1932.3,2317 1932.9,2315 1933.6,2321 1934.2,2311 1934.8,2329 1935.4,2322 1936.0,2319 1936.7,2328 1937.3,2318 1937.9,2313 1938.5,2317 1939.1,2321 1939.8,2318 1940.4,2320 1941.0,2333 1941.6,2334 1942.2,2323 1942.9,2322 1943.5,2315 1944.1,2321 1944.7,2318 1945.3,2315 1946.0,2322 1946.6,2315 1947.2,2313 1947.8,2327 1948.4,2321 1949.1,2319 1949.7,2317 1950.3,2317 1950.9,2316 1951.5,2316 1952.2,2328 1952.8,2318 1953.4,2332 1954.0,2316 1954.6,2309 1955.3,2317 1955.9,2313 1956.5,2313 1957.1,2320 1957.7,2323 1958.4,2312 1959.0,2323 1959.6,2324 1960.2,2319 1960.8,2314 1961.5,2329 1962.1,2318 1962.7,2317 1963.3,2315 1963.9,2313 1964.6,2326 1965.2,2325 1965.8,2306 1966.4,2311 1967.0,2320 1967.7,2321 1968.3,2316 1968.9,2329 1969.5,2323 1970.1,2321 1970.8,2317 1971.4,2315 1972.0,2319 1972.6,2315 1973.2,2318 1973.9,2332 1974.5,2317 1975.1,2317 1975.7,2322 1976.3,2315 1977.0,2322 1977.6,2324 1978.2,2322 1978.8,2318 1979.4,2321 1980.1,2320 1980.7,2318 1981.3,2306 1981.9,2331 1982.5,2326 1983.2,2310 1983.8,2324 1984.4,2325 1985.0,2321 1985.6,2325 1986.3,2324 1986.9,2323 1987.5,2309" fill="none" stroke="#0000ff" stroke-width="3.3" stroke-linejoin="round"/>
<polyline points="152.3,2543 152.9,2553 153.5,2549 154.2,2543 154.8,2547 155.4,2545 156.0,2550 156.6,2541 157.3,2548 157.9,2552 158.5,2548 159.1,2554 159.7,2548 160.4,2554 161.0,2550 161.6,2552 162.2,2562 162.8,2553 163.5,2548 164.1,2540 164.7,2545 165.3,2554 165.9,2553 166.6,2554 167.2,2557 167.8,2549 168.4,2549 169.0,2550 169.7,2543 170.3,2545 170.9,2544 171.5,2547 172.1,2550 172.8,2558 173.4,2546 174.0,2543 174.6,2549 175.2,2548 175.9,2551 176.5,2550 177.1,2541 177.7,2548 178.3,2555 179.0,2551 179.6,2558 180.2,2549 180.8,2550 181.4,2547 182.1,2545 182.7,2560 183.3,2551 183.9,2551 184.5,2545 185.2,2552 185.8,2546 186.4,2548 187.0,2548 187.6,2550 188.3,2538 188.9,2549 189.5,2546 190.1,2550 190.7,2560 191.4,2558 192.0,2561 192.6,2549 193.2,2547 193.8,2544 194.5,2555 195.1,2547 195.7,2560 196.3,2556 196.9,2552 197.6,2555 198.2,2547 198.8,2549 199.4,2547 200.0,2559 200.7,2555 201.3,2552 201.9,2546 202.5,2546 203.1,2550 203.8,2552 204.4,2556 205.0,2542 205.6,2548 206.2,2554 206.9,2554 207.5,2548 208.1,2556 208.7,2561 209.3,2554 210.0,2546 210.6,2544 211.2,2546 211.8,2555 212.4,2554 213.1,2551 213.7,2561 214.3,2545 214.9,2553 215.5,2540 216.2,2547 216.8,2548 217.4,2549 218.0,2545 218.6,2542 219.3,2536 219.9,2554 220.5,2551 221.1,2552 221.7,2554 222.4,2549 223.0,2557 223.6,2551 224.2,2547 224.8,2550 225.5,2558 226.1,2554 226.7,2548 227.3,2544 227.9,2543 228.6,2547 229.2,2547 229.8,2549 230.4,2547 231.0,2548 231.7,2550 232.3,2556 232.9,2555 233.5,2551 234.1,2553 234.8,2549 235.4,2543 236.0,2541 236.6,2552 237.2,2546 237.9,2544 238.5,2555 239.1,2546 239.7,2554 240.3,2552 241.0,2553 241.6,2547 242.2,2553 242.8,2544 243.4,2553 244.1,2541 244.7,2557 245.3,2546 245.9,2547 246.5,2549 247.2,2541 247.8,2551 248.4,2549 249.0,2537 249.6,2546 250.3,2555 250.9,2549 251.5,2555 252.1,2545 252.7,2545 253.4,2547 254.0,2541 254.6,2561 255.2,2554 255.8,2542 256.5,2546 257.1,2561 257.7,2541 258.3,2545 258.9,2559 259.6,2546 260.2,2553 260.8,2556 261.4,2547 262.0,2544 262.7,2538 263.3,2547 263.9,2524 264.5,2538 265.1,2533 265.8,2524 266.4,2512 267.0,2518 267.6,2518 268.2,2518 268.9,2509 269.5,2530 270.1,2536 270.7,2540 271.3,2536 272.0,2537 272.6,2544 273.2,2544 273.8,2544 274.4,2552 275.1,2550 275.7,2543 276.3,2557 276.9,2554 277.5,2557 278.2,2556 278.8,2551 279.4,2547 280.0,2551 280.6,2557 281.3,2547 281.9,2545 282.5,2539 283.1,2546 283.7,2554 284.4,2537 285.0,2541 285.6,2556 286.2,2550 286.8,2549 287.5,2546 288.1,2543 288.7,2551 289.3,2545 289.9,2544 290.6,2546 291.2,2551 291.8,2549 292.4,2545 293.0,2544 293.7,2554 294.3,2548 294.9,2553 295.5,2542 296.1,2540 296.8,2545 297.4,2557 298.0,2547 298.6,2560 299.2,2546 299.9,2554 300.5,2538 301.1,2547 301.7,2554 302.3,2548 303.0,2541 303.6,2552 304.2,2551 304.8,2559 305.4,2545 306.1,2553 306.7,2542 307.3,2554 307.9,2547 308.5,2552 309.2,2558 309.8,2553 310.4,2550 311.0,2547 311.6,2549 312.3,2549 312.9,2555 313.5,2554 314.1,2549 314.7,2542 315.4,2551 316.0,2544 316.6,2543 317.2,2539 317.8,2553 318.5,2548 319.1,2538 319.7,2547 320.3,2543 320.9,2552 321.6,2539 322.2,2549 322.8,2545 323.4,2547 324.0,2546 324.7,2537 325.3,2547 325.9,2547 326.5,2560 327.1,2549 327.8,2548 328.4,2549 329.0,2544 329.6,2545 330.2,2547 330.9,2549 331.5,2536 332.1,2538 332.7,2552 333.3,2548 334.0,2546 334.6,2542 335.2,2535 335.8,2541 336.4,2530 337.1,2529 337.7,2530 338.3,2518 338.9,2514 339.5,2509 340.2,2512 340.8,2506 341.4,2509 342.0,2521 342.6,2519 343.3,2535 343.9,2531 344.5,2530 345.1,2527 345.7,2555 346.4,2557 347.0,2536 347.6,2550 348.2,2544 348.8,2544 349.5,2546 350.1,2547 350.7,2551 351.3,2555 351.9,2536 352.6,2540 353.2,2544 353.8,2548 354.4,2550 355.0,2540 355.7,2552 356.3,2548 356.9,2551 357.5,2545 358.1,2536 358.8,2546 359.4,2544 360.0,2553 360.6,2542 361.2,2542 361.9,2548 362.5,2552 363.1,2546 363.7,2550 364.3,2549 365.0,2540 365.6,2550 366.2,2543 366.8,2536 367.4,2533 368.1,2542 368.7,2543 369.3,2537 369.9,2525 370.5,2531 371.2,2526 371.8,2517 372.4,2531 373.0,2522 373.6,2523 374.3,2531 374.9,2524 375.5,2533 376.1,2526 376.7,2536 377.4,2540 378.0,2544 378.6,2539 379.2,2549 379.8,2542 380.5,2538 381.1,2542 381.7,2545 382.3,2546 382.9,2559 383.6,2537 384.2,2540 384.8,2556 385.4,2548 386.0,2545 386.7,2554 387.3,2547 387.9,2547 388.5,2549 389.1,2546 389.8,2549 390.4,2548 391.0,2543 391.6,2547 392.2,2546 392.9,2549 393.5,2549 394.1,2543 394.7,2548 395.3,2542 396.0,2537 396.6,2547 397.2,2537 397.8,2545 398.4,2541 399.1,2551 399.7,2549 400.3,2544 400.9,2545 401.5,2550 402.2,2547 402.8,2544 403.4,2544 404.0,2544 404.6,2541 405.3,2538 405.9,2538 406.5,2539 407.1,2546 407.7,2542 408.4,2543 409.0,2533 409.6,2531 410.2,2548 410.8,2521 411.5,2527 412.1,2527 412.7,2525 413.3,2535 413.9,2531 414.6,2539 415.2,2529 415.8,2534 416.4,2546 417.0,2543 417.7,2543 418.3,2541 418.9,2557 419.5,2535 420.1,2541 420.8,2535 421.4,2546 422.0,2547 422.6,2532 423.2,2533 423.9,2535 424.5,2532 425.1,2533 425.7,2520 426.3,2518 427.0,2514 427.6,2523 428.2,2532 428.8,2524 429.4,2536 430.1,2539 430.7,2538 431.3,2538 431.9,2547 432.5,2543 433.2,2553 433.8,2546 434.4,2560 435.0,2545 435.6,2551 436.3,2545 436.9,2541 437.5,2551 438.1,2546 438.7,2539 439.4,2550 440.0,2548 440.6,2543 441.2,2554 441.8,2544 442.5,2547 443.1,2544 443.7,2550 444.3,2546 444.9,2543 445.6,2545 446.2,2545 446.8,2545 447.4,2550 448.0,2561 448.7,2549 449.3,2549 449.9,2551 450.5,2552 451.1,2550 451.8,2543 452.4,2552 453.0,2553 453.6,2548 454.2,2541 454.9,2555 455.5,2546 456.1,2547 456.7,2527 457.3,2534 458.0,2531 458.6,2526 459.2,2515 459.8,2509 460.4,2523 461.1,2525 461.7,2522 462.3,2531 462.9,2536 463.5,2551 464.2,2536 464.8,2545 465.4,2548 466.0,2539 466.6,2550 467.3,2545 467.9,2543 468.5,2552 469.1,2547 469.7,2561 470.4,2552 471.0,2544 471.6,2553 472.2,2545 472.8,2554 473.5,2541 474.1,2548 474.7,2545 475.3,2557 475.9,2546 476.6,2546 477.2,2554 477.8,2546 478.4,2544 479.0,2551 479.7,2548 480.3,2553 480.9,2552 481.5,2544 482.1,2543 482.8,2542 483.4,2555 484.0,2542 484.6,2544 485.2,2554 485.9,2561 486.5,2552 487.1,2559 487.7,2559 488.3,2546 489.0,2553 489.6,2545 490.2,2556 490.8,2546 491.4,2541 492.1,2551 492.7,2554 493.3,2546 493.9,2551 494.5,2538 495.2,2543 495.8,2549 496.4,2542 497.0,2546 497.6,2545 498.3,2537 498.9,2544 499.5,2545 500.1,2535 500.7,2544 501.4,2538 502.0,2528 502.6,2535 503.2,2528 503.8,2529 504.5,2535 505.1,2534 505.7,2530 506.3,2525 506.9,2536 507.6,2534 508.2,2551 508.8,2547 509.4,2542 510.0,2532 510.7,2551 511.3,2547 511.9,2549 512.5,2534 513.1,2535 513.8,2554 514.4,2536 515.0,2542 515.6,2538 516.2,2549 516.9,2544 517.5,2540 518.1,2553 518.7,2539 519.3,2545 520.0,2544 520.6,2550 521.2,2540 521.8,2541 522.4,2558 523.1,2546 523.7,2540 524.3,2549 524.9,2537 525.5,2549 526.2,2549 526.8,2550 527.4,2548 528.0,2551 528.6,2554 529.3,2545 529.9,2546 530.5,2546 531.1,2552 531.7,2540 532.4,2536 533.0,2536 533.6,2549 534.2,2539 534.8,2550 535.5,2545 536.1,2551 536.7,2554 537.3,2544 537.9,2534 538.6,2537 539.2,2540 539.8,2534 540.4,2536 541.0,2525 541.7,2529 542.3,2522 542.9,2523 543.5,2511 544.1,2521 544.8,2504 545.4,2512 546.0,2508 546.6,2524 547.2,2530 547.9,2539 548.5,2534 549.1,2541 549.7,2554 550.3,2550 551.0,2539 551.6,2550 552.2,2552 552.8,2545 553.4,2542 554.1,2549 554.7,2538 555.3,2548 555.9,2541 556.5,2545 557.2,2539 557.8,2555 558.4,2539 559.0,2546 559.6,2559 560.3,2554 560.9,2548 561.5,2542 562.1,2538 562.7,2552 563.4,2542 564.0,2560 564.6,2539 565.2,2553 565.8,2558 566.5,2553 567.1,2537 567.7,2554 568.3,2546 568.9,2542 569.6,2540 570.2,2549 570.8,2540 571.4,2542 572.0,2538 572.7,2542 573.3,2526 573.9,2526 574.5,2528 575.1,2531 575.8,2530 576.4,2531 577.0,2544 577.6,2542 578.2,2551 578.9,2541 579.5,2545 580.1,2538 580.7,2553 581.3,2539 582.0,2555 582.6,2548 583.2,2542 583.8,2546 584.4,2550 585.1,2551 585.7,2547 586.3,2533 586.9,2541 587.5,2532 588.2,2544 588.8,2543 589.4,2540 590.0,2538 590.6,2541 591.3,2548 591.9,2541 592.5,2535 593.1,2531 593.7,2533 594.4,2521 595.0,2514 595.6,2508 596.2,2487 596.8,2482 597.5,2471 598.1,2478 598.7,2483 599.3,2482 599.9,2503 600.6,2510 601.2,2521 601.8,2531 602.4,2525 603.0,2536 603.7,2543 604.3,2542 604.9,2544 605.5,2537 606.1,2545 606.8,2538 607.4,2549 608.0,2543 608.6,2543 609.2,2549 609.9,2541 610.5,2542 611.1,2538 611.7,2540 612.3,2548 613.0,2543 613.6,2538 614.2,2554 614.8,2541 615.4,2541 616.1,2531 616.7,2525 617.3,2524 617.9,2521 618.5,2515 619.2,2512 619.8,2514 620.4,2500 621.0,2506 621.6,2491 622.3,2496 622.9,2505 623.5,2509 624.1,2508 624.7,2506 625.4,2514 626.0,2530 626.6,2527 627.2,2524 627.8,2536 628.5,2538 629.1,2539 629.7,2546 630.3,2540 630.9,2550 631.6,2552 632.2,2538 632.8,2547 633.4,2533 634.0,2541 634.7,2539 635.3,2543 635.9,2542 636.5,2540 637.1,2547 637.8,2543 638.4,2546 639.0,2549 639.6,2544 640.2,2534 640.9,2537 641.5,2543 642.1,2552 642.7,2550 643.3,2542 644.0,2544 644.6,2544 645.2,2547 645.8,2553 646.4,2546 647.1,2559 647.7,2552 648.3,2542 648.9,2561 649.5,2561 650.2,2548 650.8,2547 651.4,2553 652.0,2549 652.6,2559 653.3,2539 653.9,2543 654.5,2551 655.1,2543 655.7,2549 656.4,2557 657.0,2548 657.6,2542 658.2,2549 658.8,2543 659.5,2561 660.1,2550 660.7,2558 661.3,2548 661.9,2548 662.6,2551 663.2,2546 663.8,2546 664.4,2544 665.0,2545 665.7,2539 666.3,2548 666.9,2545 667.5,2543 668.1,2551 668.8,2552 669.4,2548 670.0,2557 670.6,2556 671.2,2548 671.9,2557 672.5,2549 673.1,2549 673.7,2556 674.3,2549 675.0,2544 675.6,2548 676.2,2548 676.8,2550 677.4,2548 678.1,2536 678.7,2548 679.3,2553 679.9,2535 680.5,2549 681.2,2545 681.8,2543 682.4,2543 683.0,2550 683.6,2540 684.3,2552 684.9,2548 685.5,2549 686.1,2545 686.7,2543 687.4,2542 688.0,2533 688.6,2540 689.2,2552 689.8,2540 690.5,2531 691.1,2523 691.7,2509 692.3,2523 692.9,2510 693.6,2511 694.2,2503 694.8,2509 695.4,2524 696.0,2527 696.7,2538 697.3,2530 697.9,2543 698.5,2528 699.1,2543 699.8,2545 700.4,2545 701.0,2539 701.6,2540 702.2,2542 702.9,2543 703.5,2555 704.1,2553 704.7,2537 705.3,2552 706.0,2553 706.6,2560 707.2,2542 707.8,2544 708.4,2549 709.1,2551 709.7,2546 710.3,2548 710.9,2545 711.5,2552 712.2,2550 712.8,2541 713.4,2544 714.0,2549 714.6,2540 715.3,2550 715.9,2545 716.5,2539 717.1,2543 717.7,2541 718.4,2534 719.0,2544 719.6,2541 720.2,2535 720.8,2543 721.5,2538 722.1,2540 722.7,2549 723.3,2538 723.9,2540 724.6,2550 725.2,2546 725.8,2539 726.4,2539 727.0,2555 727.7,2549 728.3,2550 728.9,2543 729.5,2542 730.1,2544 730.8,2546 731.4,2552 732.0,2551 732.6,2556 733.2,2542 733.9,2540 734.5,2545 735.1,2546 735.7,2558 736.3,2542 737.0,2538 737.6,2541 738.2,2559 738.8,2549 739.4,2551 740.1,2551 740.7,2544 741.3,2551 741.9,2540 742.5,2531 743.2,2539 743.8,2546 744.4,2543 745.0,2542 745.6,2541 746.3,2546 746.9,2535 747.5,2531 748.1,2544 748.7,2546 749.4,2535 750.0,2539 750.6,2526 751.2,2542 751.8,2538 752.5,2542 753.1,2530 753.7,2525 754.3,2519 754.9,2516 755.6,2499 756.2,2502 756.8,2486 757.4,2468 758.0,2448 758.7,2431 759.3,2403 759.9,2397 760.5,2379 761.1,2356 761.8,2372 762.4,2381 763.0,2374 763.6,2399 764.2,2426 764.9,2444 765.5,2455 766.1,2485 766.7,2484 767.3,2494 768.0,2486 768.6,2496 769.2,2477 769.8,2478 770.4,2478 771.1,2459 771.7,2435 772.3,2436 772.9,2404 773.5,2409 774.2,2396 774.8,2394 775.4,2415 776.0,2415 776.6,2440 777.3,2440 777.9,2449 778.5,2454 779.1,2450 779.7,2465 780.4,2462 781.0,2450 781.6,2461 782.2,2458 782.8,2457 783.5,2466 784.1,2456 784.7,2468 785.3,2467 785.9,2479 786.6,2490 787.2,2493 787.8,2501 788.4,2508 789.0,2527 789.7,2509 790.3,2531 790.9,2527 791.5,2528 792.1,2532 792.8,2539 793.4,2534 794.0,2538 794.6,2535 795.2,2531 795.9,2540 796.5,2540 797.1,2542 797.7,2542 798.3,2556 799.0,2539 799.6,2543 800.2,2546 800.8,2548 801.4,2546 802.1,2536 802.7,2537 803.3,2543 803.9,2545 804.5,2532 805.2,2548 805.8,2541 806.4,2534 807.0,2536 807.6,2538 808.3,2542 808.9,2542 809.5,2551 810.1,2551 810.7,2540 811.4,2544 812.0,2549 812.6,2550 813.2,2538 813.8,2531 814.5,2536 815.1,2538 815.7,2549 816.3,2543 816.9,2551 817.6,2540 818.2,2539 818.8,2532 819.4,2539 820.0,2544 820.7,2522 821.3,2531 821.9,2528 822.5,2527 823.1,2518 823.8,2517 824.4,2507 825.0,2513 825.6,2492 826.2,2486 826.9,2491 827.5,2469 828.1,2464 828.7,2463 829.3,2451 830.0,2442 830.6,2442 831.2,2458 831.8,2447 832.4,2473 833.1,2483 833.7,2495 834.3,2500 834.9,2500 835.5,2496 836.2,2526 836.8,2519 837.4,2520 838.0,2516 838.6,2529 839.3,2534 839.9,2527 840.5,2530 841.1,2525 841.7,2532 842.4,2524 843.0,2527 843.6,2517 844.2,2524 844.8,2526 845.5,2514 846.1,2518 846.7,2504 847.3,2517 847.9,2533 848.6,2524 849.2,2546 849.8,2539 850.4,2532 851.0,2535 851.7,2540 852.3,2545 852.9,2537 853.5,2548 854.1,2551 854.8,2545 855.4,2550 856.0,2543 856.6,2554 857.2,2546 857.9,2553 858.5,2535 859.1,2548 859.7,2540 860.3,2544 861.0,2532 861.6,2552 862.2,2535 862.8,2548 863.4,2558 864.1,2544 864.7,2539 865.3,2544 865.9,2545 866.5,2536 867.2,2542 867.8,2540 868.4,2550 869.0,2542 869.6,2532 870.3,2545 870.9,2544 871.5,2534 872.1,2539 872.7,2530 873.4,2534 874.0,2526 874.6,2534 875.2,2540 875.8,2535 876.5,2534 877.1,2514 877.7,2514 878.3,2511 878.9,2507 879.6,2503 880.2,2485 880.8,2482 881.4,2485 882.0,2467 882.7,2475 883.3,2466 883.9,2478 884.5,2485 885.1,2505 885.8,2491 886.4,2501 887.0,2507 887.6,2507 888.2,2536 888.9,2524 889.5,2531 890.1,2534 890.7,2528 891.3,2543 892.0,2536 892.6,2538 893.2,2537 893.8,2537 894.4,2545 895.1,2544 895.7,2537 896.3,2538 896.9,2540 897.5,2550 898.2,2534 898.8,2541 899.4,2548 900.0,2537 900.6,2537 901.3,2541 901.9,2530 902.5,2531 903.1,2526 903.7,2532 904.4,2533 905.0,2525 905.6,2529 906.2,2524 906.8,2527 907.5,2518 908.1,2511 908.7,2510 909.3,2500 909.9,2485 910.6,2488 911.2,2470 911.8,2445 912.4,2459 913.0,2438 913.7,2446 914.3,2441 914.9,2451 915.5,2437 916.1,2447 916.8,2467 917.4,2463 918.0,2469 918.6,2468 919.2,2480 919.9,2486 920.5,2472 921.1,2477 921.7,2480 922.3,2462 923.0,2463 923.6,2465 924.2,2459 924.8,2462 925.4,2467 926.1,2466 926.7,2472 927.3,2477 927.9,2490 928.5,2491 929.2,2494 929.8,2495 930.4,2478 931.0,2487 931.6,2489 932.3,2445 932.9,2441 933.5,2420 934.1,2396 934.7,2357 935.4,2328 936.0,2315 936.6,2273 937.2,2240 937.8,2237 938.5,2221 939.1,2233 939.7,2265 940.3,2275 940.9,2305 941.6,2341 942.2,2376 942.8,2407 943.4,2417 944.0,2448 944.7,2461 945.3,2476 945.9,2487 946.5,2505 947.1,2502 947.8,2517 948.4,2513 949.0,2518 949.6,2519 950.2,2518 950.9,2518 951.5,2517 952.1,2502 952.7,2509 953.3,2497 954.0,2501 954.6,2500 955.2,2488 955.8,2466 956.4,2476 957.1,2447 957.7,2443 958.3,2437 958.9,2428 959.5,2445 960.2,2435 960.8,2462 961.4,2481 962.0,2488 962.6,2493 963.3,2500 963.9,2496 964.5,2521 965.1,2536 965.7,2532 966.4,2539 967.0,2528 967.6,2533 968.2,2541 968.8,2534 969.5,2535 970.1,2536 970.7,2537 971.3,2535 971.9,2543 972.6,2545 973.2,2536 973.8,2546 974.4,2540 975.0,2544 975.7,2546 976.3,2549 976.9,2546 977.5,2553 978.1,2547 978.8,2551 979.4,2542 980.0,2558 980.6,2541 981.2,2551 981.9,2537 982.5,2539 983.1,2547 983.7,2546 984.3,2550 985.0,2550 985.6,2544 986.2,2541 986.8,2555 987.4,2546 988.1,2547 988.7,2547 989.3,2541 989.9,2541 990.5,2543 991.2,2543 991.8,2547 992.4,2528 993.0,2538 993.6,2545 994.3,2540 994.9,2530 995.5,2538 996.1,2530 996.7,2533 997.4,2540 998.0,2531 998.6,2534 999.2,2526 999.8,2532 1000.5,2533 1001.1,2529 1001.7,2525 1002.3,2528 1002.9,2528 1003.6,2527 1004.2,2522 1004.8,2520 1005.4,2521 1006.0,2512 1006.7,2521 1007.3,2504 1007.9,2514 1008.5,2513 1009.1,2522 1009.8,2503 1010.4,2533 1011.0,2517 1011.6,2536 1012.2,2515 1012.9,2517 1013.5,2525 1014.1,2530 1014.7,2532 1015.3,2539 1016.0,2531 1016.6,2534 1017.2,2529 1017.8,2546 1018.4,2529 1019.1,2533 1019.7,2548 1020.3,2534 1020.9,2542 1021.5,2544 1022.2,2528 1022.8,2548 1023.4,2548 1024.0,2545 1024.6,2540 1025.3,2545 1025.9,2547 1026.5,2546 1027.1,2545 1027.7,2538 1028.4,2545 1029.0,2543 1029.6,2548 1030.2,2544 1030.8,2545 1031.5,2541 1032.1,2538 1032.7,2540 1033.3,2552 1033.9,2532 1034.6,2547 1035.2,2549 1035.8,2546 1036.4,2539 1037.0,2542 1037.7,2545 1038.3,2534 1038.9,2549 1039.5,2547 1040.1,2547 1040.8,2549 1041.4,2535 1042.0,2543 1042.6,2530 1043.2,2534 1043.9,2536 1044.5,2535 1045.1,2532 1045.7,2536 1046.3,2524 1047.0,2532 1047.6,2513 1048.2,2535 1048.8,2529 1049.4,2516 1050.1,2520 1050.7,2506 1051.3,2511 1051.9,2497 1052.5,2520 1053.2,2520 1053.8,2511 1054.4,2507 1055.0,2496 1055.6,2504 1056.3,2499 1056.9,2494 1057.5,2512 1058.1,2509 1058.7,2506 1059.4,2517 1060.0,2517 1060.6,2517 1061.2,2515 1061.8,2518 1062.5,2523 1063.1,2522 1063.7,2522 1064.3,2525 1064.9,2531 1065.6,2534 1066.2,2527 1066.8,2529 1067.4,2534 1068.0,2533 1068.7,2535 1069.3,2546 1069.9,2533 1070.5,2541 1071.1,2539 1071.8,2530 1072.4,2544 1073.0,2538 1073.6,2549 1074.2,2556 1074.9,2541 1075.5,2545 1076.1,2543 1076.7,2542 1077.3,2538 1078.0,2556 1078.6,2543 1079.2,2545 1079.8,2542 1080.4,2544 1081.1,2549 1081.7,2549 1082.3,2543 1082.9,2537 1083.5,2548 1084.2,2542 1084.8,2558 1085.4,2548 1086.0,2549 1086.6,2549 1087.3,2543 1087.9,2550 1088.5,2549 1089.1,2543 1089.7,2546 1090.4,2553 1091.0,2541 1091.6,2556 1092.2,2534 1092.8,2550 1093.5,2547 1094.1,2549 1094.7,2552 1095.3,2543 1095.9,2537 1096.6,2545 1097.2,2541 1097.8,2542 1098.4,2545 1099.0,2543 1099.7,2552 1100.3,2548 1100.9,2544 1101.5,2549 1102.1,2535 1102.8,2548 1103.4,2553 1104.0,2541 1104.6,2549 1105.2,2547 1105.9,2554 1106.5,2549 1107.1,2551 1107.7,2545 1108.3,2546 1109.0,2548 1109.6,2553 1110.2,2552 1110.8,2547 1111.4,2555 1112.1,2552 1112.7,2554 1113.3,2561 1113.9,2553 1114.5,2542 1115.2,2549 1115.8,2548 1116.4,2539 1117.0,2553 1117.6,2553 1118.3,2557 1118.9,2554 1119.5,2557 1120.1,2535 1120.7,2550 1121.4,2547 1122.0,2553 1122.6,2553 1123.2,2545 1123.8,2561 1124.5,2542 1125.1,2546 1125.7,2548 1126.3,2544 1126.9,2549 1127.6,2539 1128.2,2540 1128.8,2558 1129.4,2537 1130.0,2549 1130.7,2553 1131.3,2547 1131.9,2542 1132.5,2560 1133.1,2548 1133.8,2551 1134.4,2550 1135.0,2549 1135.6,2552 1136.2,2550 1136.9,2540 1137.5,2551 1138.1,2546 1138.7,2543 1139.3,2550 1140.0,2538 1140.6,2541 1141.2,2532 1141.8,2531 1142.4,2536 1143.1,2506 1143.7,2508 1144.3,2510 1144.9,2520 1145.5,2531 1146.2,2537 1146.8,2531 1147.4,2537 1148.0,2538 1148.6,2551 1149.3,2549 1149.9,2547 1150.5,2549 1151.1,2556 1151.7,2541 1152.4,2543 1153.0,2543 1153.6,2541 1154.2,2545 1154.8,2546 1155.5,2550 1156.1,2551 1156.7,2552 1157.3,2548 1157.9,2548 1158.6,2539 1159.2,2548 1159.8,2543 1160.4,2544 1161.0,2540 1161.7,2546 1162.3,2539 1162.9,2546 1163.5,2532 1164.1,2541 1164.8,2544 1165.4,2530 1166.0,2548 1166.6,2541 1167.2,2532 1167.9,2540 1168.5,2538 1169.1,2512 1169.7,2525 1170.3,2499 1171.0,2490 1171.6,2464 1172.2,2436 1172.8,2409 1173.4,2388 1174.1,2360 1174.7,2358 1175.3,2384 1175.9,2412 1176.5,2449 1177.2,2460 1177.8,2484 1178.4,2512 1179.0,2516 1179.6,2526 1180.3,2533 1180.9,2537 1181.5,2547 1182.1,2547 1182.7,2535 1183.4,2534 1184.0,2543 1184.6,2541 1185.2,2540 1185.8,2545 1186.5,2538 1187.1,2548 1187.7,2540 1188.3,2543 1188.9,2549 1189.6,2539 1190.2,2536 1190.8,2549 1191.4,2556 1192.0,2551 1192.7,2546 1193.3,2548 1193.9,2542 1194.5,2552 1195.1,2545 1195.8,2551 1196.4,2536 1197.0,2534 1197.6,2545 1198.2,2540 1198.9,2553 1199.5,2541 1200.1,2544 1200.7,2548 1201.3,2550 1202.0,2543 1202.6,2551 1203.2,2541 1203.8,2547 1204.4,2554 1205.1,2541 1205.7,2540 1206.3,2534 1206.9,2529 1207.5,2539 1208.2,2542 1208.8,2535 1209.4,2514 1210.0,2520 1210.6,2527 1211.3,2533 1211.9,2526 1212.5,2531 1213.1,2526 1213.7,2543 1214.4,2536 1215.0,2542 1215.6,2546 1216.2,2528 1216.8,2527 1217.5,2535 1218.1,2518 1218.7,2522 1219.3,2518 1219.9,2502 1220.6,2502 1221.2,2501 1221.8,2496 1222.4,2505 1223.0,2497 1223.7,2522 1224.3,2522 1224.9,2541 1225.5,2523 1226.1,2542 1226.8,2539 1227.4,2545 1228.0,2547 1228.6,2535 1229.2,2554 1229.9,2534 1230.5,2547 1231.1,2542 1231.7,2545 1232.3,2540 1233.0,2551 1233.6,2554 1234.2,2540 1234.8,2548 1235.4,2536 1236.1,2544 1236.7,2554 1237.3,2540 1237.9,2545 1238.5,2554 1239.2,2542 1239.8,2549 1240.4,2540 1241.0,2557 1241.6,2551 1242.3,2547 1242.9,2554 1243.5,2548 1244.1,2543 1244.7,2548 1245.4,2546 1246.0,2540 1246.6,2556 1247.2,2545 1247.8,2542 1248.5,2544 1249.1,2547 1249.7,2548 1250.3,2546 1250.9,2549 1251.6,2545 1252.2,2555 1252.8,2543 1253.4,2552 1254.0,2539 1254.7,2553 1255.3,2551 1255.9,2545 1256.5,2543 1257.1,2545 1257.8,2558 1258.4,2552 1259.0,2535 1259.6,2555 1260.2,2555 1260.9,2543 1261.5,2544 1262.1,2545 1262.7,2548 1263.3,2553 1264.0,2537 1264.6,2551 1265.2,2545 1265.8,2553 1266.4,2554 1267.1,2542 1267.7,2547 1268.3,2547 1268.9,2542 1269.5,2553 1270.2,2549 1270.8,2551 1271.4,2553 1272.0,2546 1272.6,2540 1273.3,2549 1273.9,2544 1274.5,2545 1275.1,2557 1275.7,2547 1276.4,2558 1277.0,2552 1277.6,2539 1278.2,2556 1278.8,2549 1279.5,2548 1280.1,2544 1280.7,2546 1281.3,2548 1281.9,2556 1282.6,2557 1283.2,2548 1283.8,2551 1284.4,2552 1285.0,2554 1285.7,2558 1286.3,2551 1286.9,2546 1287.5,2547 1288.1,2545 1288.8,2547 1289.4,2544 1290.0,2548 1290.6,2551 1291.2,2550 1291.9,2554 1292.5,2541 1293.1,2549 1293.7,2548 1294.3,2551 1295.0,2553 1295.6,2547 1296.2,2544 1296.8,2545 1297.4,2547 1298.1,2556 1298.7,2542 1299.3,2549 1299.9,2556 1300.5,2550 1301.2,2550 1301.8,2548 1302.4,2561 1303.0,2554 1303.6,2543 1304.3,2542 1304.9,2543 1305.5,2556 1306.1,2551 1306.7,2552 1307.4,2560 1308.0,2549 1308.6,2544 1309.2,2545 1309.8,2549 1310.5,2561 1311.1,2541 1311.7,2536 1312.3,2550 1312.9,2551 1313.6,2551 1314.2,2549 1314.8,2558 1315.4,2548 1316.0,2549 1316.7,2543 1317.3,2543 1317.9,2548 1318.5,2545 1319.1,2546 1319.8,2539 1320.4,2556 1321.0,2549 1321.6,2543 1322.2,2542 1322.9,2553 1323.5,2542 1324.1,2550 1324.7,2536 1325.3,2550 1326.0,2551 1326.6,2553 1327.2,2550 1327.8,2548 1328.4,2545 1329.1,2543 1329.7,2544 1330.3,2554 1330.9,2541 1331.5,2553 1332.2,2551 1332.8,2552 1333.4,2548 1334.0,2546 1334.6,2550 1335.3,2552 1335.9,2553 1336.5,2547 1337.1,2541 1337.7,2551 1338.4,2555 1339.0,2547 1339.6,2552 1340.2,2547 1340.8,2550 1341.5,2555 1342.1,2545 1342.7,2546 1343.3,2548 1343.9,2548 1344.6,2555 1345.2,2539 1345.8,2540 1346.4,2546 1347.0,2549 1347.7,2552 1348.3,2548 1348.9,2554 1349.5,2547 1350.1,2542 1350.8,2554 1351.4,2552 1352.0,2554 1352.6,2547 1353.2,2535 1353.9,2550 1354.5,2549 1355.1,2548 1355.7,2551 1356.3,2552 1357.0,2557 1357.6,2540 1358.2,2545 1358.8,2546 1359.4,2556 1360.1,2545 1360.7,2547 1361.3,2537 1361.9,2547 1362.5,2547 1363.2,2548 1363.8,2556 1364.4,2540 1365.0,2544 1365.6,2545 1366.3,2547 1366.9,2549 1367.5,2546 1368.1,2544 1368.7,2539 1369.4,2546 1370.0,2542 1370.6,2548 1371.2,2552 1371.8,2547 1372.5,2538 1373.1,2551 1373.7,2544 1374.3,2541 1374.9,2551 1375.6,2542 1376.2,2531 1376.8,2525 1377.4,2550 1378.0,2536 1378.7,2531 1379.3,2536 1379.9,2523 1380.5,2496 1381.1,2508 1381.8,2490 1382.4,2476 1383.0,2468 1383.6,2473 1384.2,2476 1384.9,2480 1385.5,2460 1386.1,2479 1386.7,2476 1387.3,2480 1388.0,2480 1388.6,2509 1389.2,2514 1389.8,2526 1390.4,2525 1391.1,2534 1391.7,2530 1392.3,2529 1392.9,2532 1393.5,2542 1394.2,2529 1394.8,2547 1395.4,2547 1396.0,2550 1396.6,2556 1397.3,2534 1397.9,2548 1398.5,2545 1399.1,2547 1399.7,2538 1400.4,2543 1401.0,2547 1401.6,2529 1402.2,2554 1402.8,2548 1403.5,2540 1404.1,2541 1404.7,2543 1405.3,2542 1405.9,2544 1406.6,2547 1407.2,2551 1407.8,2542 1408.4,2538 1409.0,2539 1409.7,2544 1410.3,2540 1410.9,2546 1411.5,2549 1412.1,2539 1412.8,2540 1413.4,2547 1414.0,2545 1414.6,2544 1415.2,2555 1415.9,2544 1416.5,2543 1417.1,2545 1417.7,2544 1418.3,2552 1419.0,2548 1419.6,2536 1420.2,2542 1420.8,2548 1421.4,2548 1422.1,2556 1422.7,2542 1423.3,2541 1423.9,2533 1424.5,2539 1425.2,2540 1425.8,2554 1426.4,2541 1427.0,2534 1427.6,2532 1428.3,2538 1428.9,2528 1429.5,2540 1430.1,2532 1430.7,2533 1431.4,2530 1432.0,2529 1432.6,2521 1433.2,2519 1433.8,2519 1434.5,2509 1435.1,2515 1435.7,2503 1436.3,2496 1436.9,2499 1437.6,2495 1438.2,2472 1438.8,2474 1439.4,2469 1440.0,2462 1440.7,2462 1441.3,2451 1441.9,2473 1442.5,2454 1443.1,2467 1443.8,2448 1444.4,2462 1445.0,2470 1445.6,2461 1446.2,2482 1446.9,2479 1447.5,2492 1448.1,2505 1448.7,2509 1449.3,2498 1450.0,2504 1450.6,2523 1451.2,2513 1451.8,2517 1452.4,2507 1453.1,2519 1453.7,2527 1454.3,2530 1454.9,2545 1455.5,2529 1456.2,2541 1456.8,2533 1457.4,2533 1458.0,2539 1458.6,2535 1459.3,2546 1459.9,2544 1460.5,2543 1461.1,2548 1461.7,2535 1462.4,2542 1463.0,2556 1463.6,2541 1464.2,2542 1464.8,2541 1465.5,2542 1466.1,2540 1466.7,2542 1467.3,2541 1467.9,2554 1468.6,2541 1469.2,2543 1469.8,2542 1470.4,2557 1471.0,2545 1471.7,2533 1472.3,2530 1472.9,2545 1473.5,2543 1474.1,2544 1474.8,2539 1475.4,2552 1476.0,2534 1476.6,2533 1477.2,2542 1477.9,2539 1478.5,2537 1479.1,2543 1479.7,2542 1480.3,2549 1481.0,2542 1481.6,2544 1482.2,2531 1482.8,2538 1483.4,2532 1484.1,2543 1484.7,2547 1485.3,2523 1485.9,2536 1486.5,2539 1487.2,2534 1487.8,2531 1488.4,2537 1489.0,2530 1489.6,2531 1490.3,2534 1490.9,2531 1491.5,2534 1492.1,2523 1492.7,2522 1493.4,2534 1494.0,2527 1494.6,2535 1495.2,2517 1495.8,2520 1496.5,2532 1497.1,2530 1497.7,2524 1498.3,2522 1498.9,2528 1499.6,2527 1500.2,2527 1500.8,2526 1501.4,2532 1502.0,2527 1502.7,2532 1503.3,2530 1503.9,2527 1504.5,2523 1505.1,2529 1505.8,2532 1506.4,2532 1507.0,2536 1507.6,2537 1508.2,2540 1508.9,2523 1509.5,2531 1510.1,2534 1510.7,2531 1511.3,2525 1512.0,2535 1512.6,2541 1513.2,2537 1513.8,2539 1514.4,2533 1515.1,2536 1515.7,2528 1516.3,2544 1516.9,2537 1517.5,2538 1518.2,2545 1518.8,2540 1519.4,2536 1520.0,2542 1520.6,2544 1521.3,2546 1521.9,2542 1522.5,2548 1523.1,2545 1523.7,2542 1524.4,2548 1525.0,2540 1525.6,2545 1526.2,2551 1526.8,2542 1527.5,2546 1528.1,2549 1528.7,2549 1529.3,2547 1529.9,2537 1530.6,2550 1531.2,2546 1531.8,2554 1532.4,2551 1533.0,2549 1533.7,2551 1534.3,2547 1534.9,2556 1535.5,2552 1536.1,2545 1536.8,2534 1537.4,2547 1538.0,2560 1538.6,2545 1539.2,2542 1539.9,2550 1540.5,2535 1541.1,2543 1541.7,2546 1542.3,2552 1543.0,2550 1543.6,2541 1544.2,2550 1544.8,2550 1545.4,2545 1546.1,2549 1546.7,2536 1547.3,2546 1547.9,2547 1548.5,2545 1549.2,2549 1549.8,2541 1550.4,2551 1551.0,2546 1551.6,2543 1552.3,2545 1552.9,2548 1553.5,2546 1554.1,2544 1554.7,2542 1555.4,2541 1556.0,2546 1556.6,2554 1557.2,2541 1557.8,2545 1558.5,2546 1559.1,2553 1559.7,2545 1560.3,2550 1560.9,2543 1561.6,2539 1562.2,2541 1562.8,2533 1563.4,2553 1564.0,2545 1564.7,2535 1565.3,2540 1565.9,2536 1566.5,2531 1567.1,2524 1567.8,2520 1568.4,2520 1569.0,2515 1569.6,2512 1570.2,2513 1570.9,2497 1571.5,2509 1572.1,2506 1572.7,2504 1573.3,2505 1574.0,2524 1574.6,2526 1575.2,2520 1575.8,2529 1576.4,2518 1577.1,2528 1577.7,2523 1578.3,2525 1578.9,2522 1579.5,2518 1580.2,2523 1580.8,2529 1581.4,2518 1582.0,2522 1582.6,2521 1583.3,2507 1583.9,2522 1584.5,2523 1585.1,2532 1585.7,2518 1586.4,2517 1587.0,2532 1587.6,2527 1588.2,2524 1588.8,2538 1589.5,2541 1590.1,2546 1590.7,2543 1591.3,2543 1591.9,2546 1592.6,2548 1593.2,2546 1593.8,2550 1594.4,2543 1595.0,2549 1595.7,2535 1596.3,2543 1596.9,2535 1597.5,2546 1598.1,2526 1598.8,2548 1599.4,2529 1600.0,2536 1600.6,2526 1601.2,2512 1601.9,2523 1602.5,2499 1603.1,2496 1603.7,2492 1604.3,2480 1605.0,2488 1605.6,2495 1606.2,2502 1606.8,2504 1607.4,2498 1608.1,2523 1608.7,2514 1609.3,2523 1609.9,2532 1610.5,2529 1611.2,2532 1611.8,2544 1612.4,2538 1613.0,2544 1613.6,2543 1614.3,2542 1614.9,2533 1615.5,2536 1616.1,2554 1616.7,2553 1617.4,2538 1618.0,2544 1618.6,2544 1619.2,2539 1619.8,2553 1620.5,2535 1621.1,2541 1621.7,2543 1622.3,2549 1622.9,2539 1623.6,2540 1624.2,2535 1624.8,2539 1625.4,2538 1626.0,2512 1626.7,2526 1627.3,2505 1627.9,2513 1628.5,2507 1629.1,2523 1629.8,2507 1630.4,2511 1631.0,2505 1631.6,2504 1632.2,2517 1632.9,2514 1633.5,2518 1634.1,2524 1634.7,2530 1635.3,2525 1636.0,2536 1636.6,2534 1637.2,2543 1637.8,2536 1638.4,2538 1639.1,2542 1639.7,2551 1640.3,2547 1640.9,2540 1641.5,2547 1642.2,2551 1642.8,2545 1643.4,2558 1644.0,2543 1644.6,2549 1645.3,2552 1645.9,2553 1646.5,2533 1647.1,2545 1647.7,2555 1648.4,2541 1649.0,2545 1649.6,2542 1650.2,2540 1650.8,2547 1651.5,2540 1652.1,2545 1652.7,2550 1653.3,2551 1653.9,2548 1654.6,2545 1655.2,2548 1655.8,2547 1656.4,2556 1657.0,2544 1657.7,2550 1658.3,2541 1658.9,2540 1659.5,2545 1660.1,2546 1660.8,2551 1661.4,2546 1662.0,2550 1662.6,2552 1663.2,2551 1663.9,2544 1664.5,2547 1665.1,2558 1665.7,2545 1666.3,2539 1667.0,2544 1667.6,2549 1668.2,2553 1668.8,2546 1669.4,2547 1670.1,2555 1670.7,2538 1671.3,2546 1671.9,2537 1672.5,2545 1673.2,2544 1673.8,2545 1674.4,2543 1675.0,2541 1675.6,2541 1676.3,2540 1676.9,2542 1677.5,2536 1678.1,2555 1678.7,2550 1679.4,2540 1680.0,2545 1680.6,2553 1681.2,2533 1681.8,2541 1682.5,2539 1683.1,2537 1683.7,2540 1684.3,2539 1684.9,2542 1685.6,2530 1686.2,2532 1686.8,2532 1687.4,2520 1688.0,2535 1688.7,2518 1689.3,2529 1689.9,2534 1690.5,2529 1691.1,2521 1691.8,2534 1692.4,2527 1693.0,2535 1693.6,2526 1694.2,2513 1694.9,2531 1695.5,2530 1696.1,2525 1696.7,2526 1697.3,2525 1698.0,2526 1698.6,2518 1699.2,2521 1699.8,2527 1700.4,2523 1701.1,2525 1701.7,2516 1702.3,2530 1702.9,2525 1703.5,2521 1704.2,2528 1704.8,2523 1705.4,2523 1706.0,2526 1706.6,2517 1707.3,2531 1707.9,2539 1708.5,2525 1709.1,2532 1709.7,2524 1710.4,2525 1711.0,2539 1711.6,2527 1712.2,2531 1712.8,2526 1713.5,2517 1714.1,2531 1714.7,2531 1715.3,2521 1715.9,2532 1716.6,2530 1717.2,2524 1717.8,2526 1718.4,2521 1719.0,2535 1719.7,2527 1720.3,2525 1720.9,2530 1721.5,2506 1722.1,2517 1722.8,2509 1723.4,2524 1724.0,2513 1724.6,2518 1725.2,2518 1725.9,2511 1726.5,2510 1727.1,2497 1727.7,2513 1728.3,2496 1729.0,2507 1729.6,2494 1730.2,2492 1730.8,2499 1731.4,2512 1732.1,2494 1732.7,2502 1733.3,2506 1733.9,2505 1734.5,2509 1735.2,2510 1735.8,2512 1736.4,2529 1737.0,2508 1737.6,2517 1738.3,2523 1738.9,2521 1739.5,2526 1740.1,2522 1740.7,2522 1741.4,2521 1742.0,2537 1742.6,2532 1743.2,2537 1743.8,2543 1744.5,2534 1745.1,2529 1745.7,2548 1746.3,2537 1746.9,2541 1747.6,2534 1748.2,2537 1748.8,2545 1749.4,2540 1750.0,2540 1750.7,2546 1751.3,2544 1751.9,2543 1752.5,2538 1753.1,2535 1753.8,2543 1754.4,2538 1755.0,2550 1755.6,2546 1756.2,2538 1756.9,2541 1757.5,2540 1758.1,2533 1758.7,2537 1759.3,2537 1760.0,2553 1760.6,2546 1761.2,2543 1761.8,2540 1762.4,2540 1763.1,2541 1763.7,2552 1764.3,2540 1764.9,2541 1765.5,2542 1766.2,2530 1766.8,2535 1767.4,2541 1768.0,2531 1768.6,2529 1769.3,2521 1769.9,2532 1770.5,2511 1771.1,2503 1771.7,2519 1772.4,2499 1773.0,2485 1773.6,2478 1774.2,2473 1774.8,2475 1775.5,2465 1776.1,2480 1776.7,2449 1777.3,2471 1777.9,2469 1778.6,2489 1779.2,2507 1779.8,2492 1780.4,2503 1781.0,2515 1781.7,2515 1782.3,2511 1782.9,2521 1783.5,2544 1784.1,2530 1784.8,2544 1785.4,2541 1786.0,2529 1786.6,2539 1787.2,2549 1787.9,2534 1788.5,2535 1789.1,2545 1789.7,2548 1790.3,2545 1791.0,2544 1791.6,2549 1792.2,2550 1792.8,2556 1793.4,2545 1794.1,2541 1794.7,2548 1795.3,2537 1795.9,2547 1796.5,2544 1797.2,2553 1797.8,2550 1798.4,2548 1799.0,2550 1799.6,2540 1800.3,2539 1800.9,2547 1801.5,2546 1802.1,2547 1802.7,2559 1803.4,2540 1804.0,2547 1804.6,2549 1805.2,2544 1805.8,2547 1806.5,2540 1807.1,2545 1807.7,2544 1808.3,2545 1808.9,2549 1809.6,2541 1810.2,2549 1810.8,2552 1811.4,2546 1812.0,2550 1812.7,2539 1813.3,2546 1813.9,2553 1814.5,2545 1815.1,2543 1815.8,2541 1816.4,2552 1817.0,2544 1817.6,2551 1818.2,2548 1818.9,2541 1819.5,2553 1820.1,2549 1820.7,2552 1821.3,2549 1822.0,2546 1822.6,2554 1823.2,2551 1823.8,2549 1824.4,2543 1825.1,2556 1825.7,2546 1826.3,2550 1826.9,2535 1827.5,2551 1828.2,2545 1828.8,2548 1829.4,2555 1830.0,2540 1830.6,2554 1831.3,2552 1831.9,2557 1832.5,2558 1833.1,2548 1833.7,2560 1834.4,2552 1835.0,2541 1835.6,2555 1836.2,2549 1836.8,2541 1837.5,2550 1838.1,2550 1838.7,2547 1839.3,2549 1839.9,2547 1840.6,2558 1841.2,2548 1841.8,2545 1842.4,2543 1843.0,2536 1843.7,2549 1844.3,2538 1844.9,2534 1845.5,2541 1846.1,2555 1846.8,2541 1847.4,2534 1848.0,2547 1848.6,2529 1849.2,2536 1849.9,2525 1850.5,2529 1851.1,2526 1851.7,2533 1852.3,2517 1853.0,2523 1853.6,2534 1854.2,2519 1854.8,2526 1855.4,2524 1856.1,2530 1856.7,2540 1857.3,2536 1857.9,2542 1858.5,2528 1859.2,2541 1859.8,2545 1860.4,2546 1861.0,2549 1861.6,2539 1862.3,2537 1862.9,2550 1863.5,2543 1864.1,2543 1864.7,2545 1865.4,2540 1866.0,2555 1866.6,2542 1867.2,2550 1867.8,2537 1868.5,2547 1869.1,2543 1869.7,2543 1870.3,2539 1870.9,2540 1871.6,2540 1872.2,2546 1872.8,2545 1873.4,2544 1874.0,2548 1874.7,2548 1875.3,2536 1875.9,2537 1876.5,2544 1877.1,2544 1877.8,2533 1878.4,2528 1879.0,2551 1879.6,2546 1880.2,2541 1880.9,2536 1881.5,2540 1882.1,2541 1882.7,2532 1883.3,2534 1884.0,2528 1884.6,2528 1885.2,2520 1885.8,2539 1886.4,2515 1887.1,2529 1887.7,2524 1888.3,2522 1888.9,2530 1889.5,2524 1890.2,2532 1890.8,2528 1891.4,2529 1892.0,2523 1892.6,2514 1893.3,2533 1893.9,2525 1894.5,2516 1895.1,2522 1895.7,2530 1896.4,2530 1897.0,2524 1897.6,2527 1898.2,2534 1898.8,2536 1899.5,2537 1900.1,2530 1900.7,2526 1901.3,2531 1901.9,2528 1902.6,2540 1903.2,2544 1903.8,2538 1904.4,2530 1905.0,2540 1905.7,2535 1906.3,2539 1906.9,2534 1907.5,2542 1908.1,2540 1908.8,2545 1909.4,2542 1910.0,2541 1910.6,2543 1911.2,2546 1911.9,2539 1912.5,2540 1913.1,2540 1913.7,2558 1914.3,2541 1915.0,2550 1915.6,2550 1916.2,2542 1916.8,2547 1917.4,2549 1918.1,2539 1918.7,2549 1919.3,2555 1919.9,2550 1920.5,2546 1921.2,2547 1921.8,2533 1922.4,2549 1923.0,2546 1923.6,2544 1924.3,2550 1924.9,2541 1925.5,2544 1926.1,2544 1926.7,2551 1927.4,2544 1928.0,2554 1928.6,2546 1929.2,2544 1929.8,2545 1930.5,2554 1931.1,2549 1931.7,2542 1932.3,2544 1932.9,2558 1933.6,2545 1934.2,2551 1934.8,2542 1935.4,2538 1936.0,2554 1936.7,2543 1937.3,2557 1937.9,2551 1938.5,2555 1939.1,2547 1939.8,2551 1940.4,2552 1941.0,2557 1941.6,2544 1942.2,2547 1942.9,2551 1943.5,2547 1944.1,2543 1944.7,2543 1945.3,2553 1946.0,2547 1946.6,2543 1947.2,2555 1947.8,2543 1948.4,2552 1949.1,2551 1949.7,2544 1950.3,2541 1950.9,2544 1951.5,2554 1952.2,2558 1952.8,2544 1953.4,2537 1954.0,2540 1954.6,2545 1955.3,2550 1955.9,2546 1956.5,2549 1957.1,2553 1957.7,2541 1958.4,2553 1959.0,2557 1959.6,2545 1960.2,2553 1960.8,2551 1961.5,2546 1962.1,2544 1962.7,2550 1963.3,2547 1963.9,2534 1964.6,2529 1965.2,2527 1965.8,2532 1966.4,2533 1967.0,2535 1967.7,2538 1968.3,2539 1968.9,2552 1969.5,2550 1970.1,2551 1970.8,2534 1971.4,2549 1972.0,2539 1972.6,2549 1973.2,2553 1973.9,2544 1974.5,2543 1975.1,2555 1975.7,2550 1976.3,2552 1977.0,2544 1977.6,2547 1978.2,2548 1978.8,2554 1979.4,2550 1980.1,2549 1980.7,2541 1981.3,2555 1981.9,2551 1982.5,2547 1983.2,2550 1983.8,2547 1984.4,2547 1985.0,2541 1985.6,2547 1986.3,2543 1986.9,2550 1987.5,2555" fill="none" stroke="#ff0000" stroke-width="3.3" stroke-linejoin="round"/>
<polyline points="152.3,2781 152.9,2776 153.5,2774 154.2,2759 154.8,2765 155.4,2754 156.0,2763 156.6,2772 157.3,2759 157.9,2766 158.5,2769 159.1,2778 159.7,2772 160.4,2769 161.0,2771 161.6,2778 162.2,2769 162.8,2765 163.5,2765 164.1,2771 164.7,2769 165.3,2776 165.9,2774 166.6,2775 167.2,2766 167.8,2766 168.4,2768 169.0,2779 169.7,2768 170.3,2770 170.9,2761 171.5,2768 172.1,2769 172.8,2776 173.4,2765 174.0,2782 174.6,2764 175.2,2773 175.9,2767 176.5,2767 177.1,2764 177.7,2775 178.3,2765 179.0,2765 179.6,2759 180.2,2766 180.8,2767 181.4,2767 182.1,2764 182.7,2765 183.3,2765 183.9,2770 184.5,2770 185.2,2775 185.8,2770 186.4,2761 187.0,2763 187.6,2771 188.3,2762 188.9,2771 189.5,2778 190.1,2771 190.7,2768 191.4,2758 192.0,2766 192.6,2780 193.2,2776 193.8,2768 194.5,2766 195.1,2761 195.7,2767 196.3,2767 196.9,2767 197.6,2763 198.2,2764 198.8,2764 199.4,2763 200.0,2762 200.7,2782 201.3,2770 201.9,2767 202.5,2766 203.1,2780 203.8,2774 204.4,2779 205.0,2775 205.6,2776 206.2,2772 206.9,2770 207.5,2762 208.1,2770 208.7,2769 209.3,2771 210.0,2768 210.6,2765 211.2,2778 211.8,2761 212.4,2761 213.1,2763 213.7,2776 214.3,2778 214.9,2766 215.5,2770 216.2,2767 216.8,2773 217.4,2761 218.0,2777 218.6,2767 219.3,2771 219.9,2764 220.5,2765 221.1,2774 221.7,2766 222.4,2766 223.0,2775 223.6,2755 224.2,2767 224.8,2766 225.5,2768 226.1,2766 226.7,2770 227.3,2774 227.9,2769 228.6,2768 229.2,2772 229.8,2767 230.4,2782 231.0,2766 231.7,2762 232.3,2762 232.9,2771 233.5,2763 234.1,2774 234.8,2769 235.4,2767 236.0,2757 236.6,2763 237.2,2763 237.9,2771 238.5,2764 239.1,2767 239.7,2771 240.3,2767 241.0,2770 241.6,2765 242.2,2755 242.8,2765 243.4,2777 244.1,2763 244.7,2773 245.3,2768 245.9,2753 246.5,2771 247.2,2760 247.8,2776 248.4,2760 249.0,2763 249.6,2770 250.3,2766 250.9,2764 251.5,2778 252.1,2769 252.7,2758 253.4,2761 254.0,2772 254.6,2770 255.2,2766 255.8,2752 256.5,2752 257.1,2756 257.7,2754 258.3,2760 258.9,2752 259.6,2744 260.2,2725 260.8,2742 261.4,2730 262.0,2708 262.7,2719 263.3,2729 263.9,2741 264.5,2757 265.1,2755 265.8,2765 266.4,2760 267.0,2756 267.6,2771 268.2,2757 268.9,2759 269.5,2765 270.1,2771 270.7,2767 271.3,2766 272.0,2774 272.6,2763 273.2,2763 273.8,2770 274.4,2774 275.1,2772 275.7,2779 276.3,2775 276.9,2769 277.5,2760 278.2,2761 278.8,2772 279.4,2753 280.0,2764 280.6,2768 281.3,2772 281.9,2771 282.5,2771 283.1,2753 283.7,2768 284.4,2758 285.0,2776 285.6,2767 286.2,2769 286.8,2765 287.5,2765 288.1,2769 288.7,2770 289.3,2761 289.9,2758 290.6,2770 291.2,2763 291.8,2766 292.4,2773 293.0,2757 293.7,2765 294.3,2762 294.9,2775 295.5,2769 296.1,2769 296.8,2774 297.4,2761 298.0,2774 298.6,2763 299.2,2771 299.9,2754 300.5,2763 301.1,2771 301.7,2773 302.3,2764 303.0,2766 303.6,2766 304.2,2768 304.8,2774 305.4,2756 306.1,2760 306.7,2772 307.3,2754 307.9,2771 308.5,2775 309.2,2760 309.8,2766 310.4,2768 311.0,2762 311.6,2777 312.3,2764 312.9,2773 313.5,2777 314.1,2775 314.7,2770 315.4,2756 316.0,2765 316.6,2764 317.2,2775 317.8,2760 318.5,2767 319.1,2755 319.7,2772 320.3,2760 320.9,2763 321.6,2761 322.2,2767 322.8,2768 323.4,2765 324.0,2758 324.7,2767 325.3,2771 325.9,2771 326.5,2762 327.1,2762 327.8,2775 328.4,2767 329.0,2774 329.6,2763 330.2,2755 330.9,2762 331.5,2767 332.1,2764 332.7,2764 333.3,2780 334.0,2759 334.6,2775 335.2,2766 335.8,2759 336.4,2762 337.1,2770 337.7,2766 338.3,2765 338.9,2756 339.5,2767 340.2,2771 340.8,2763 341.4,2769 342.0,2767 342.6,2772 343.3,2767 343.9,2765 344.5,2774 345.1,2766 345.7,2767 346.4,2762 347.0,2763 347.6,2780 348.2,2759 348.8,2763 349.5,2757 350.1,2756 350.7,2762 351.3,2762 351.9,2759 352.6,2755 353.2,2763 353.8,2768 354.4,2771 355.0,2754 355.7,2758 356.3,2751 356.9,2759 357.5,2747 358.1,2761 358.8,2742 359.4,2744 360.0,2733 360.6,2746 361.2,2730 361.9,2721 362.5,2737 363.1,2729 363.7,2738 364.3,2739 365.0,2737 365.6,2722 366.2,2730 366.8,2709 367.4,2714 368.1,2699 368.7,2697 369.3,2700 369.9,2705 370.5,2730 371.2,2720 371.8,2736 372.4,2739 373.0,2740 373.6,2755 374.3,2756 374.9,2759 375.5,2745 376.1,2762 376.7,2772 377.4,2760 378.0,2754 378.6,2764 379.2,2768 379.8,2771 380.5,2767 381.1,2766 381.7,2762 382.3,2766 382.9,2763 383.6,2773 384.2,2766 384.8,2771 385.4,2756 386.0,2767 386.7,2771 387.3,2767 387.9,2775 388.5,2761 389.1,2762 389.8,2768 390.4,2771 391.0,2760 391.6,2767 392.2,2771 392.9,2763 393.5,2771 394.1,2763 394.7,2766 395.3,2773 396.0,2766 396.6,2778 397.2,2775 397.8,2762 398.4,2769 399.1,2757 399.7,2765 400.3,2762 400.9,2761 401.5,2750 402.2,2760 402.8,2750 403.4,2744 404.0,2734 404.6,2748 405.3,2744 405.9,2754 406.5,2743 407.1,2753 407.7,2761 408.4,2756 409.0,2763 409.6,2758 410.2,2769 410.8,2777 411.5,2757 412.1,2761 412.7,2767 413.3,2753 413.9,2759 414.6,2766 415.2,2770 415.8,2758 416.4,2742 417.0,2755 417.7,2748 418.3,2728 418.9,2738 419.5,2729 420.1,2741 420.8,2721 421.4,2735 422.0,2741 422.6,2766 423.2,2753 423.9,2756 424.5,2756 425.1,2769 425.7,2761 426.3,2770 427.0,2755 427.6,2758 428.2,2759 428.8,2766 429.4,2775 430.1,2761 430.7,2762 431.3,2774 431.9,2764 432.5,2781 433.2,2768 433.8,2769 434.4,2760 435.0,2771 435.6,2765 436.3,2764 436.9,2766 437.5,2778 438.1,2764 438.7,2762 439.4,2772 440.0,2768 440.6,2766 441.2,2765 441.8,2773 442.5,2769 443.1,2763 443.7,2766 444.3,2774 444.9,2769 445.6,2765 446.2,2768 446.8,2758 447.4,2769 448.0,2757 448.7,2756 449.3,2772 449.9,2774 450.5,2773 451.1,2770 451.8,2763 452.4,2772 453.0,2766 453.6,2758 454.2,2775 454.9,2762 455.5,2775 456.1,2769 456.7,2768 457.3,2766 458.0,2766 458.6,2770 459.2,2770 459.8,2764 460.4,2772 461.1,2770 461.7,2777 462.3,2758 462.9,2771 463.5,2773 464.2,2764 464.8,2767 465.4,2776 466.0,2766 466.6,2766 467.3,2773 467.9,2758 468.5,2755 469.1,2758 469.7,2777 470.4,2765 471.0,2771 471.6,2761 472.2,2775 472.8,2758 473.5,2769 474.1,2774 474.7,2776 475.3,2774 475.9,2759 476.6,2774 477.2,2769 477.8,2765 478.4,2753 479.0,2759 479.7,2763 480.3,2763 480.9,2761 481.5,2777 482.1,2767 482.8,2776 483.4,2776 484.0,2770 484.6,2761 485.2,2767 485.9,2756 486.5,2772 487.1,2766 487.7,2768 488.3,2761 489.0,2779 489.6,2767 490.2,2764 490.8,2759 491.4,2769 492.1,2776 492.7,2765 493.3,2767 493.9,2768 494.5,2776 495.2,2776 495.8,2776 496.4,2755 497.0,2775 497.6,2780 498.3,2772 498.9,2781 499.5,2761 500.1,2770 500.7,2761 501.4,2759 502.0,2771 502.6,2767 503.2,2765 503.8,2771 504.5,2764 505.1,2755 505.7,2767 506.3,2770 506.9,2774 507.6,2774 508.2,2757 508.8,2763 509.4,2769 510.0,2760 510.7,2775 511.3,2771 511.9,2757 512.5,2764 513.1,2763 513.8,2769 514.4,2773 515.0,2754 515.6,2774 516.2,2768 516.9,2768 517.5,2770 518.1,2762 518.7,2757 519.3,2775 520.0,2762 520.6,2755 521.2,2764 521.8,2767 522.4,2764 523.1,2750 523.7,2764 524.3,2748 524.9,2750 525.5,2746 526.2,2750 526.8,2758 527.4,2751 528.0,2736 528.6,2739 529.3,2734 529.9,2733 530.5,2746 531.1,2733 531.7,2717 532.4,2740 533.0,2731 533.6,2725 534.2,2717 534.8,2720 535.5,2716 536.1,2724 536.7,2719 537.3,2714 537.9,2708 538.6,2701 539.2,2694 539.8,2698 540.4,2716 541.0,2715 541.7,2720 542.3,2738 542.9,2722 543.5,2747 544.1,2757 544.8,2751 545.4,2757 546.0,2753 546.6,2756 547.2,2758 547.9,2755 548.5,2772 549.1,2760 549.7,2772 550.3,2756 551.0,2763 551.6,2763 552.2,2755 552.8,2769 553.4,2774 554.1,2755 554.7,2760 555.3,2764 555.9,2756 556.5,2762 557.2,2756 557.8,2771 558.4,2763 559.0,2765 559.6,2763 560.3,2752 560.9,2764 561.5,2767 562.1,2757 562.7,2766 563.4,2760 564.0,2746 564.6,2753 565.2,2746 565.8,2757 566.5,2756 567.1,2740 567.7,2750 568.3,2732 568.9,2744 569.6,2723 570.2,2734 570.8,2726 571.4,2739 572.0,2728 572.7,2738 573.3,2739 573.9,2759 574.5,2757 575.1,2752 575.8,2753 576.4,2751 577.0,2761 577.6,2771 578.2,2762 578.9,2761 579.5,2760 580.1,2759 580.7,2760 581.3,2764 582.0,2778 582.6,2764 583.2,2759 583.8,2759 584.4,2759 585.1,2756 585.7,2756 586.3,2759 586.9,2758 587.5,2761 588.2,2769 588.8,2773 589.4,2771 590.0,2765 590.6,2773 591.3,2756 591.9,2775 592.5,2770 593.1,2748 593.7,2759 594.4,2747 595.0,2764 595.6,2766 596.2,2737 596.8,2753 597.5,2744 598.1,2751 598.7,2755 599.3,2746 599.9,2745 600.6,2741 601.2,2737 601.8,2743 602.4,2725 603.0,2747 603.7,2740 604.3,2735 604.9,2731 605.5,2718 606.1,2723 606.8,2713 607.4,2725 608.0,2722 608.6,2726 609.2,2721 609.9,2714 610.5,2714 611.1,2725 611.7,2698 612.3,2706 613.0,2693 613.6,2691 614.2,2702 614.8,2671 615.4,2689 616.1,2671 616.7,2674 617.3,2663 617.9,2682 618.5,2682 619.2,2667 619.8,2697 620.4,2706 621.0,2704 621.6,2718 622.3,2736 622.9,2737 623.5,2727 624.1,2744 624.7,2740 625.4,2755 626.0,2746 626.6,2754 627.2,2754 627.8,2761 628.5,2752 629.1,2765 629.7,2747 630.3,2766 630.9,2763 631.6,2761 632.2,2755 632.8,2756 633.4,2767 634.0,2755 634.7,2761 635.3,2775 635.9,2776 636.5,2769 637.1,2761 637.8,2757 638.4,2762 639.0,2771 639.6,2762 640.2,2766 640.9,2763 641.5,2767 642.1,2764 642.7,2761 643.3,2761 644.0,2764 644.6,2758 645.2,2763 645.8,2762 646.4,2759 647.1,2771 647.7,2758 648.3,2762 648.9,2765 649.5,2760 650.2,2763 650.8,2757 651.4,2755 652.0,2779 652.6,2772 653.3,2764 653.9,2766 654.5,2760 655.1,2774 655.7,2762 656.4,2757 657.0,2761 657.6,2762 658.2,2759 658.8,2765 659.5,2771 660.1,2778 660.7,2766 661.3,2766 661.9,2763 662.6,2761 663.2,2770 663.8,2776 664.4,2770 665.0,2775 665.7,2764 666.3,2769 666.9,2759 667.5,2769 668.1,2771 668.8,2766 669.4,2763 670.0,2771 670.6,2765 671.2,2771 671.9,2774 672.5,2776 673.1,2773 673.7,2772 674.3,2758 675.0,2768 675.6,2754 676.2,2764 676.8,2764 677.4,2764 678.1,2774 678.7,2768 679.3,2756 679.9,2762 680.5,2767 681.2,2756 681.8,2757 682.4,2756 683.0,2764 683.6,2744 684.3,2734 684.9,2740 685.5,2749 686.1,2742 686.7,2718 687.4,2725 688.0,2727 688.6,2724 689.2,2727 689.8,2736 690.5,2748 691.1,2757 691.7,2746 692.3,2748 692.9,2758 693.6,2773 694.2,2752 694.8,2762 695.4,2768 696.0,2755 696.7,2764 697.3,2766 697.9,2768 698.5,2762 699.1,2773 699.8,2760 700.4,2775 701.0,2753 701.6,2762 702.2,2759 702.9,2769 703.5,2764 704.1,2765 704.7,2773 705.3,2770 706.0,2761 706.6,2766 707.2,2763 707.8,2768 708.4,2750 709.1,2766 709.7,2752 710.3,2763 710.9,2767 711.5,2769 712.2,2769 712.8,2769 713.4,2763 714.0,2761 714.6,2773 715.3,2772 715.9,2765 716.5,2755 717.1,2757 717.7,2771 718.4,2758 719.0,2765 719.6,2769 720.2,2767 720.8,2763 721.5,2769 722.1,2753 722.7,2764 723.3,2776 723.9,2759 724.6,2764 725.2,2751 725.8,2761 726.4,2772 727.0,2766 727.7,2754 728.3,2756 728.9,2766 729.5,2765 730.1,2769 730.8,2767 731.4,2762 732.0,2758 732.6,2771 733.2,2775 733.9,2748 734.5,2751 735.1,2764 735.7,2763 736.3,2774 737.0,2764 737.6,2765 738.2,2758 738.8,2766 739.4,2767 740.1,2744 740.7,2759 741.3,2758 741.9,2743 742.5,2747 743.2,2755 743.8,2746 744.4,2744 745.0,2754 745.6,2750 746.3,2749 746.9,2744 747.5,2744 748.1,2739 748.7,2747 749.4,2729 750.0,2722 750.6,2700 751.2,2702 751.8,2676 752.5,2654 753.1,2630 753.7,2602 754.3,2583 754.9,2544 755.6,2524 756.2,2531 756.8,2534 757.4,2552 758.0,2565 758.7,2590 759.3,2611 759.9,2633 760.5,2659 761.1,2673 761.8,2696 762.4,2693 763.0,2708 763.6,2688 764.2,2692 764.9,2680 765.5,2665 766.1,2660 766.7,2637 767.3,2613 768.0,2603 768.6,2598 769.2,2591 769.8,2586 770.4,2617 771.1,2608 771.7,2637 772.3,2676 772.9,2664 773.5,2697 774.2,2705 774.8,2720 775.4,2726 776.0,2736 776.6,2728 777.3,2749 777.9,2739 778.5,2741 779.1,2748 779.7,2747 780.4,2747 781.0,2745 781.6,2745 782.2,2741 782.8,2729 783.5,2738 784.1,2747 784.7,2713 785.3,2714 785.9,2722 786.6,2730 787.2,2753 787.8,2746 788.4,2757 789.0,2751 789.7,2750 790.3,2756 790.9,2765 791.5,2763 792.1,2760 792.8,2747 793.4,2748 794.0,2766 794.6,2745 795.2,2756 795.9,2753 796.5,2747 797.1,2762 797.7,2753 798.3,2755 799.0,2750 799.6,2762 800.2,2756 800.8,2759 801.4,2762 802.1,2745 802.7,2765 803.3,2759 803.9,2752 804.5,2767 805.2,2760 805.8,2754 806.4,2756 807.0,2761 807.6,2743 808.3,2748 808.9,2732 809.5,2740 810.1,2737 810.7,2734 811.4,2707 812.0,2697 812.6,2693 813.2,2695 813.8,2674 814.5,2672 815.1,2655 815.7,2651 816.3,2658 816.9,2648 817.6,2659 818.2,2661 818.8,2649 819.4,2647 820.0,2653 820.7,2652 821.3,2636 821.9,2618 822.5,2617 823.1,2615 823.8,2590 824.4,2595 825.0,2592 825.6,2619 826.2,2627 826.9,2634 827.5,2658 828.1,2691 828.7,2695 829.3,2717 830.0,2726 830.6,2723 831.2,2730 831.8,2750 832.4,2740 833.1,2752 833.7,2761 834.3,2751 834.9,2754 835.5,2748 836.2,2753 836.8,2758 837.4,2770 838.0,2752 838.6,2756 839.3,2762 839.9,2768 840.5,2759 841.1,2764 841.7,2748 842.4,2765 843.0,2762 843.6,2761 844.2,2759 844.8,2746 845.5,2757 846.1,2759 846.7,2761 847.3,2759 847.9,2769 848.6,2751 849.2,2771 849.8,2758 850.4,2751 851.0,2759 851.7,2755 852.3,2767 852.9,2760 853.5,2755 854.1,2767 854.8,2767 855.4,2771 856.0,2753 856.6,2755 857.2,2765 857.9,2760 858.5,2762 859.1,2765 859.7,2767 860.3,2763 861.0,2765 861.6,2773 862.2,2756 862.8,2756 863.4,2756 864.1,2761 864.7,2767 865.3,2749 865.9,2763 866.5,2761 867.2,2764 867.8,2764 868.4,2750 869.0,2759 869.6,2759 870.3,2762 870.9,2759 871.5,2754 872.1,2773 872.7,2761 873.4,2755 874.0,2753 874.6,2763 875.2,2773 875.8,2759 876.5,2768 877.1,2753 877.7,2762 878.3,2763 878.9,2751 879.6,2761 880.2,2747 880.8,2759 881.4,2766 882.0,2770 882.7,2756 883.3,2757 883.9,2761 884.5,2750 885.1,2750 885.8,2758 886.4,2748 887.0,2757 887.6,2746 888.2,2758 888.9,2743 889.5,2734 890.1,2737 890.7,2728 891.3,2724 892.0,2712 892.6,2719 893.2,2726 893.8,2723 894.4,2736 895.1,2728 895.7,2718 896.3,2731 896.9,2720 897.5,2720 898.2,2732 898.8,2738 899.4,2732 900.0,2730 900.6,2728 901.3,2741 901.9,2746 902.5,2752 903.1,2744 903.7,2753 904.4,2756 905.0,2746 905.6,2747 906.2,2732 906.8,2731 907.5,2746 908.1,2720 908.7,2728 909.3,2715 909.9,2693 910.6,2697 911.2,2686 911.8,2677 912.4,2672 913.0,2660 913.7,2641 914.3,2640 914.9,2636 915.5,2632 916.1,2651 916.8,2651 917.4,2635 918.0,2655 918.6,2678 919.2,2653 919.9,2642 920.5,2664 921.1,2650 921.7,2649 922.3,2640 923.0,2652 923.6,2633 924.2,2649 924.8,2618 925.4,2616 926.1,2614 926.7,2610 927.3,2601 927.9,2600 928.5,2582 929.2,2558 929.8,2523 930.4,2501 931.0,2483 931.6,2444 932.3,2432 932.9,2395 933.5,2398 934.1,2386 934.7,2423 935.4,2451 936.0,2482 936.6,2521 937.2,2542 937.8,2590 938.5,2608 939.1,2619 939.7,2641 940.3,2658 940.9,2695 941.6,2698 942.2,2697 942.8,2689 943.4,2696 944.0,2707 944.7,2702 945.3,2683 945.9,2680 946.5,2682 947.1,2685 947.8,2669 948.4,2657 949.0,2637 949.6,2619 950.2,2612 950.9,2608 951.5,2603 952.1,2590 952.7,2575 953.3,2583 954.0,2587 954.6,2605 955.2,2639 955.8,2636 956.4,2659 957.1,2668 957.7,2685 958.3,2685 958.9,2678 959.5,2709 960.2,2712 960.8,2719 961.4,2725 962.0,2737 962.6,2734 963.3,2733 963.9,2734 964.5,2746 965.1,2739 965.7,2744 966.4,2751 967.0,2745 967.6,2752 968.2,2750 968.8,2739 969.5,2738 970.1,2737 970.7,2752 971.3,2748 971.9,2734 972.6,2742 973.2,2754 973.8,2736 974.4,2763 975.0,2746 975.7,2745 976.3,2753 976.9,2748 977.5,2747 978.1,2746 978.8,2739 979.4,2737 980.0,2743 980.6,2739 981.2,2746 981.9,2742 982.5,2727 983.1,2738 983.7,2736 984.3,2729 985.0,2739 985.6,2734 986.2,2739 986.8,2727 987.4,2726 988.1,2724 988.7,2735 989.3,2741 989.9,2748 990.5,2736 991.2,2745 991.8,2737 992.4,2747 993.0,2734 993.6,2753 994.3,2758 994.9,2743 995.5,2753 996.1,2759 996.7,2758 997.4,2755 998.0,2748 998.6,2755 999.2,2758 999.8,2750 1000.5,2749 1001.1,2746 1001.7,2754 1002.3,2760 1002.9,2760 1003.6,2757 1004.2,2752 1004.8,2756 1005.4,2759 1006.0,2756 1006.7,2750 1007.3,2765 1007.9,2768 1008.5,2764 1009.1,2753 1009.8,2756 1010.4,2758 1011.0,2755 1011.6,2758 1012.2,2747 1012.9,2769 1013.5,2772 1014.1,2758 1014.7,2759 1015.3,2756 1016.0,2747 1016.6,2755 1017.2,2763 1017.8,2759 1018.4,2753 1019.1,2759 1019.7,2759 1020.3,2759 1020.9,2757 1021.5,2759 1022.2,2753 1022.8,2759 1023.4,2755 1024.0,2742 1024.6,2757 1025.3,2755 1025.9,2761 1026.5,2759 1027.1,2762 1027.7,2759 1028.4,2752 1029.0,2751 1029.6,2746 1030.2,2756 1030.8,2755 1031.5,2732 1032.1,2758 1032.7,2737 1033.3,2744 1033.9,2736 1034.6,2749 1035.2,2749 1035.8,2737 1036.4,2751 1037.0,2737 1037.7,2750 1038.3,2734 1038.9,2747 1039.5,2741 1040.1,2741 1040.8,2747 1041.4,2736 1042.0,2728 1042.6,2738 1043.2,2738 1043.9,2747 1044.5,2729 1045.1,2735 1045.7,2722 1046.3,2736 1047.0,2722 1047.6,2715 1048.2,2717 1048.8,2722 1049.4,2721 1050.1,2726 1050.7,2725 1051.3,2713 1051.9,2713 1052.5,2715 1053.2,2705 1053.8,2697 1054.4,2726 1055.0,2724 1055.6,2707 1056.3,2708 1056.9,2720 1057.5,2726 1058.1,2729 1058.7,2728 1059.4,2722 1060.0,2739 1060.6,2752 1061.2,2745 1061.8,2741 1062.5,2745 1063.1,2742 1063.7,2747 1064.3,2758 1064.9,2756 1065.6,2754 1066.2,2745 1066.8,2753 1067.4,2750 1068.0,2753 1068.7,2755 1069.3,2752 1069.9,2763 1070.5,2748 1071.1,2750 1071.8,2760 1072.4,2761 1073.0,2756 1073.6,2749 1074.2,2756 1074.9,2772 1075.5,2751 1076.1,2755 1076.7,2748 1077.3,2766 1078.0,2764 1078.6,2756 1079.2,2765 1079.8,2766 1080.4,2754 1081.1,2768 1081.7,2753 1082.3,2760 1082.9,2771 1083.5,2757 1084.2,2760 1084.8,2760 1085.4,2755 1086.0,2763 1086.6,2755 1087.3,2768 1087.9,2757 1088.5,2773 1089.1,2772 1089.7,2762 1090.4,2765 1091.0,2755 1091.6,2763 1092.2,2763 1092.8,2755 1093.5,2749 1094.1,2762 1094.7,2768 1095.3,2765 1095.9,2762 1096.6,2774 1097.2,2761 1097.8,2751 1098.4,2765 1099.0,2758 1099.7,2765 1100.3,2763 1100.9,2763 1101.5,2761 1102.1,2747 1102.8,2764 1103.4,2763 1104.0,2765 1104.6,2759 1105.2,2760 1105.9,2768 1106.5,2762 1107.1,2753 1107.7,2749 1108.3,2763 1109.0,2755 1109.6,2761 1110.2,2758 1110.8,2768 1111.4,2764 1112.1,2754 1112.7,2759 1113.3,2766 1113.9,2756 1114.5,2766 1115.2,2761 1115.8,2761 1116.4,2765 1117.0,2760 1117.6,2771 1118.3,2761 1118.9,2760 1119.5,2757 1120.1,2768 1120.7,2764 1121.4,2767 1122.0,2767 1122.6,2760 1123.2,2763 1123.8,2761 1124.5,2767 1125.1,2764 1125.7,2755 1126.3,2776 1126.9,2760 1127.6,2758 1128.2,2753 1128.8,2771 1129.4,2766 1130.0,2760 1130.7,2749 1131.3,2754 1131.9,2763 1132.5,2764 1133.1,2766 1133.8,2755 1134.4,2754 1135.0,2756 1135.6,2741 1136.2,2742 1136.9,2747 1137.5,2742 1138.1,2734 1138.7,2731 1139.3,2725 1140.0,2723 1140.6,2740 1141.2,2743 1141.8,2755 1142.4,2753 1143.1,2745 1143.7,2765 1144.3,2764 1144.9,2756 1145.5,2773 1146.2,2763 1146.8,2757 1147.4,2758 1148.0,2758 1148.6,2757 1149.3,2752 1149.9,2751 1150.5,2743 1151.1,2733 1151.7,2750 1152.4,2730 1153.0,2737 1153.6,2725 1154.2,2723 1154.8,2750 1155.5,2739 1156.1,2737 1156.7,2734 1157.3,2751 1157.9,2745 1158.6,2753 1159.2,2762 1159.8,2752 1160.4,2744 1161.0,2761 1161.7,2757 1162.3,2753 1162.9,2755 1163.5,2755 1164.1,2750 1164.8,2754 1165.4,2742 1166.0,2738 1166.6,2742 1167.2,2743 1167.9,2728 1168.5,2711 1169.1,2714 1169.7,2723 1170.3,2735 1171.0,2725 1171.6,2711 1172.2,2724 1172.8,2733 1173.4,2724 1174.1,2742 1174.7,2739 1175.3,2760 1175.9,2743 1176.5,2755 1177.2,2758 1177.8,2761 1178.4,2751 1179.0,2757 1179.6,2768 1180.3,2764 1180.9,2755 1181.5,2762 1182.1,2757 1182.7,2760 1183.4,2758 1184.0,2760 1184.6,2752 1185.2,2757 1185.8,2767 1186.5,2770 1187.1,2765 1187.7,2765 1188.3,2774 1188.9,2773 1189.6,2762 1190.2,2770 1190.8,2775 1191.4,2757 1192.0,2763 1192.7,2767 1193.3,2753 1193.9,2757 1194.5,2765 1195.1,2762 1195.8,2763 1196.4,2743 1197.0,2754 1197.6,2756 1198.2,2758 1198.9,2754 1199.5,2753 1200.1,2751 1200.7,2755 1201.3,2761 1202.0,2754 1202.6,2761 1203.2,2763 1203.8,2759 1204.4,2756 1205.1,2750 1205.7,2758 1206.3,2752 1206.9,2756 1207.5,2765 1208.2,2747 1208.8,2760 1209.4,2751 1210.0,2751 1210.6,2770 1211.3,2753 1211.9,2759 1212.5,2745 1213.1,2760 1213.7,2754 1214.4,2756 1215.0,2746 1215.6,2746 1216.2,2748 1216.8,2752 1217.5,2742 1218.1,2736 1218.7,2747 1219.3,2741 1219.9,2752 1220.6,2745 1221.2,2749 1221.8,2755 1222.4,2752 1223.0,2749 1223.7,2754 1224.3,2758 1224.9,2752 1225.5,2763 1226.1,2767 1226.8,2767 1227.4,2756 1228.0,2755 1228.6,2759 1229.2,2762 1229.9,2762 1230.5,2760 1231.1,2776 1231.7,2754 1232.3,2767 1233.0,2771 1233.6,2770 1234.2,2762 1234.8,2764 1235.4,2757 1236.1,2773 1236.7,2762 1237.3,2770 1237.9,2750 1238.5,2767 1239.2,2763 1239.8,2763 1240.4,2775 1241.0,2767 1241.6,2773 1242.3,2761 1242.9,2773 1243.5,2769 1244.1,2756 1244.7,2758 1245.4,2761 1246.0,2770 1246.6,2770 1247.2,2772 1247.8,2751 1248.5,2770 1249.1,2754 1249.7,2764 1250.3,2769 1250.9,2761 1251.6,2757 1252.2,2762 1252.8,2765 1253.4,2780 1254.0,2770 1254.7,2775 1255.3,2762 1255.9,2764 1256.5,2763 1257.1,2762 1257.8,2763 1258.4,2770 1259.0,2769 1259.6,2764 1260.2,2764 1260.9,2765 1261.5,2764 1262.1,2769 1262.7,2779 1263.3,2769 1264.0,2753 1264.6,2771 1265.2,2769 1265.8,2767 1266.4,2765 1267.1,2770 1267.7,2768 1268.3,2766 1268.9,2765 1269.5,2771 1270.2,2770 1270.8,2771 1271.4,2762 1272.0,2772 1272.6,2758 1273.3,2761 1273.9,2772 1274.5,2761 1275.1,2763 1275.7,2770 1276.4,2760 1277.0,2766 1277.6,2765 1278.2,2759 1278.8,2769 1279.5,2758 1280.1,2761 1280.7,2765 1281.3,2752 1281.9,2755 1282.6,2764 1283.2,2766 1283.8,2760 1284.4,2771 1285.0,2770 1285.7,2755 1286.3,2759 1286.9,2763 1287.5,2766 1288.1,2770 1288.8,2782 1289.4,2762 1290.0,2760 1290.6,2774 1291.2,2765 1291.9,2767 1292.5,2772 1293.1,2762 1293.7,2760 1294.3,2757 1295.0,2768 1295.6,2772 1296.2,2773 1296.8,2771 1297.4,2778 1298.1,2763 1298.7,2761 1299.3,2760 1299.9,2764 1300.5,2764 1301.2,2773 1301.8,2764 1302.4,2765 1303.0,2773 1303.6,2761 1304.3,2766 1304.9,2767 1305.5,2764 1306.1,2776 1306.7,2769 1307.4,2764 1308.0,2767 1308.6,2761 1309.2,2769 1309.8,2762 1310.5,2765 1311.1,2764 1311.7,2763 1312.3,2771 1312.9,2771 1313.6,2773 1314.2,2771 1314.8,2773 1315.4,2765 1316.0,2777 1316.7,2761 1317.3,2772 1317.9,2764 1318.5,2763 1319.1,2768 1319.8,2764 1320.4,2767 1321.0,2769 1321.6,2765 1322.2,2775 1322.9,2770 1323.5,2768 1324.1,2768 1324.7,2758 1325.3,2766 1326.0,2772 1326.6,2766 1327.2,2767 1327.8,2763 1328.4,2773 1329.1,2762 1329.7,2757 1330.3,2755 1330.9,2769 1331.5,2766 1332.2,2773 1332.8,2764 1333.4,2758 1334.0,2774 1334.6,2765 1335.3,2771 1335.9,2769 1336.5,2758 1337.1,2756 1337.7,2757 1338.4,2757 1339.0,2751 1339.6,2759 1340.2,2745 1340.8,2753 1341.5,2756 1342.1,2758 1342.7,2764 1343.3,2766 1343.9,2771 1344.6,2777 1345.2,2764 1345.8,2776 1346.4,2775 1347.0,2764 1347.7,2767 1348.3,2772 1348.9,2774 1349.5,2766 1350.1,2766 1350.8,2769 1351.4,2763 1352.0,2769 1352.6,2761 1353.2,2771 1353.9,2768 1354.5,2771 1355.1,2772 1355.7,2767 1356.3,2771 1357.0,2764 1357.6,2763 1358.2,2764 1358.8,2753 1359.4,2760 1360.1,2760 1360.7,2765 1361.3,2757 1361.9,2768 1362.5,2774 1363.2,2763 1363.8,2777 1364.4,2769 1365.0,2772 1365.6,2764 1366.3,2774 1366.9,2770 1367.5,2776 1368.1,2773 1368.7,2760 1369.4,2766 1370.0,2766 1370.6,2765 1371.2,2767 1371.8,2775 1372.5,2778 1373.1,2767 1373.7,2757 1374.3,2753 1374.9,2770 1375.6,2776 1376.2,2769 1376.8,2764 1377.4,2772 1378.0,2757 1378.7,2773 1379.3,2771 1379.9,2771 1380.5,2756 1381.1,2774 1381.8,2767 1382.4,2764 1383.0,2760 1383.6,2763 1384.2,2765 1384.9,2765 1385.5,2770 1386.1,2764 1386.7,2769 1387.3,2768 1388.0,2764 1388.6,2771 1389.2,2767 1389.8,2764 1390.4,2778 1391.1,2765 1391.7,2764 1392.3,2762 1392.9,2772 1393.5,2753 1394.2,2764 1394.8,2769 1395.4,2767 1396.0,2766 1396.6,2761 1397.3,2755 1397.9,2759 1398.5,2767 1399.1,2770 1399.7,2761 1400.4,2766 1401.0,2766 1401.6,2761 1402.2,2759 1402.8,2762 1403.5,2757 1404.1,2769 1404.7,2767 1405.3,2780 1405.9,2760 1406.6,2761 1407.2,2764 1407.8,2772 1408.4,2762 1409.0,2769 1409.7,2754 1410.3,2757 1410.9,2753 1411.5,2760 1412.1,2774 1412.8,2765 1413.4,2752 1414.0,2769 1414.6,2762 1415.2,2756 1415.9,2755 1416.5,2761 1417.1,2750 1417.7,2743 1418.3,2755 1419.0,2738 1419.6,2764 1420.2,2746 1420.8,2744 1421.4,2740 1422.1,2734 1422.7,2728 1423.3,2748 1423.9,2722 1424.5,2712 1425.2,2722 1425.8,2728 1426.4,2708 1427.0,2728 1427.6,2707 1428.3,2699 1428.9,2703 1429.5,2683 1430.1,2672 1430.7,2671 1431.4,2662 1432.0,2662 1432.6,2671 1433.2,2657 1433.8,2658 1434.5,2664 1435.1,2658 1435.7,2646 1436.3,2660 1436.9,2634 1437.6,2648 1438.2,2658 1438.8,2673 1439.4,2658 1440.0,2681 1440.7,2667 1441.3,2669 1441.9,2678 1442.5,2695 1443.1,2677 1443.8,2696 1444.4,2693 1445.0,2705 1445.6,2711 1446.2,2711 1446.9,2705 1447.5,2725 1448.1,2715 1448.7,2737 1449.3,2738 1450.0,2752 1450.6,2745 1451.2,2754 1451.8,2736 1452.4,2749 1453.1,2758 1453.7,2756 1454.3,2757 1454.9,2750 1455.5,2766 1456.2,2752 1456.8,2757 1457.4,2753 1458.0,2754 1458.6,2767 1459.3,2760 1459.9,2765 1460.5,2777 1461.1,2761 1461.7,2774 1462.4,2766 1463.0,2763 1463.6,2762 1464.2,2767 1464.8,2768 1465.5,2751 1466.1,2755 1466.7,2763 1467.3,2771 1467.9,2775 1468.6,2767 1469.2,2754 1469.8,2768 1470.4,2768 1471.0,2760 1471.7,2772 1472.3,2765 1472.9,2764 1473.5,2768 1474.1,2768 1474.8,2763 1475.4,2761 1476.0,2761 1476.6,2756 1477.2,2767 1477.9,2763 1478.5,2761 1479.1,2763 1479.7,2762 1480.3,2760 1481.0,2748 1481.6,2760 1482.2,2760 1482.8,2755 1483.4,2747 1484.1,2763 1484.7,2758 1485.3,2752 1485.9,2758 1486.5,2759 1487.2,2757 1487.8,2762 1488.4,2750 1489.0,2755 1489.6,2748 1490.3,2743 1490.9,2762 1491.5,2749 1492.1,2749 1492.7,2753 1493.4,2752 1494.0,2752 1494.6,2737 1495.2,2739 1495.8,2763 1496.5,2750 1497.1,2754 1497.7,2743 1498.3,2744 1498.9,2735 1499.6,2746 1500.2,2739 1500.8,2751 1501.4,2755 1502.0,2741 1502.7,2741 1503.3,2744 1503.9,2738 1504.5,2750 1505.1,2748 1505.8,2743 1506.4,2753 1507.0,2743 1507.6,2746 1508.2,2755 1508.9,2742 1509.5,2749 1510.1,2743 1510.7,2750 1511.3,2743 1512.0,2747 1512.6,2755 1513.2,2744 1513.8,2739 1514.4,2761 1515.1,2751 1515.7,2743 1516.3,2740 1516.9,2757 1517.5,2764 1518.2,2760 1518.8,2757 1519.4,2766 1520.0,2743 1520.6,2746 1521.3,2758 1521.9,2764 1522.5,2756 1523.1,2767 1523.7,2760 1524.4,2774 1525.0,2765 1525.6,2761 1526.2,2766 1526.8,2760 1527.5,2768 1528.1,2753 1528.7,2754 1529.3,2763 1529.9,2770 1530.6,2760 1531.2,2764 1531.8,2771 1532.4,2765 1533.0,2769 1533.7,2765 1534.3,2767 1534.9,2753 1535.5,2764 1536.1,2778 1536.8,2765 1537.4,2769 1538.0,2771 1538.6,2753 1539.2,2767 1539.9,2760 1540.5,2775 1541.1,2762 1541.7,2773 1542.3,2761 1543.0,2766 1543.6,2769 1544.2,2770 1544.8,2778 1545.4,2775 1546.1,2769 1546.7,2769 1547.3,2754 1547.9,2761 1548.5,2772 1549.2,2760 1549.8,2771 1550.4,2768 1551.0,2765 1551.6,2766 1552.3,2767 1552.9,2758 1553.5,2770 1554.1,2780 1554.7,2769 1555.4,2757 1556.0,2761 1556.6,2766 1557.2,2765 1557.8,2763 1558.5,2769 1559.1,2760 1559.7,2778 1560.3,2764 1560.9,2758 1561.6,2759 1562.2,2769 1562.8,2763 1563.4,2762 1564.0,2752 1564.7,2774 1565.3,2750 1565.9,2758 1566.5,2764 1567.1,2758 1567.8,2752 1568.4,2750 1569.0,2738 1569.6,2724 1570.2,2723 1570.9,2729 1571.5,2707 1572.1,2701 1572.7,2725 1573.3,2717 1574.0,2722 1574.6,2713 1575.2,2706 1575.8,2721 1576.4,2728 1577.1,2735 1577.7,2738 1578.3,2745 1578.9,2742 1579.5,2750 1580.2,2744 1580.8,2762 1581.4,2745 1582.0,2763 1582.6,2752 1583.3,2756 1583.9,2763 1584.5,2754 1585.1,2748 1585.7,2763 1586.4,2768 1587.0,2757 1587.6,2762 1588.2,2763 1588.8,2753 1589.5,2751 1590.1,2755 1590.7,2752 1591.3,2729 1591.9,2731 1592.6,2737 1593.2,2741 1593.8,2716 1594.4,2714 1595.0,2702 1595.7,2693 1596.3,2704 1596.9,2702 1597.5,2704 1598.1,2705 1598.8,2696 1599.4,2702 1600.0,2690 1600.6,2710 1601.2,2697 1601.9,2711 1602.5,2714 1603.1,2717 1603.7,2728 1604.3,2724 1605.0,2746 1605.6,2745 1606.2,2741 1606.8,2749 1607.4,2755 1608.1,2755 1608.7,2765 1609.3,2759 1609.9,2755 1610.5,2751 1611.2,2758 1611.8,2769 1612.4,2761 1613.0,2757 1613.6,2768 1614.3,2762 1614.9,2771 1615.5,2772 1616.1,2762 1616.7,2766 1617.4,2767 1618.0,2762 1618.6,2769 1619.2,2764 1619.8,2772 1620.5,2775 1621.1,2771 1621.7,2765 1622.3,2764 1622.9,2763 1623.6,2762 1624.2,2766 1624.8,2765 1625.4,2755 1626.0,2771 1626.7,2770 1627.3,2772 1627.9,2773 1628.5,2771 1629.1,2764 1629.8,2768 1630.4,2769 1631.0,2773 1631.6,2765 1632.2,2759 1632.9,2759 1633.5,2768 1634.1,2774 1634.7,2763 1635.3,2756 1636.0,2773 1636.6,2771 1637.2,2763 1637.8,2781 1638.4,2770 1639.1,2765 1639.7,2758 1640.3,2764 1640.9,2768 1641.5,2763 1642.2,2777 1642.8,2770 1643.4,2770 1644.0,2755 1644.6,2769 1645.3,2770 1645.9,2769 1646.5,2768 1647.1,2768 1647.7,2763 1648.4,2764 1649.0,2775 1649.6,2759 1650.2,2774 1650.8,2769 1651.5,2763 1652.1,2773 1652.7,2762 1653.3,2775 1653.9,2773 1654.6,2763 1655.2,2757 1655.8,2758 1656.4,2759 1657.0,2771 1657.7,2766 1658.3,2757 1658.9,2767 1659.5,2769 1660.1,2765 1660.8,2763 1661.4,2777 1662.0,2771 1662.6,2780 1663.2,2773 1663.9,2770 1664.5,2767 1665.1,2771 1665.7,2759 1666.3,2764 1667.0,2768 1667.6,2755 1668.2,2762 1668.8,2770 1669.4,2763 1670.1,2771 1670.7,2774 1671.3,2761 1671.9,2772 1672.5,2768 1673.2,2769 1673.8,2759 1674.4,2768 1675.0,2771 1675.6,2751 1676.3,2765 1676.9,2769 1677.5,2770 1678.1,2779 1678.7,2760 1679.4,2770 1680.0,2764 1680.6,2757 1681.2,2767 1681.8,2772 1682.5,2776 1683.1,2769 1683.7,2763 1684.3,2755 1684.9,2768 1685.6,2767 1686.2,2763 1686.8,2770 1687.4,2775 1688.0,2753 1688.7,2758 1689.3,2767 1689.9,2757 1690.5,2757 1691.1,2749 1691.8,2745 1692.4,2759 1693.0,2758 1693.6,2752 1694.2,2753 1694.9,2746 1695.5,2748 1696.1,2745 1696.7,2737 1697.3,2752 1698.0,2738 1698.6,2748 1699.2,2740 1699.8,2744 1700.4,2734 1701.1,2757 1701.7,2734 1702.3,2750 1702.9,2734 1703.5,2744 1704.2,2748 1704.8,2730 1705.4,2724 1706.0,2733 1706.6,2724 1707.3,2714 1707.9,2724 1708.5,2720 1709.1,2725 1709.7,2733 1710.4,2721 1711.0,2721 1711.6,2719 1712.2,2709 1712.8,2705 1713.5,2717 1714.1,2698 1714.7,2716 1715.3,2705 1715.9,2707 1716.6,2710 1717.2,2715 1717.8,2716 1718.4,2722 1719.0,2719 1719.7,2718 1720.3,2718 1720.9,2699 1721.5,2714 1722.1,2727 1722.8,2714 1723.4,2715 1724.0,2720 1724.6,2697 1725.2,2718 1725.9,2699 1726.5,2702 1727.1,2696 1727.7,2696 1728.3,2675 1729.0,2676 1729.6,2655 1730.2,2649 1730.8,2646 1731.4,2648 1732.1,2625 1732.7,2645 1733.3,2668 1733.9,2687 1734.5,2666 1735.2,2699 1735.8,2714 1736.4,2716 1737.0,2720 1737.6,2729 1738.3,2727 1738.9,2742 1739.5,2744 1740.1,2742 1740.7,2746 1741.4,2745 1742.0,2751 1742.6,2749 1743.2,2747 1743.8,2755 1744.5,2751 1745.1,2746 1745.7,2737 1746.3,2748 1746.9,2750 1747.6,2731 1748.2,2735 1748.8,2725 1749.4,2748 1750.0,2730 1750.7,2723 1751.3,2723 1751.9,2726 1752.5,2726 1753.1,2733 1753.8,2720 1754.4,2737 1755.0,2731 1755.6,2748 1756.2,2741 1756.9,2738 1757.5,2746 1758.1,2745 1758.7,2734 1759.3,2751 1760.0,2735 1760.6,2733 1761.2,2752 1761.8,2731 1762.4,2745 1763.1,2733 1763.7,2742 1764.3,2723 1764.9,2730 1765.5,2740 1766.2,2726 1766.8,2718 1767.4,2697 1768.0,2708 1768.6,2694 1769.3,2703 1769.9,2703 1770.5,2700 1771.1,2675 1771.7,2691 1772.4,2701 1773.0,2703 1773.6,2721 1774.2,2712 1774.8,2713 1775.5,2718 1776.1,2713 1776.7,2735 1777.3,2724 1777.9,2731 1778.6,2740 1779.2,2748 1779.8,2747 1780.4,2753 1781.0,2754 1781.7,2748 1782.3,2764 1782.9,2766 1783.5,2754 1784.1,2774 1784.8,2760 1785.4,2756 1786.0,2761 1786.6,2753 1787.2,2754 1787.9,2761 1788.5,2749 1789.1,2757 1789.7,2769 1790.3,2756 1791.0,2757 1791.6,2764 1792.2,2767 1792.8,2768 1793.4,2776 1794.1,2764 1794.7,2762 1795.3,2767 1795.9,2758 1796.5,2771 1797.2,2764 1797.8,2757 1798.4,2764 1799.0,2771 1799.6,2766 1800.3,2756 1800.9,2763 1801.5,2759 1802.1,2768 1802.7,2761 1803.4,2775 1804.0,2766 1804.6,2756 1805.2,2758 1805.8,2765 1806.5,2768 1807.1,2771 1807.7,2766 1808.3,2764 1808.9,2765 1809.6,2763 1810.2,2760 1810.8,2757 1811.4,2773 1812.0,2781 1812.7,2765 1813.3,2768 1813.9,2781 1814.5,2770 1815.1,2774 1815.8,2770 1816.4,2775 1817.0,2767 1817.6,2781 1818.2,2771 1818.9,2753 1819.5,2766 1820.1,2771 1820.7,2768 1821.3,2769 1822.0,2781 1822.6,2770 1823.2,2773 1823.8,2758 1824.4,2778 1825.1,2766 1825.7,2769 1826.3,2753 1826.9,2762 1827.5,2771 1828.2,2768 1828.8,2780 1829.4,2771 1830.0,2760 1830.6,2769 1831.3,2773 1831.9,2770 1832.5,2767 1833.1,2764 1833.7,2764 1834.4,2771 1835.0,2771 1835.6,2768 1836.2,2774 1836.8,2771 1837.5,2765 1838.1,2766 1838.7,2761 1839.3,2771 1839.9,2764 1840.6,2773 1841.2,2771 1841.8,2773 1842.4,2757 1843.0,2763 1843.7,2765 1844.3,2764 1844.9,2765 1845.5,2774 1846.1,2765 1846.8,2761 1847.4,2762 1848.0,2748 1848.6,2746 1849.2,2733 1849.9,2719 1850.5,2720 1851.1,2720 1851.7,2738 1852.3,2743 1853.0,2760 1853.6,2760 1854.2,2757 1854.8,2754 1855.4,2767 1856.1,2766 1856.7,2775 1857.3,2766 1857.9,2760 1858.5,2758 1859.2,2772 1859.8,2766 1860.4,2761 1861.0,2761 1861.6,2755 1862.3,2757 1862.9,2745 1863.5,2755 1864.1,2749 1864.7,2757 1865.4,2744 1866.0,2753 1866.6,2760 1867.2,2747 1867.8,2739 1868.5,2748 1869.1,2745 1869.7,2747 1870.3,2747 1870.9,2744 1871.6,2742 1872.2,2738 1872.8,2732 1873.4,2726 1874.0,2726 1874.7,2736 1875.3,2724 1875.9,2731 1876.5,2739 1877.1,2741 1877.8,2739 1878.4,2729 1879.0,2734 1879.6,2741 1880.2,2748 1880.9,2742 1881.5,2734 1882.1,2734 1882.7,2729 1883.3,2731 1884.0,2756 1884.6,2741 1885.2,2740 1885.8,2757 1886.4,2757 1887.1,2752 1887.7,2758 1888.3,2748 1888.9,2743 1889.5,2752 1890.2,2750 1890.8,2756 1891.4,2750 1892.0,2756 1892.6,2754 1893.3,2755 1893.9,2763 1894.5,2764 1895.1,2775 1895.7,2765 1896.4,2766 1897.0,2762 1897.6,2771 1898.2,2754 1898.8,2768 1899.5,2765 1900.1,2770 1900.7,2770 1901.3,2763 1901.9,2769 1902.6,2770 1903.2,2761 1903.8,2765 1904.4,2756 1905.0,2761 1905.7,2760 1906.3,2759 1906.9,2774 1907.5,2766 1908.1,2779 1908.8,2762 1909.4,2761 1910.0,2781 1910.6,2777 1911.2,2760 1911.9,2775 1912.5,2759 1913.1,2768 1913.7,2767 1914.3,2762 1915.0,2766 1915.6,2778 1916.2,2763 1916.8,2767 1917.4,2763 1918.1,2772 1918.7,2772 1919.3,2760 1919.9,2779 1920.5,2769 1921.2,2759 1921.8,2764 1922.4,2766 1923.0,2769 1923.6,2764 1924.3,2769 1924.9,2763 1925.5,2761 1926.1,2765 1926.7,2774 1927.4,2756 1928.0,2764 1928.6,2773 1929.2,2777 1929.8,2773 1930.5,2764 1931.1,2779 1931.7,2762 1932.3,2769 1932.9,2771 1933.6,2767 1934.2,2773 1934.8,2756 1935.4,2755 1936.0,2769 1936.7,2766 1937.3,2759 1937.9,2762 1938.5,2762 1939.1,2767 1939.8,2757 1940.4,2765 1941.0,2762 1941.6,2773 1942.2,2770 1942.9,2761 1943.5,2760 1944.1,2767 1944.7,2770 1945.3,2770 1946.0,2766 1946.6,2765 1947.2,2763 1947.8,2762 1948.4,2768 1949.1,2765 1949.7,2755 1950.3,2766 1950.9,2755 1951.5,2747 1952.2,2747 1952.8,2762 1953.4,2750 1954.0,2741 1954.6,2746 1955.3,2762 1955.9,2747 1956.5,2752 1957.1,2753 1957.7,2737 1958.4,2745 1959.0,2750 1959.6,2745 1960.2,2740 1960.8,2738 1961.5,2749 1962.1,2752 1962.7,2749 1963.3,2761 1963.9,2762 1964.6,2745 1965.2,2774 1965.8,2761 1966.4,2757 1967.0,2777 1967.7,2758 1968.3,2767 1968.9,2771 1969.5,2767 1970.1,2761 1970.8,2759 1971.4,2765 1972.0,2759 1972.6,2766 1973.2,2756 1973.9,2770 1974.5,2770 1975.1,2760 1975.7,2755 1976.3,2768 1977.0,2766 1977.6,2761 1978.2,2764 1978.8,2764 1979.4,2770 1980.1,2764 1980.7,2763 1981.3,2763 1981.9,2772 1982.5,2763 1983.2,2767 1983.8,2780 1984.4,2765 1985.0,2763 1985.6,2769 1986.3,2766 1986.9,2774 1987.5,2761" fill="none" stroke="#000000" stroke-width="3.3" stroke-linejoin="round"/>
<line x1="147.1" y1="1432.0" x2="1992.8" y2="1432.0" stroke="#000" stroke-width="5.5" />
<line x1="149.8" y1="1432.0" x2="149.8" y2="2813.0" stroke="#000" stroke-width="5.5" />
<line x1="1990.0" y1="1432.0" x2="1990.0" y2="2813.0" stroke="#000" stroke-width="5.5" />
<line x1="144.8" y1="2784.0" x2="1992.8" y2="2784.0" stroke="#000" stroke-width="8" />
<line x1="303.1" y1="2784.0" x2="303.1" y2="2800.0" stroke="#000" stroke-width="5.2" />
<line x1="456.5" y1="2784.0" x2="456.5" y2="2813.0" stroke="#000" stroke-width="5.2" />
<line x1="609.9" y1="2784.0" x2="609.9" y2="2800.0" stroke="#000" stroke-width="5.2" />
<line x1="763.3" y1="2784.0" x2="763.3" y2="2813.0" stroke="#000" stroke-width="5.2" />
<line x1="916.7" y1="2784.0" x2="916.7" y2="2800.0" stroke="#000" stroke-width="5.2" />
<line x1="1070.1" y1="2784.0" x2="1070.1" y2="2813.0" stroke="#000" stroke-width="5.2" />
<line x1="1223.5" y1="2784.0" x2="1223.5" y2="2800.0" stroke="#000" stroke-width="5.2" />
<line x1="1376.9" y1="2784.0" x2="1376.9" y2="2813.0" stroke="#000" stroke-width="5.2" />
<line x1="1530.3" y1="2784.0" x2="1530.3" y2="2800.0" stroke="#000" stroke-width="5.2" />
<line x1="1683.7" y1="2784.0" x2="1683.7" y2="2813.0" stroke="#000" stroke-width="5.2" />
<line x1="1837.1" y1="2784.0" x2="1837.1" y2="2800.0" stroke="#000" stroke-width="5.2" />
<circle cx="370.5" cy="2785.6" r="1.3" fill="#00e000"/>
<circle cx="539.0" cy="2785.6" r="1.3" fill="#00e000"/>
<circle cx="571.0" cy="2785.6" r="1.3" fill="#00e000"/>
<circle cx="618.5" cy="2785.6" r="1.3" fill="#00e000"/>
<circle cx="626.7" cy="2785.6" r="1.3" fill="#00e000"/>
<circle cx="747.7" cy="2785.6" r="1.3" fill="#00e000"/>
<circle cx="751.0" cy="2785.6" r="1.3" fill="#00e000"/>
<circle cx="825.5" cy="2785.6" r="1.3" fill="#00e000"/>
<circle cx="899.6" cy="2785.6" r="1.3" fill="#00e000"/>
<circle cx="908.7" cy="2785.6" r="1.3" fill="#00e000"/>
<circle cx="928.4" cy="2785.6" r="1.3" fill="#00e000"/>
<circle cx="955.4" cy="2785.6" r="1.3" fill="#00e000"/>
<circle cx="995.6" cy="2785.6" r="1.3" fill="#00e000"/>
<circle cx="1007.0" cy="2785.6" r="1.3" fill="#00e000"/>
<circle cx="1026.8" cy="2785.6" r="1.3" fill="#00e000"/>
<circle cx="1051.5" cy="2785.6" r="1.3" fill="#00e000"/>
<circle cx="1058.8" cy="2785.6" r="1.3" fill="#00e000"/>
<circle cx="1116.9" cy="2785.6" r="1.3" fill="#00e000"/>
<circle cx="1197.0" cy="2785.6" r="1.3" fill="#00e000"/>
<circle cx="1261.0" cy="2785.6" r="1.3" fill="#00e000"/>
<circle cx="1315.0" cy="2785.6" r="1.3" fill="#00e000"/>
<circle cx="1375.5" cy="2785.6" r="1.3" fill="#00e000"/>
<circle cx="1391.7" cy="2785.6" r="1.3" fill="#00e000"/>
<circle cx="1434.3" cy="2785.6" r="1.3" fill="#00e000"/>
<circle cx="1439.8" cy="2785.6" r="1.3" fill="#00e000"/>
<circle cx="1451.2" cy="2785.6" r="1.3" fill="#00e000"/>
<circle cx="1513.0" cy="2785.6" r="1.3" fill="#00e000"/>
<circle cx="1545.0" cy="2785.6" r="1.3" fill="#00e000"/>
<circle cx="1556.4" cy="2785.6" r="1.3" fill="#00e000"/>
<circle cx="1571.5" cy="2785.6" r="1.3" fill="#00e000"/>
<circle cx="1603.5" cy="2785.6" r="1.3" fill="#00e000"/>
<circle cx="1625.0" cy="2785.6" r="1.3" fill="#00e000"/>
<circle cx="1706.0" cy="2785.6" r="1.3" fill="#00e000"/>
<circle cx="1721.0" cy="2785.6" r="1.3" fill="#00e000"/>
<circle cx="1726.6" cy="2785.6" r="1.3" fill="#00e000"/>
<circle cx="1746.3" cy="2785.6" r="1.3" fill="#00e000"/>
<circle cx="1878.0" cy="2785.6" r="1.3" fill="#00e000"/>
<circle cx="1881.2" cy="2785.6" r="1.3" fill="#00e000"/>
<circle cx="1895.0" cy="2785.6" r="1.3" fill="#00e000"/>
<circle cx="1961.3" cy="2785.6" r="1.3" fill="#00e000"/>
<line x1="149.8" y1="2810.0" x2="149.8" y2="3042.5" stroke="#000" stroke-width="4" />
<line x1="1988.8" y1="2810.0" x2="1988.8" y2="3042.5" stroke="#000" stroke-width="4" />
<line x1="145.0" y1="3040.5" x2="1991.0" y2="3040.5" stroke="#000" stroke-width="4.5" />
<line x1="146.9" y1="3040.5" x2="146.9" y2="3054.5" stroke="#000" stroke-width="3.4" />
<text x="109.6" y="3114.0" font-size="76" font-weight="bold" textLength="74.1" lengthAdjust="spacingAndGlyphs">10</text>
<line x1="300.3" y1="3040.5" x2="300.3" y2="3049.5" stroke="#000" stroke-width="3.4" />
<line x1="453.7" y1="3040.5" x2="453.7" y2="3054.5" stroke="#000" stroke-width="3.4" />
<text x="417.8" y="3114.0" font-size="76" font-weight="bold" textLength="74.1" lengthAdjust="spacingAndGlyphs">20</text>
<line x1="607.1" y1="3040.5" x2="607.1" y2="3049.5" stroke="#000" stroke-width="3.4" />
<line x1="760.6" y1="3040.5" x2="760.6" y2="3054.5" stroke="#000" stroke-width="3.4" />
<text x="724.8" y="3114.0" font-size="76" font-weight="bold" textLength="74.1" lengthAdjust="spacingAndGlyphs">30</text>
<line x1="914.0" y1="3040.5" x2="914.0" y2="3049.5" stroke="#000" stroke-width="3.4" />
<line x1="1067.4" y1="3040.5" x2="1067.4" y2="3054.5" stroke="#000" stroke-width="3.4" />
<text x="1032.6" y="3114.0" font-size="76" font-weight="bold" textLength="74.1" lengthAdjust="spacingAndGlyphs">40</text>
<line x1="1220.8" y1="3040.5" x2="1220.8" y2="3049.5" stroke="#000" stroke-width="3.4" />
<line x1="1374.2" y1="3040.5" x2="1374.2" y2="3054.5" stroke="#000" stroke-width="3.4" />
<text x="1338.4" y="3114.0" font-size="76" font-weight="bold" textLength="74.1" lengthAdjust="spacingAndGlyphs">50</text>
<line x1="1527.6" y1="3040.5" x2="1527.6" y2="3049.5" stroke="#000" stroke-width="3.4" />
<line x1="1681.1" y1="3040.5" x2="1681.1" y2="3054.5" stroke="#000" stroke-width="3.4" />
<text x="1645.4" y="3114.0" font-size="76" font-weight="bold" textLength="74.1" lengthAdjust="spacingAndGlyphs">60</text>
<line x1="1834.5" y1="3040.5" x2="1834.5" y2="3049.5" stroke="#000" stroke-width="3.4" />
<line x1="1987.9" y1="3040.5" x2="1987.9" y2="3054.5" stroke="#000" stroke-width="3.4" />
<text x="1951.4" y="3114.0" font-size="76" font-weight="bold" textLength="74.1" lengthAdjust="spacingAndGlyphs">70</text>
<text x="819.4" y="3195.3" font-size="77" font-weight="bold" textLength="491.6" lengthAdjust="spacingAndGlyphs">2 Theta/degree</text>
<text transform="translate(105.5,2418.3) rotate(-90)" x="-2.5" y="0" font-size="77" font-weight="bold" textLength="288.2" lengthAdjust="spacingAndGlyphs">Intensity</text>
<clipPath id="lp"><rect x="148" y="2786" width="1841" height="255"/></clipPath>
<g clip-path="url(#lp)">
<line x1="581.0" y1="2970.0" x2="581.0" y2="3040.5" stroke="#000" stroke-width="4" />
<rect x="569.3" y="2958.3" width="23.4" height="23.4" fill="#000"/>
<line x1="857.5" y1="2805.0" x2="857.5" y2="3040.5" stroke="#000" stroke-width="4" />
<rect x="845.8" y="2793.3" width="23.4" height="23.4" fill="#000"/>
<line x1="933.0" y1="2876.0" x2="933.0" y2="3040.5" stroke="#000" stroke-width="4" />
<rect x="921.3" y="2864.3" width="23.4" height="23.4" fill="#000"/>
<line x1="1045.0" y1="3034.0" x2="1045.0" y2="3040.5" stroke="#000" stroke-width="4" />
<rect x="1033.3" y="3022.3" width="23.4" height="23.4" fill="#000"/>
<line x1="1094.0" y1="2993.7" x2="1094.0" y2="3040.5" stroke="#000" stroke-width="4" />
<rect x="1082.3" y="2982.0" width="23.4" height="23.4" fill="#000"/>
<line x1="1175.4" y1="3034.0" x2="1175.4" y2="3040.5" stroke="#000" stroke-width="4" />
<rect x="1163.7" y="3022.3" width="23.4" height="23.4" fill="#000"/>
<line x1="1358.4" y1="2946.0" x2="1358.4" y2="3040.5" stroke="#000" stroke-width="4" />
<rect x="1346.7" y="2934.3" width="23.4" height="23.4" fill="#000"/>
<line x1="1500.0" y1="2934.7" x2="1500.0" y2="3040.5" stroke="#000" stroke-width="4" />
<rect x="1488.3" y="2923.0" width="23.4" height="23.4" fill="#000"/>
<line x1="1563.3" y1="3034.0" x2="1563.3" y2="3040.5" stroke="#000" stroke-width="4" />
<rect x="1551.6" y="3022.3" width="23.4" height="23.4" fill="#000"/>
<line x1="1602.0" y1="3028.0" x2="1602.0" y2="3040.5" stroke="#000" stroke-width="4" />
<rect x="1590.3" y="3016.3" width="23.4" height="23.4" fill="#000"/>
<line x1="1607.7" y1="3016.5" x2="1607.7" y2="3040.5" stroke="#000" stroke-width="4" />
<rect x="1596.0" y="3004.8" width="23.4" height="23.4" fill="#000"/>
<line x1="1756.3" y1="2969.0" x2="1756.3" y2="3040.5" stroke="#000" stroke-width="4" />
<rect x="1744.6" y="2957.3" width="23.4" height="23.4" fill="#000"/>
<line x1="1804.0" y1="2969.0" x2="1804.0" y2="3040.5" stroke="#000" stroke-width="4" />
<rect x="1792.3" y="2957.3" width="23.4" height="23.4" fill="#000"/>
<line x1="1866.0" y1="3034.0" x2="1866.0" y2="3040.5" stroke="#000" stroke-width="4" />
<rect x="1854.3" y="3022.3" width="23.4" height="23.4" fill="#000"/>
<line x1="1977.0" y1="3032.6" x2="1977.0" y2="3040.5" stroke="#000" stroke-width="4" />
<rect x="1965.3" y="3020.9" width="23.4" height="23.4" fill="#000"/>
</g>
<text x="972.4" y="2876.5" font-size="77" font-weight="bold" textLength="1002.5" lengthAdjust="spacingAndGlyphs"><tspan dy="0">Hematite(Fe</tspan><tspan font-size="46" dy="26">2</tspan><tspan dy="-26">O</tspan><tspan font-size="46" dy="26">3</tspan><tspan dy="-26">) PDF#33-0664</tspan></text>
<text x="149.7" y="1798.7" font-size="76" font-weight="bold" textLength="178.7" lengthAdjust="spacingAndGlyphs">30 %</text>
<text x="149.7" y="2039.0" font-size="76" font-weight="bold" textLength="178.7" lengthAdjust="spacingAndGlyphs">24 %</text>
<text x="150.0" y="2245.6" font-size="76" font-weight="bold" textLength="178.4" lengthAdjust="spacingAndGlyphs">18 %</text>
<text x="150.0" y="2474.1" font-size="76" font-weight="bold" textLength="178.4" lengthAdjust="spacingAndGlyphs">12 %</text>
<text x="151.0" y="2688.5" font-size="76" font-weight="bold" textLength="138.1" lengthAdjust="spacingAndGlyphs">6 %</text>
<text x="257.0" y="1513.7" font-size="98" font-weight="bold" textLength="123.8" lengthAdjust="spacingAndGlyphs">(b)</text>
<line x1="335.0" y1="1620.2" x2="335.0" y2="1648.0" stroke="#000" stroke-width="3.5" />
<polygon points="325.8,1643.3 344.2,1643.3 335.0,1676.5" fill="#000" stroke="#000" stroke-width="2" stroke-linejoin="round"/>
<line x1="384.0" y1="1769.2" x2="384.0" y2="1797.0" stroke="#000" stroke-width="3.5" />
<polygon points="374.8,1792.3 393.2,1792.3 384.0,1825.5" fill="#000" stroke="#000" stroke-width="2" stroke-linejoin="round"/>
<line x1="489.0" y1="1626.7" x2="489.0" y2="1654.5" stroke="#000" stroke-width="3.5" />
<polygon points="479.8,1649.8 498.2,1649.8 489.0,1683.0" fill="#000" stroke="#000" stroke-width="2" stroke-linejoin="round"/>
<line x1="544.4" y1="1738.9" x2="544.4" y2="1766.7" stroke="#000" stroke-width="3.5" />
<polygon points="535.2,1762.0 553.6,1762.0 544.4,1795.2" fill="#000" stroke="#000" stroke-width="2" stroke-linejoin="round"/>
<line x1="576.4" y1="1736.9" x2="576.4" y2="1764.7" stroke="#000" stroke-width="3.5" />
<polygon points="567.2,1760.0 585.6,1760.0 576.4,1793.2" fill="#000" stroke="#000" stroke-width="2" stroke-linejoin="round"/>
<line x1="734.0" y1="1722.7" x2="734.0" y2="1750.5" stroke="#000" stroke-width="3.5" />
<polygon points="724.8,1745.8 743.2,1745.8 734.0,1779.0" fill="#000" stroke="#000" stroke-width="2" stroke-linejoin="round"/>
<line x1="800.8" y1="1544.2" x2="800.8" y2="1572.0" stroke="#000" stroke-width="3.5" />
<polygon points="791.6,1567.3 810.0,1567.3 800.8,1600.5" fill="#000" stroke="#000" stroke-width="2" stroke-linejoin="round"/>
<line x1="832.4" y1="1730.0" x2="832.4" y2="1757.8" stroke="#000" stroke-width="3.5" />
<polygon points="823.2,1753.1 841.6,1753.1 832.4,1786.3" fill="#000" stroke="#000" stroke-width="2" stroke-linejoin="round"/>
<line x1="900.5" y1="1557.8" x2="900.5" y2="1585.6" stroke="#000" stroke-width="3.5" />
<polygon points="891.3,1580.9 909.7,1580.9 900.5,1614.1" fill="#000" stroke="#000" stroke-width="2" stroke-linejoin="round"/>
<line x1="960.8" y1="1741.7" x2="960.8" y2="1769.5" stroke="#000" stroke-width="3.5" />
<polygon points="951.6,1764.8 970.0,1764.8 960.8,1798.0" fill="#000" stroke="#000" stroke-width="2" stroke-linejoin="round"/>
<line x1="983.0" y1="1659.1" x2="983.0" y2="1686.9" stroke="#000" stroke-width="3.5" />
<polygon points="973.8,1682.2 992.2,1682.2 983.0,1715.4" fill="#000" stroke="#000" stroke-width="2" stroke-linejoin="round"/>
<line x1="1006.0" y1="1766.0" x2="1006.0" y2="1793.8" stroke="#000" stroke-width="3.5" />
<polygon points="996.8,1789.1 1015.2,1789.1 1006.0,1822.3" fill="#000" stroke="#000" stroke-width="2" stroke-linejoin="round"/>
<line x1="1042.7" y1="1783.2" x2="1042.7" y2="1811.0" stroke="#000" stroke-width="3.5" />
<polygon points="1033.5,1806.3 1051.9,1806.3 1042.7,1839.5" fill="#000" stroke="#000" stroke-width="2" stroke-linejoin="round"/>
<line x1="1088.5" y1="1765.2" x2="1088.5" y2="1793.0" stroke="#000" stroke-width="3.5" />
<polygon points="1079.3,1788.3 1097.7,1788.3 1088.5,1821.5" fill="#000" stroke="#000" stroke-width="2" stroke-linejoin="round"/>
<line x1="1119.0" y1="1772.2" x2="1119.0" y2="1800.0" stroke="#000" stroke-width="3.5" />
<polygon points="1109.8,1795.3 1128.2,1795.3 1119.0,1828.5" fill="#000" stroke="#000" stroke-width="2" stroke-linejoin="round"/>
<line x1="1204.7" y1="1764.0" x2="1204.7" y2="1791.8" stroke="#000" stroke-width="3.5" />
<polygon points="1195.5,1787.1 1213.9,1787.1 1204.7,1820.3" fill="#000" stroke="#000" stroke-width="2" stroke-linejoin="round"/>
<line x1="1372.0" y1="1598.2" x2="1372.0" y2="1626.0" stroke="#000" stroke-width="3.5" />
<polygon points="1362.8,1621.3 1381.2,1621.3 1372.0,1654.5" fill="#000" stroke="#000" stroke-width="2" stroke-linejoin="round"/>
<line x1="1435.0" y1="1723.9" x2="1435.0" y2="1751.7" stroke="#000" stroke-width="3.5" />
<polygon points="1425.8,1747.0 1444.2,1747.0 1435.0,1780.2" fill="#000" stroke="#000" stroke-width="2" stroke-linejoin="round"/>
<line x1="1465.5" y1="1733.2" x2="1465.5" y2="1761.0" stroke="#000" stroke-width="3.5" />
<polygon points="1456.3,1756.3 1474.7,1756.3 1465.5,1789.5" fill="#000" stroke="#000" stroke-width="2" stroke-linejoin="round"/>
<line x1="1562.4" y1="1784.2" x2="1562.4" y2="1812.0" stroke="#000" stroke-width="3.5" />
<polygon points="1553.2,1807.3 1571.6,1807.3 1562.4,1840.5" fill="#000" stroke="#000" stroke-width="2" stroke-linejoin="round"/>
<line x1="1675.0" y1="1776.6" x2="1675.0" y2="1804.4" stroke="#000" stroke-width="3.5" />
<polygon points="1665.8,1799.7 1684.2,1799.7 1675.0,1832.9" fill="#000" stroke="#000" stroke-width="2" stroke-linejoin="round"/>
<line x1="1719.6" y1="1744.7" x2="1719.6" y2="1772.5" stroke="#000" stroke-width="3.5" />
<polygon points="1710.4,1767.8 1728.8,1767.8 1719.6,1801.0" fill="#000" stroke="#000" stroke-width="2" stroke-linejoin="round"/>
<line x1="1781.0" y1="1698.2" x2="1781.0" y2="1726.0" stroke="#000" stroke-width="3.5" />
<polygon points="1771.8,1721.3 1790.2,1721.3 1781.0,1754.5" fill="#000" stroke="#000" stroke-width="2" stroke-linejoin="round"/>
<line x1="1837.0" y1="1787.2" x2="1837.0" y2="1815.0" stroke="#000" stroke-width="3.5" />
<polygon points="1827.8,1810.3 1846.2,1810.3 1837.0,1843.5" fill="#000" stroke="#000" stroke-width="2" stroke-linejoin="round"/>
<line x1="1880.0" y1="1773.6" x2="1880.0" y2="1801.4" stroke="#000" stroke-width="3.5" />
<polygon points="1870.8,1796.7 1889.2,1796.7 1880.0,1829.9" fill="#000" stroke="#000" stroke-width="2" stroke-linejoin="round"/>
<line x1="1893.7" y1="1772.8" x2="1893.7" y2="1800.6" stroke="#000" stroke-width="3.5" />
<polygon points="1884.5,1795.9 1902.9,1795.9 1893.7,1829.1" fill="#000" stroke="#000" stroke-width="2" stroke-linejoin="round"/>
<line x1="1613.6" y1="1460.6" x2="1613.6" y2="1488.4" stroke="#000" stroke-width="3.5" />
<polygon points="1604.4,1483.7 1622.8,1483.7 1613.6,1516.9" fill="#000" stroke="#000" stroke-width="2" stroke-linejoin="round"/>
<polygon points="586.1,1874.5 600.7,1859.9 615.3,1874.5 600.7,1889.1" fill="none" stroke="#000" stroke-width="3"/>
<polygon points="767.9,1873.6 782.5,1859.0 797.1,1873.6 782.5,1888.2" fill="none" stroke="#000" stroke-width="3"/>
<polygon points="863.2,1888.2 877.8,1873.6 892.4,1888.2 877.8,1902.8" fill="none" stroke="#000" stroke-width="3"/>
<polygon points="898.8,1866.5 913.4,1851.9 928.0,1866.5 913.4,1881.1" fill="none" stroke="#000" stroke-width="3"/>
<polygon points="1371.4,1840.8 1386.0,1826.2 1400.6,1840.8 1386.0,1855.4" fill="none" stroke="#000" stroke-width="3"/>
<polygon points="322.7,1996.7 337.3,1982.1 351.9,1996.7 337.3,2011.3" fill="none" stroke="#000" stroke-width="3"/>
<polygon points="444.3,2115.8 458.9,2101.2 473.5,2115.8 458.9,2130.4" fill="none" stroke="#000" stroke-width="3"/>
<polygon points="487.2,2031.0 501.8,2016.4 516.4,2031.0 501.8,2045.6" fill="none" stroke="#000" stroke-width="3"/>
<polygon points="538.7,2082.2 553.3,2067.6 567.9,2082.2 553.3,2096.8" fill="none" stroke="#000" stroke-width="3"/>
<polygon points="683.4,2116.6 698.0,2102.0 712.6,2116.6 698.0,2131.2" fill="none" stroke="#000" stroke-width="3"/>
<polygon points="697.4,2079.7 712.0,2065.1 726.6,2079.7 712.0,2094.3" fill="none" stroke="#000" stroke-width="3"/>
<polygon points="829.9,2063.5 844.5,2048.9 859.1,2063.5 844.5,2078.1" fill="none" stroke="#000" stroke-width="3"/>
<polygon points="985.9,2019.0 1000.5,2004.4 1015.1,2019.0 1000.5,2033.6" fill="none" stroke="#000" stroke-width="3"/>
<polygon points="1081.2,2104.0 1095.8,2089.4 1110.4,2104.0 1095.8,2118.6" fill="none" stroke="#000" stroke-width="3"/>
<polygon points="1121.3,2108.0 1135.9,2093.4 1150.5,2108.0 1135.9,2122.6" fill="none" stroke="#000" stroke-width="3"/>
<polygon points="1158.9,2080.0 1173.5,2065.4 1188.1,2080.0 1173.5,2094.6" fill="none" stroke="#000" stroke-width="3"/>
<polygon points="1296.7,2113.4 1311.3,2098.8 1325.9,2113.4 1311.3,2128.0" fill="none" stroke="#000" stroke-width="3"/>
<polygon points="1428.0,2107.0 1442.6,2092.4 1457.2,2107.0 1442.6,2121.6" fill="none" stroke="#000" stroke-width="3"/>
<polygon points="1479.8,2083.6 1494.4,2069.0 1509.0,2083.6 1494.4,2098.2" fill="none" stroke="#000" stroke-width="3"/>
<polygon points="1498.1,2098.5 1512.7,2083.9 1527.3,2098.5 1512.7,2113.1" fill="none" stroke="#000" stroke-width="3"/>
<polygon points="1594.4,2068.0 1609.0,2053.4 1623.6,2068.0 1609.0,2082.6" fill="none" stroke="#000" stroke-width="3"/>
<polygon points="1620.9,2038.0 1635.5,2023.4 1650.1,2038.0 1635.5,2052.6" fill="none" stroke="#000" stroke-width="3"/>
<polygon points="1667.4,2110.4 1682.0,2095.8 1696.6,2110.4 1682.0,2125.0" fill="none" stroke="#000" stroke-width="3"/>
<polygon points="1761.4,2063.0 1776.0,2048.4 1790.6,2063.0 1776.0,2077.6" fill="none" stroke="#000" stroke-width="3"/>
<polygon points="1840.1,2111.0 1854.7,2096.4 1869.3,2111.0 1854.7,2125.6" fill="none" stroke="#000" stroke-width="3"/>
<polygon points="1894.9,2102.0 1909.5,2087.4 1924.1,2102.0 1909.5,2116.6" fill="none" stroke="#000" stroke-width="3"/>
<polygon points="1599.4,1580.8 1614.0,1566.2 1628.6,1580.8 1614.0,1595.4" fill="none" stroke="#000" stroke-width="3"/>
<polygon points="938.5,1852.1 941.7,1862.0 952.2,1862.1 943.7,1868.2 947.0,1878.1 938.5,1872.0 930.0,1878.1 933.3,1868.2 924.8,1862.1 935.3,1862.0" fill="none" stroke="#000" stroke-width="2.4" stroke-miterlimit="6"/>
<polygon points="913.0,2111.3 916.2,2121.2 926.7,2121.3 918.2,2127.4 921.5,2137.3 913.0,2131.2 904.5,2137.3 907.8,2127.4 899.3,2121.3 909.8,2121.2" fill="none" stroke="#000" stroke-width="2.4" stroke-miterlimit="6"/>
<polygon points="958.8,2165.8 962.0,2175.7 972.5,2175.8 964.0,2181.9 967.3,2191.8 958.8,2185.7 950.3,2191.8 953.6,2181.9 945.1,2175.8 955.6,2175.7" fill="none" stroke="#000" stroke-width="2.4" stroke-miterlimit="6"/>
<polygon points="373.0,2255.3 376.2,2265.2 386.7,2265.3 378.2,2271.4 381.5,2281.3 373.0,2275.2 364.5,2281.3 367.8,2271.4 359.3,2265.3 369.8,2265.2" fill="none" stroke="#000" stroke-width="2.4" stroke-miterlimit="6"/>
<polygon points="539.0,2248.0 542.2,2257.9 552.7,2258.0 544.2,2264.1 547.5,2274.0 539.0,2267.9 530.5,2274.0 533.8,2264.1 525.3,2258.0 535.8,2257.9" fill="none" stroke="#000" stroke-width="2.4" stroke-miterlimit="6"/>
<polygon points="571.5,2271.5 574.7,2281.4 585.2,2281.5 576.7,2287.6 580.0,2297.5 571.5,2291.4 563.0,2297.5 566.3,2287.6 557.8,2281.5 568.3,2281.4" fill="none" stroke="#000" stroke-width="2.4" stroke-miterlimit="6"/>
<polygon points="625.0,2238.3 628.2,2248.2 638.7,2248.3 630.2,2254.4 633.5,2264.3 625.0,2258.2 616.5,2264.3 619.8,2254.4 611.3,2248.3 621.8,2248.2" fill="none" stroke="#000" stroke-width="2.4" stroke-miterlimit="6"/>
<polygon points="749.5,2237.1 752.7,2247.0 763.2,2247.1 754.7,2253.2 758.0,2263.1 749.5,2257.0 741.0,2263.1 744.3,2253.2 735.8,2247.1 746.3,2247.0" fill="none" stroke="#000" stroke-width="2.4" stroke-miterlimit="6"/>
<polygon points="826.3,2211.5 829.5,2221.4 840.0,2221.5 831.5,2227.6 834.8,2237.5 826.3,2231.4 817.8,2237.5 821.1,2227.6 812.6,2221.5 823.1,2221.4" fill="none" stroke="#000" stroke-width="2.4" stroke-miterlimit="6"/>
<polygon points="1000.5,2216.0 1003.7,2225.9 1014.2,2226.0 1005.7,2232.1 1009.0,2242.0 1000.5,2235.9 992.0,2242.0 995.3,2232.1 986.8,2226.0 997.3,2225.9" fill="none" stroke="#000" stroke-width="2.4" stroke-miterlimit="6"/>
<polygon points="1058.0,2254.5 1061.2,2264.4 1071.7,2264.5 1063.2,2270.6 1066.5,2280.5 1058.0,2274.4 1049.5,2280.5 1052.8,2270.6 1044.3,2264.5 1054.8,2264.4" fill="none" stroke="#000" stroke-width="2.4" stroke-miterlimit="6"/>
<polygon points="1204.0,2262.2 1207.2,2272.1 1217.7,2272.2 1209.2,2278.3 1212.5,2288.2 1204.0,2282.1 1195.5,2288.2 1198.8,2278.3 1190.3,2272.2 1200.8,2272.1" fill="none" stroke="#000" stroke-width="2.4" stroke-miterlimit="6"/>
<polygon points="1435.0,2232.5 1438.2,2242.4 1448.7,2242.5 1440.2,2248.6 1443.5,2258.5 1435.0,2252.4 1426.5,2258.5 1429.8,2248.6 1421.3,2242.5 1431.8,2242.4" fill="none" stroke="#000" stroke-width="2.4" stroke-miterlimit="6"/>
<polygon points="1452.8,2225.5 1456.0,2235.4 1466.5,2235.5 1458.0,2241.6 1461.3,2251.5 1452.8,2245.4 1444.3,2251.5 1447.6,2241.6 1439.1,2235.5 1449.6,2235.4" fill="none" stroke="#000" stroke-width="2.4" stroke-miterlimit="6"/>
<polygon points="1572.0,2242.5 1575.2,2252.4 1585.7,2252.5 1577.2,2258.6 1580.5,2268.5 1572.0,2262.4 1563.5,2268.5 1566.8,2258.6 1558.3,2252.5 1568.8,2252.4" fill="none" stroke="#000" stroke-width="2.4" stroke-miterlimit="6"/>
<polygon points="1602.8,2195.8 1606.0,2205.7 1616.5,2205.8 1608.0,2211.9 1611.3,2221.8 1602.8,2215.7 1594.3,2221.8 1597.6,2211.9 1589.1,2205.8 1599.6,2205.7" fill="none" stroke="#000" stroke-width="2.4" stroke-miterlimit="6"/>
<polygon points="1630.4,2193.5 1633.6,2203.4 1644.1,2203.5 1635.6,2209.6 1638.9,2219.5 1630.4,2213.4 1621.9,2219.5 1625.2,2209.6 1616.7,2203.5 1627.2,2203.4" fill="none" stroke="#000" stroke-width="2.4" stroke-miterlimit="6"/>
<polygon points="1727.0,2238.3 1730.2,2248.2 1740.7,2248.3 1732.2,2254.4 1735.5,2264.3 1727.0,2258.2 1718.5,2264.3 1721.8,2254.4 1713.3,2248.3 1723.8,2248.2" fill="none" stroke="#000" stroke-width="2.4" stroke-miterlimit="6"/>
<polygon points="1752.7,2238.3 1755.9,2248.2 1766.4,2248.3 1757.9,2254.4 1761.2,2264.3 1752.7,2258.2 1744.2,2264.3 1747.5,2254.4 1739.0,2248.3 1749.5,2248.2" fill="none" stroke="#000" stroke-width="2.4" stroke-miterlimit="6"/>
<polygon points="1880.0,2263.5 1883.2,2273.4 1893.7,2273.5 1885.2,2279.6 1888.5,2289.5 1880.0,2283.4 1871.5,2289.5 1874.8,2279.6 1866.3,2273.5 1876.8,2273.4" fill="none" stroke="#000" stroke-width="2.4" stroke-miterlimit="6"/>
<polygon points="1614.0,1645.9 1617.2,1655.8 1627.7,1655.9 1619.2,1662.0 1622.5,1671.9 1614.0,1665.8 1605.5,1671.9 1608.8,1662.0 1600.3,1655.9 1610.8,1655.8" fill="none" stroke="#000" stroke-width="2.4" stroke-miterlimit="6"/>
<polygon points="938.5,2189.0 942.7,2201.8 956.1,2201.8 945.2,2209.7 949.4,2222.5 938.5,2214.6 927.6,2222.5 931.8,2209.7 920.9,2201.8 934.3,2201.8" fill="#000"/>
<polygon points="771.2,2353.5 775.4,2366.3 788.8,2366.3 777.9,2374.2 782.1,2387.0 771.2,2379.1 760.3,2387.0 764.5,2374.2 753.6,2366.3 767.0,2366.3" fill="#000"/>
<polygon points="414.3,2484.4 418.5,2497.2 431.9,2497.2 421.0,2505.1 425.2,2517.9 414.3,2510.0 403.4,2517.9 407.6,2505.1 396.7,2497.2 410.1,2497.2" fill="#000"/>
<polygon points="986.4,2491.7 990.6,2504.5 1004.0,2504.5 993.1,2512.4 997.3,2525.2 986.4,2517.3 975.5,2525.2 979.7,2512.4 968.8,2504.5 982.2,2504.5" fill="#000"/>
<polygon points="1496.6,2483.5 1500.8,2496.3 1514.2,2496.3 1503.3,2504.2 1507.5,2517.0 1496.6,2509.1 1485.7,2517.0 1489.9,2504.2 1479.0,2496.3 1492.4,2496.3" fill="#000"/>
<polygon points="1605.0,2448.7 1609.2,2461.5 1622.6,2461.5 1611.7,2469.4 1615.9,2482.2 1605.0,2474.3 1594.1,2482.2 1598.3,2469.4 1587.4,2461.5 1600.8,2461.5" fill="#000"/>
<polygon points="1771.8,2426.6 1776.0,2439.4 1789.4,2439.4 1778.5,2447.3 1782.7,2460.1 1771.8,2452.2 1760.9,2460.1 1765.1,2447.3 1754.2,2439.4 1767.6,2439.4" fill="#000"/>
<polygon points="1151.0,1566.0 1155.2,1578.8 1168.6,1578.8 1157.7,1586.7 1161.9,1599.5 1151.0,1591.6 1140.1,1599.5 1144.3,1586.7 1133.4,1578.8 1146.8,1578.8" fill="#000"/>
<circle cx="261.6" cy="2704.5" r="12.6" fill="#000"/>
<circle cx="420.4" cy="2708.0" r="12.6" fill="#000"/>
<circle cx="687.8" cy="2704.6" r="12.6" fill="#000"/>
<circle cx="754.5" cy="2509.2" r="12.6" fill="#000"/>
<circle cx="773.2" cy="2563.0" r="12.6" fill="#000"/>
<circle cx="786.6" cy="2694.5" r="12.6" fill="#000"/>
<circle cx="912.2" cy="2617.2" r="12.6" fill="#000"/>
<circle cx="1138.3" cy="2701.3" r="12.6" fill="#000"/>
<circle cx="1157.3" cy="2712.3" r="12.6" fill="#000"/>
<circle cx="1175.6" cy="2696.0" r="12.6" fill="#000"/>
<circle cx="1221.0" cy="2722.8" r="12.6" fill="#000"/>
<circle cx="1437.0" cy="2629.0" r="12.6" fill="#000"/>
<circle cx="1574.3" cy="2678.0" r="12.6" fill="#000"/>
<circle cx="1849.0" cy="2698.3" r="12.6" fill="#000"/>
<circle cx="1150.4" cy="1496.2" r="12.6" fill="#000"/>
<text x="1182.7" y="1501.0" font-size="58" font-weight="bold" textLength="396.3" lengthAdjust="spacingAndGlyphs"><tspan dy="0">Ca(Fe,Mg)Si</tspan><tspan font-size="35" dy="20">2</tspan><tspan dy="-20">O</tspan><tspan font-size="35" dy="20">6</tspan></text>
<text x="1183.0" y="1592.0" font-size="58" font-weight="bold" textLength="338.1" lengthAdjust="spacingAndGlyphs"><tspan dy="0">(Fe,Mg)Fe</tspan><tspan font-size="35" dy="20">2</tspan><tspan dy="-20">O</tspan><tspan font-size="35" dy="20">4</tspan></text>
<text x="1648.0" y="1498.5" font-size="58" font-weight="bold" textLength="300.8" lengthAdjust="spacingAndGlyphs"><tspan dy="0">Ca</tspan><tspan font-size="35" dy="20">2</tspan><tspan dy="-20">MgSi</tspan><tspan font-size="35" dy="20">2</tspan><tspan dy="-20">O</tspan><tspan font-size="35" dy="20">7</tspan></text>
<text x="1648.0" y="1591.5" font-size="58" font-weight="bold" textLength="264.2" lengthAdjust="spacingAndGlyphs"><tspan dy="0">CaMgSiO</tspan><tspan font-size="35" dy="20">4</tspan></text>
<text x="1650.0" y="1676.5" font-size="58" font-weight="bold" textLength="325.1" lengthAdjust="spacingAndGlyphs"><tspan dy="0">(Mg,Fe)</tspan><tspan font-size="35" dy="20">2</tspan><tspan dy="-20">SiO</tspan><tspan font-size="35" dy="20">4</tspan></text>
</g>
</svg>
</body>
</html>
